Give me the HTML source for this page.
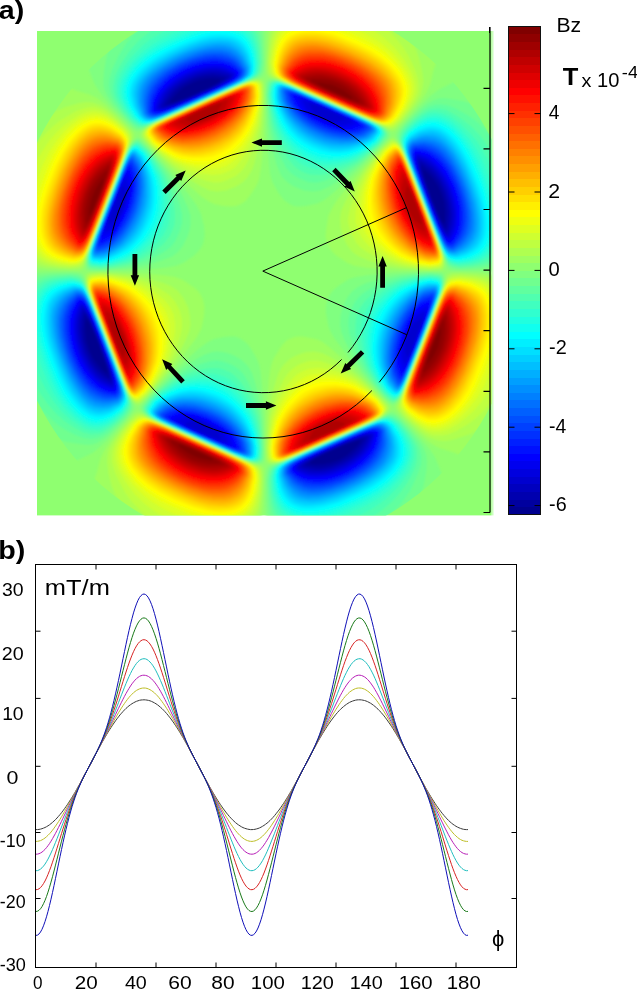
<!DOCTYPE html>
<html><head><meta charset="utf-8"><title>Bz field and gradient</title>
<style>html,body{margin:0;padding:0;background:#fff}svg{display:block}text{font-family:"Liberation Sans","DejaVu Sans",sans-serif;fill:#000}</style></head><body>
<svg width="637" height="990" viewBox="0 0 637 990">
<rect width="637" height="990" fill="#fff"/>
<defs><clipPath id="cr"><rect x="37" y="31" width="454.5" height="484.4"/></clipPath>
<clipPath id="cd"><ellipse cx="265.2" cy="271.5" rx="258.0" ry="276.4"/></clipPath><filter id="bl" x="-5%" y="-5%" width="110%" height="110%"><feGaussianBlur stdDeviation="0.9"/></filter></defs>
<rect x="37" y="31" width="454.5" height="484.4" fill="#8fff70"/>
<rect x="491.5" y="31" width="2" height="484.4" fill="#8fff70" opacity=".45"/>
<g clip-path="url(#cr)"><g clip-path="url(#cd)"><g filter="url(#bl)">
<path fill="#9fff60" d="M268.5 28l165.5 0 2.5 6 2 6 1 6-.5 4.5-1.5 9-4 10.5-3 13.5-4 9-6 9-11 13.5-14 15-3 1.5-3-1-5.5-3.5-8.5-4.5-83.5-37-10.5-4.5-12-3.5-1.5-1-.5-.5-1-3 0-10.5 1-24zM251.5 80.5l6-1 4.5 0 1.5 1 1 4.5 0 34.5-1 24-2.5 24-2 12-2.5 6-6.5 10-4.5 5.5-4.5 3-4.5 2-6 .5-7.5-.5-9-2-6-3-6-4-21-18.5-13.5-13-19.5-20.5-6.5-7.5-1-1.5 0-1.5 1.5-3 3.5-3 5.5-3.5 7.5-4 81-36zM53.5 85l6 0 7.5 2 10.5 4 12 3.5 7.5 3.5 7.5 5.5 12 11 16.5 17 1.5 3-.5 3-5 9-3.5 8.5-34.5 89-4 12-3.5 12-1.5 1.5-3 1-30-1-9-1-6-1.5 0-173.5 6-4 4.5-2 4.5-1.5zM390 139l2.5-1.5 1.5 .5 1.5 1.5 3 3.5 4 6.5 4.5 12 36 93 1 4.5 .5 6-1 4.5-1.5 1-12 .5-31.5-1-30-2-13.5-2-7.5-3-10.5-7-3.5-3-2.5-3-3.5-6-2-7.5 1-9 2-12 4.5-9 5-7.5 9.5-12 12.5-15 21-24zM89 272.5l12.5-.5 30 1 19.5 1 15 1.5 9 1.5 8 3 11 7.5 3.5 3 2.5 3 3 6 1.5 7.5-.5 9-2.5 12-4.5 9-14.5 19.5-12.5 15-21 24-7 7-3 2.5-1.5 .5-3-2-3-4-4-7-35-90-5-15-1.5-6 0-6 .5-1.5zM447.5 274l3.5-1.5 10.5 0 21 1 12 2 0 175.5-7.5 4-7.5 2.5-7.5 .5-6-1-7.5-2.5-6-2.5-12-3.5-6-3-7.5-5-7.5-6.5-15-15-6.5-7-2-3 0-3 5.5-10 3-7 34-88 5.5-15 2.5-10.5zM294.5 337l3.5-.5 4.5 0 13.5 2.5 6 2.5 6 4.5 18 15.5 19.5 19 23 24 1.5 3 0 1.5-2 3-5.5 4.5-5 2.5-13.5 6.5-81 35.5-7.5 2.5-6 0-2-.5-1-1.5-.5-3-.5-12 .5-27 1-19.5 2-21 1.5-10.5 1.5-6 2-4.5 7.5-12 3-3.5 3-2.5 3-1.5zM136.5 412l1-.5 3 .5 9.5 6 13 6 82.5 36.5 16.5 5.5 1.5 1.5 .5 3 0 10.5-1 24-1.5 13.5-163 0-3-6-2.5-6-1.5-6-.5-6 2-10.5 4-12 3.5-13.5 3.5-7.5 7-10.5 16-19.5 7.5-8z"/>
<path fill="#80ff80" d="M87.5 28l177 0 .5 33-.5 10.5-1 3-.5 1.5-2.5 1.5-7.5 2-13.5 5.5-81.5 36-10 5-7.5 5-3 .5-3-1.5-4.5-4-19-20-10-12-6-9-5.5-13.5-3-6-3.5-13.5 0-6 .5-6 1.5-6zM465 77.5l7-1.5 7.5 .5 6 1.5 9 4.5 0 188.5-18 0-21 0-4.5-.5-3-1-1-1.5-4-13.5-20.5-54-18-46.5-3-7.5-5.5-9 0-1.5 0-1.5 1.5-3 6-7.5 17.5-19 10.5-10 7.5-5.5 12-6 6-3.5zM267 80.5l2.5-1 3 0 4.5 .5 4.5 1.5 87 38 10.5 5 6 4 3.5 3 1 1.5 .5 1.5 0 1.5-2 3-5.5 6-23 23.5-15 14.5-12 10.5-7.5 6-7.5 4-12 2.5-7.5 .5-4.5-.5-3-1.5-6-4-6-7.5-6-10.5-2.5-9-2.5-25.5-1-22.5-1-33 .5-9zM135.5 139l2-1.5 1.5 .5 3 2.5 7 7.5 28 31.5 14 18 5.5 7.5 4.5 9 3 12 .5 6 0 4.5-1.5 7.5-3.5 6-6 6-9.5 6.5-4.5 2-4.5 1.5-9 1.5-15 1.5-19.5 1-31.5 1-9 0-3-.5-1-1-1-1.5 0-4.5 1-6 1.5-6 37.5-97.5 4-8 3-4.5zM34 272.5l13.5-.5 25.5 0 6 .5 3 1 1.5 1.5 3.5 12.5 5.5 15 33 85.5 3 7.5 5 9 1 3 0 1.5-2 3-6 7.5-19 20.5-10.5 9.5-4.5 3.5-13.5 6.5-6 3.5-12 3.5-7.5 .5-6-1-7.5-3-6-3.5zM405.5 272.5l24.5-.5 11.5 .5 2 1 .5 .5 .5 3 0 3-1.5 7.5-3 9-36 93-2.5 5.5-3 5-3 3.5-3 2-3-2-6-6-20.5-23-15-18-13.5-18-3.5-6-2.5-6-2.5-13.5 0-7.5 2-7.5 3.5-6 3-3 6-4.5 8.5-5.5 7-2 9.5-1.5 18-2zM224 337l6.5-.5 4.5 0 4.5 1.5 4.5 3 4 3.5 3.5 5 5 8.5 2.5 6 1.5 7 1 9.5 1.5 18 1 21 .5 39-.5 3-.5 1-1.5 1-3 .5-3-.5-9-2.5-84-37-15-7.5-5.5-4.5-2-3 0-1.5 1.5-3 9-10 21-21.5 24-22 7.5-6 6-4 4.5-2zM390.5 412l2-.5 3 1.5 7.5 7 22 23.5 6 7.5 4 6 5.5 13.5 3.5 7.5 3.5 13.5 0 7.5-1 6-2.5 7.5-3 6-175 0-.5-15 0-25.5 1-7.5 .5-3 1-1 1.5-1 13.5-4 81.5-36 13-6z"/>
<path fill="#afff50" d="M272 28l130 0 5.5 7.5 5 7.5 4 7.5 2.5 7.5 3 12 1.5 10.5-1 7.5-2 7.5-5.5 9-13 16.5-6.5 6.5-1.5 1-3 .5-3-.5-19-9-84.5-37.5-11-4.5-2.5-1.5-2.5-3-.5-1.5-.5-9 2-23zM253.5 80.5l4-.5 3 1 1.5 1 1 3 .5 10.5-.5 13.5-1 16.5-2.5 16.5-5 21-2 6-2.5 4.5-3 4.5-3 3-4.5 3.5-4.5 2.5-9 3.5-9 1-7.5-1-7.5-3.5-15-9-15-11.5-21-19.5-8-9.5-.5-3 0-1.5 2-3 3.5-3 5.5-3 86-38.5 9-3.5zM79.5 103l7-1 6 .5 7.5 2.5 6 3.5 10.5 8.5 11.5 11.5 3.5 4.5 .5 3 0 3-8 19.5-41 106.5-1.5 1.5-2.5 1.5-9 1-12-1-12-1.5-6-1.5-6-3 0-133 12-11 10.5-7 9-4zM390.5 140.5l2-.5 3 1 3 3 3 4.5 5.5 13 12 31.5 18 46.5 5.5 15 1 6 0 3-.5 3-1 1.5-1.5 1-12 1-27-2-18-3-16.5-5-9-4-6-4.5-5.5-7.5-3.5-7.5-2.5-9-.5-9 1-7.5 4-9 8-15 11-16.5 18-22zM90 274l11.5-1 27 2 18 3 17 5 8.5 3.5 6 4.5 5.5 7 4.5 9 2 9 .5 9-1.5 7.5-4 9-7.5 15-11.5 16.5-18 22-7.5 7-1.5 1-1.5 0-1.5-.5-3-2-3-4-2-4-7-16.5-28-73.5-4.5-12-1.5-7.5-.5-3 .5-3 1-2zM450 275.5l2.5-1 7.5-.5 13.5 1 13 2 5 1.5 3 1.5 0 136-12 10.5-6 4-6 3.5-6 2-10.5 3.5-7.5 1.5-4.5 0-6-1-4.5-1.5-4.5-2-6-4.5-7.5-6.5-9.5-9-5-6-1-3 0-1.5 1-3 8.5-21 34-88.5 5-14 1.5-2.5zM306.5 352l8-.5 7.5 1.5 7.5 3.5 15 9 16.5 13 18 17.5 7.5 8.5 1 1.5 .5 3-3 4.5-3.5 3-7 4-10.5 4.5-81 36-7.5 1.5-4.5 0-2.5-1-1.5-3-.5-10.5 1-15 1-15 2-16.5 1.5-7.5 4.5-15 2-6 2.5-4.5 2-3 3-3 4.5-4 4.5-2.5 6-2.5zM135.5 415l3.5-1 3 .5 13.5 6.5 84 37.5 18.5 7.5 2 1.5 1 1.5 1 3 .5 9-.5 10.5-2 16.5-1.5 6-2 4.5-125 0-10.5-13.5-6.5-12-3-7.5-3-12-1.5-12 .5-6 1-4.5 2-4.5 2.5-4.5 7.5-10.5 8-9.5z"/>
<path fill="#70ff8f" d="M121.5 29.5l1-1.5 138.5 0 1.5 9 .5 13.5 .5 12-1 9-2 3.5-3 2-12 5-84.5 37.5-19 9-3 .5-1.5 0-3-1.5-6-5.5-15.5-17.5-6-9-2.5-6-1-4.5 0-4.5 .5-9 2-12 2-7.5 2.5-6 3-6zM271.5 80.5l2.5-.5 4.5 1 9 3 88.5 39.5 6 3.5 3.5 3 2.5 4.5-.5 3-8.5 9.5-19.5 18.5-15 12-15 9-9 4-7.5 1-9-1-7.5-3-4.5-2-4.5-3.5-3-2.5-3.5-4.5-4-9-5-18-3.5-22.5-2-30 1-12 1-1.5 1-1zM439 98.5l4.5-.5 7.5 1 12 2 7.5 2.5 6 2.5 6 4 6 5 6 6 0 145-1.5 1-10.5 1.5-21 1-6-.5-4.5-1-1.5-1-2-2-43-111.5-6-14.5 0-4.5 1-3 5-6.5 7.5-8 9-8.5 6-5 6-3zM135.5 140.5l2-1 3 1.5 8.5 8.5 17.5 21 8.5 12 4.5 7.5 8 16.5 3 9 0 4.5 0 4.5-1 6-2 6-4.5 9-5 6.5-6 4.5-9 3.5-16 5-18.5 3-27 2-10.5-.5-1.5-.5-1.5-1-.5-1.5-1-4.5 1-6 2.5-7.5 36.5-94.5 5-9.5 1.5-2zM52 274l18-.5 6 .5 3 .5 1.5 1 3 3 7.5 21 41 105 0 4.5-1.5 3-5 6.5-7.5 7.5-9 9-6 4.5-6 3.5-4.5 1.5-4.5 .5-9-1-12-2-7.5-2.5-6-3-6-3.5-6-5.5-7.5-7 0-143 6-2zM412.5 274l17.5-1 10.5 1 1.5 1 1 2 .5 3 0 4.5-1 4.5-4 10.5-35 90-2 4.5-3 5-3 3-3 1-3-1.5-4.5-4-10-11-12-15-10-15-8.5-16.5-3-7.5-1.5-7.5 .5-9 2-9 4.5-9 5-6.5 6-4.5 8.5-4 17-5 16.5-3zM212 352l5-.5 6 .5 6 1.5 6 2.5 6 3.5 4.5 4 3 3.5 3.5 6 2.5 7.5 4 15 3.5 22.5 1 16.5 .5 15-.5 9-1 2.5-1.5 1-4.5 1-4.5-1-15-6-81-36-8.5-5-4-4.5-.5-1.5 .5-3 6-7.5 9.5-9.5 13.5-12.5 10.5-8.5 7.5-5 13.5-8zM387.5 415l2-1 4.5 .5 3 2 5 4.5 9.5 10.5 8.5 10.5 3.5 6 2 4.5 1 4.5 .5 4.5-.5 9-2.5 13.5-2 7.5-3 7.5-3.5 6-4.5 6-6.5 7.5-134 0-1.5-4.5-1-9-1-24 1.5-10.5 2.5-3.5 1.5-1 18-7.5 84.5-37.5z"/>
<path fill="#bfff40" d="M275.5 29.5l.5-1.5 110 0 9.5 10 7.5 9 5 8 6.5 13.5 3 9 1 7.5-.5 7.5-3 7.5-6.5 10.5-8.5 10.5-6 5-3 1.5-3-.5-30-12.5-82.5-37-2.5-1.5-2.5-3-.5-3-1-7.5 1-12 1.5-10.5 2-6zM249 82l4-1 4.5 0 3 1.5 1.5 2.5 .5 12-.5 12-2 16.5-5 19.5-8 18-3 5-3.5 4-4 3.5-4.5 2.5-9 3.5-4.5 1-4.5 0-9-2-15-5.5-15-9-6-4.5-9-7.5-9-8.5-6.5-8-1-3 .5-1.5 1.5-3 3.5-3 5-3 72-32.5 13.5-6zM87.5 107.5l6.5-.5 6 1.5 6 3 6 4.5 12 10.5 4.5 5 2 4.5 0 4.5-17.5 46.5-29.5 75-1.5 2-3 2-7.5 1-12-.5-10.5-2-4.5-1.5-4.5-2-6-5 0-108.5 5.5-7 8-9 6.5-6 5.5-4.5 15-9 7.5-3zM391 142l1.5-.5 1.5 0 3 2 3 3.5 2 4 6.5 15 25.5 66 5.5 15 3.5 10.5 0 4.5-.5 3-1 1.5-2.5 1.5-10.5 1-22.5-2.5-7.5-1.5-15.5-4.5-14.5-7.5-7.5-5-5-5.5-4.5-9-3-9-.5-4.5 .5-4.5 2.5-10.5 5-15 7.5-15 5-7.5 14-18zM90 275.5l2.5-.5 7.5-1 13.5 1 16.5 2.5 16.5 4.5 13.5 7 9.5 6 5.5 6.5 4.5 8.5 2.5 9 0 4.5 0 4.5-2 9-5.5 16.5-9 16.5-9.5 13.5-9.5 11.5-7.5 6.5-1.5 0-1.5 0-3-2-1.5-2-4-6.5-6-15-28.5-73.5-4-12-1.5-4.5 0-4.5 .5-3.5zM451.5 277l2.5-.5 6-.5 16.5 1.5 6 1.5 4.5 1.5 3 1 4.5 3.5 0 113-8 9.5-7 7.5-6 5-6 4.5-10.5 6-9 4-6 1-6 0-4.5-.5-6-3-12-9-7.5-6.5-3.5-4.5-2.5-4.5-.5-3 1.5-4.5 4.5-12 39.5-102.5 3-6 1.5-1.5zM309 361l4-.5 4.5 0 4.5 1 6 2 13.5 5 13.5 8.5 6 4 9 8 10 9.5 6 7.5 .5 3-.5 1.5-3.5 4.5-5 3.5-40.5 18.5-54 23.5-6 1.5-3 0-2.5-.5-2-1.5-1-3-1-9 1-10.5 2-21 5.5-19.5 8-18 5-7 4.5-4 4.5-3 6-2.5zM137 416.5l2-1 3 0 4.5 2 99.5 44 8.5 4 3.5 2 2 3 1 6 0 4.5-.5 12-1.5 9-1.5 6-2.5 6-3.5 4.5-103 0-.5-.5-13.5-13.5-6-7-4-6-8.5-16.5-3-9-1-4.5 0-4.5 .5-6 1.5-4.5 2-4.5 5.5-9 8.5-10.5z"/>
<path fill="#60ff9f" d="M138.5 29.5l1.5-1.5 117 0 3 9 1.5 12 .5 13.5-1.5 9-1.5 3-3 2.5-19.5 9-91.5 40.5-4.5 1-3-.5-3-1.5-5-4.5-8-9-6.5-9-2.5-4.5-2-4.5-1-4.5-.5-4.5 .5-6 2.5-9 7-15 7.5-12zM270.5 82l3.5-1 3 0 4.5 1 6 2.5 86 38 8 4.5 3 3 2 3 0 1.5-1 3-6.5 8-16.5 15-6 4.5-15 9.5-15 5.5-9 2.5-4.5 0-4.5-.5-9-3.5-7.5-4.5-3-3-3-3.5-7-13.5-4.5-12-4-16.5-2-19.5-1-10.5 1-9 .5-3zM435.5 104.5l6.5 0 6 1 7.5 3 12 6.5 6 4 6 5 6 6 9 9.5 0 122-6 3-6 1.5-7.5 1-15 1-7.5-1.5-3-1.5-1.5-1.5-1.5-3-7-16.5-38.5-100.5-1.5-4.5 .5-4 1.5-3.5 4.5-6 9-8.5 9-7.5 6-3.5zM135.5 142l2-.5 2 .5 8.5 7.5 7 9 9 12 9 16.5 4.5 10.5 3 10.5 1.5 6 0 9-2.5 9-4.5 9.5-3 4-3 3-7 4.5-15 7.5-15.5 4.5-7.5 1.5-22.5 2.5-10.5-1-2-1.5-1-1.5-.5-3 .5-6 2-7.5 36-93 2.5-5 3-5zM58.5 275.5l11.5-.5 7.5 1 3 1.5 3 4 29.5 75 17.5 46.5 .5 3-1 3-2.5 4.5-3.5 4.5-7.5 7-9 8-6 3.5-4.5 1.5-6 1-7.5-1-9-3.5-10.5-5.5-6-4-8-7-7.5-7.5-8.5-9.5 0-118 4.5-3 4.5-2 6-1.5zM413.5 275.5l16.5-1.5 9 1 1.5 .5 1.5 1.5 .5 1.5 .5 3-.5 4.5-1.5 6-4.5 12-33 85.5-2 4-3 4.5-3 3-1.5 .5-1.5 0-3-1.5-5-4.5-9-10.5-9.5-13.5-7-12-4-9-5.5-16.5-1-7.5 0-7.5 2.5-9 3.5-7.5 5-6 4.5-4 14.5-8 7.5-3 15.5-4.5zM211 361l6-.5 6 1 6 2 6 3 4.5 3.5 3 3 3 4.5 3 5.5 5 11 2 6 4 15 1 6 1.5 15 .5 13.5-.5 9-1.5 2-1.5 1-4.5 .5-7.5-1.5-43.5-19-48.5-22-7.5-4.5-3.5-4.5-.5-1.5 1-3 5.5-7.5 10-9.5 12-10 12-7.5 6-3.5 12-4.5zM386 416.5l3.5-1 3 .5 3 1.5 6 5 7.5 9 7.5 10.5 3.5 7.5 1.5 7.5-.5 7.5-2.5 7.5-2.5 6-5.5 12-4 6-5 7-14.5 15.5-111.5 0-2.5-4.5-2-5.5-1-6.5-1-10.5-.5-10.5 .5-6 1-4.5 2.5-3 5-3 22-10z"/>
<path fill="#cfff30" d="M279.5 29.5l1-1.5 89.5 0 1.5 1 12 8.5 10.5 9.5 10.5 13.5 7 12.5 3 9 .5 4.5 0 4.5-2 7.5-5 9-8.5 12-3.5 3-2 2-3 1.5-4.5 0-7.5-3-21-9-61.5-27-19.5-9.5-2.5-1.5-2-3-1-3-1-7.5 1.5-12 2-10 2.5-6.5zM250.5 82l4-.5 3 .5 2.5 1.5 1 3 .5 9-.5 9-3 21-6 16.5-2 4.5-4.5 7.5-7.5 10-4.5 4.5-4.5 2.5-7.5 3-9 1-12-1.5-7.5-2-4.5-1.5-15-8-12-9-10.5-9-5.5-8-.5-3 1.5-3 3-3 6-3.5 70.5-31.5 16.5-7.5zM87 112l7-1 6 1 6 2.5 7.5 5 10.5 9 3.5 4.5 2 4.5-.5 4.5-4.5 13.5-25.5 66-11 28.5-4.5 10-3 3.5-4.5 1.5-6 .5-12-1.5-9-2-6.5-3-5-4.5-3.5-5 0-82 4-9 5.5-9 6-9 6.5-7.5 8-7.5 7.5-5.5 9-5.5zM391 143.5l3-1 1.5 .5 3 2.5 4.5 7.5 5.5 13 25.5 66 7 19.5 1.5 6 0 4.5-1.5 3-2 1.5-9 1-13.5-1-15-3-13.5-5-9.5-5.5-10-7.5-6.5-7.5-4-7.5-2.5-9 0-9 2-13.5 3-10.5 6.5-15 9-13.5 8-10.5zM97.5 275.5l4 0 9 .5 15 2.5 6 2 14 5.5 9.5 6 9 7.5 6 7.5 3.5 7.5 1.5 9 0 9-2.5 13.5-2.5 9-6 13.5-8.5 13.5-9 11.5-7.5 6.5-3 .5-3-2-3-3.5-3.5-7-36-93-1.5-6-1-4.5 0-3 1-3 2-2zM452 278.5l8-1 10.5 1 9 2 4.5 1.5 4.5 2.5 3.5 3 2.5 3 0 89.5-5 9.5-8 12-7.5 9-8.5 7.5-7 5.5-10.5 6-7.5 2-7.5 0-4.5-1-6-3-7.5-5.5-7.5-6.5-5-6.5-1.5-3 0-3 1-4.5 3.5-10.5 36.5-94 3-7.5 3-5.5 1.5-1.5zM311 368.5l5-.5 4.5 0 13.5 2.5 9 3 12 6 13.5 10 10.5 9.5 5.5 7 1 3-.5 1.5-3 4.5-4.5 3-27 13-64.5 28-7.5 2.5-3 0-3-.5-1.5-1-1.5-3-1-9 1-10.5 3-19.5 5.5-16.5 3-6 5-8.5 7.5-9.5 3-2.5 4.5-3 4.5-2zM137.5 418l3-1 3 0 9 3.5 88.5 39 10.5 5 5 3 2 3 1 6 0 4.5-.5 9-3 14-2.5 5.5-2 3.5-6 5.5-79 0-11-6.5-10.5-8-10.5-10-9.5-13-6.5-12-1.5-4.5-1.5-6 0-4.5 .5-4.5 1.5-4.5 2-4.5 4.5-7.5 6.5-9 4-3.5z"/>
<path fill="#50ffaf" d="M152.5 29.5l2-1.5 98.5 0 2.5 4.5 2 4.5 2 12 1 13.5-1 7.5-1 3-2.5 3-9 5-78 34.5-24 10-3 1-4-1-3.5-2-4.5-4-7.5-9-4.5-7.5-2.5-4.5-1.5-4.5-1-6 .5-4.5 1.5-7.5 3.5-7.5 4-7 6-9 4.5-5.5 6-6.5zM273 82l2.5-.5 3 0 9 3 84 37.5 7 3.5 4 3 3 4.5-.5 3-6 8-10.5 9.5-12 9-13.5 7-10.5 3.5-7.5 1.5-6 .5-9-.5-7.5-2.5-4.5-3-4.5-3.5-7.5-9.5-7-12.5-5.5-15-1.5-6-2-13.5-1.5-13.5 1.5-10.5 1-2zM432 109l7-.5 7.5 1.5 9 5 7.5 5 9 7 8.5 9 7.5 10.5 6.5 10 0 100-5 4-5.5 2.5-12 2.5-12 1-7.5-1.5-3-1.5-1.5-1.5-3-5.5-5-12.5-37.5-97.5-1.5-6 0-3 1.5-4.5 3.5-5 9-9 6-4.5 6-3.5zM134.5 143.5l1.5-1 3 .5 7.5 6.5 8 10.5 7 10.5 3.5 6 6 15 3 13.5 1 7.5 0 6-.5 6-1.5 4.5-3.5 7.5-6 7.5-9.5 7.5-6 4-4.5 2.5-15 5.5-15 3-13.5 1-9-1-2-1.5-1-4.5 .5-4.5 2-7.5 34.5-90 5-10.5 1.5-2zM427 275.5l4.5 0 6 .5 3 1 1.5 2.5 .5 3.5-1.5 7.5-15 40.5-23 59-4.5 7.5-3 2.5-1.5 .5-1.5-.5-1.5-.5-6.5-5.5-8.5-10.5-8.5-13.5-5.5-12-3.5-9-3-15 0-9 1-9 3-7.5 5.5-7.5 6.5-6 10.5-7.5 6-3 13.5-5 15-3zM63 277l7-.5 7.5 1.5 3 1 3 4 6.5 15 23 58.5 13 34.5 3.5 10.5 0 3-.5 3-1.5 3-3.5 5-9 8.5-6 4.5-6 4-4.5 1.5-7.5 .5-7.5-2-10.5-5.5-8.5-6-8.5-7.5-8-9-7.5-10.5-6.5-11.5 0-93.5 4.5-5 6-3.5 9-2.5zM207 368.5l7-.5 6 .5 6 2 4.5 2 4.5 3.5 4.5 4.5 4.5 6 5.5 9 3.5 7.5 4.5 13.5 3 16.5 1 16.5-.5 7.5-.5 1.5-1.5 2-3 1-4.5-.5-6-1.5-7.5-3-79.5-35.5-8-4.5-2-1.5-2.5-3-1-3 0-1.5 1-1.5 4.5-6 9.5-9 10.5-8 6-4 13.5-6.5 7.5-2zM383.5 418l4.5-1 3 0 3 1.5 5.5 4 7.5 9 6 9 3 6 1 6 0 6-1 6-1.5 4.5-3.5 7.5-4.5 7.5-5.5 7.5-5 6-5 5-10.5 9-10 7-90 0-.5-.5-3.5-4-2.5-5-1.5-5.5-2-10.5-.5-12 .5-4.5 1.5-6 2-3 4.5-3 21-9.5 67.5-30z"/>
<path fill="#dfff20" d="M284 29.5l2-1.5 67 0 14 6.5 9 5.5 6 4 10.5 9 8 9.5 7 10.5 2.5 6 1.5 4.5 .5 7.5-2 7.5-5 10.5-6.5 9-4.5 4.5-4.5 2.5-3 0-4.5-1-21-9-61.5-27-16-7.5-7.5-4.5-2-3-1.5-6-.5-4.5 1.5-10.5 1.5-7.5 2-6 3-5zM246.5 83.5l5-1.5 4.5 .5 2.5 1 1.5 3 .5 7.5 0 3-1.5 12-2.5 13.5-2 6-4.5 10.5-6 10-4.5 5.5-4.5 5-4.5 3.5-4.5 3-7.5 2.5-10.5 1-12-1.5-10.5-3-10.5-4.5-13.5-9-9.5-8-5.5-7.5-.5-3 1.5-3 3-3 4.5-3 44-20 40.5-18zM90 115l5.5-.5 4.5 .5 6 2 7.5 4.5 9 7.5 4.5 5.5 1.5 4.5-.5 4.5-5.5 16.5-23.5 61.5-11 28-4.5 9.5-1.5 2-1.5 1-4.5 1.5-6 .5-10.5-1.5-9-2.5-7-4-5-6-4-7.5-.5-2 0-49 4-13.5 4.5-12 7.5-15 6-9 8.5-10.5 7-6.5 9-6.5 4.5-2zM391 145l3-1 1.5 0 3 2.5 1.5 2 3 5.5 5 12 25.5 66 7 19.5 1.5 6 0 3-1 3-2 2-9 1-10.5-1-15-3.5-8-3-11-6-9.5-7.5-7-7.5-3-4.5-2.5-4.5-2.5-9-.5-10.5 1.5-13.5 2.5-10.5 5-12 7-12 7.5-10.5zM95 277l6.5-.5 10.5 1 11 2.5 7 2 11 5.5 7 4.5 10 9 6 7.5 3.5 7.5 2 9 0 12-1.5 12-4 13.5-4 9-8.5 13.5-6.5 8.5-6 5-1.5 .5-1.5 0-1.5-.5-3-2.5-4.5-8-15.5-39-20.5-54-2-7.5-.5-6 1-2.5 1.5-1zM452 280l8-1 10.5 1.5 9 2.5 4.5 2 3.5 2.5 2.5 3 3 4.5 1.5 2.5 0 61.5-5 14-6 13.5-6 10.5-9.5 12-8 8-10.5 7.5-4.5 2-4.5 1.5-7.5 .5-6-1.5-6-3-4.5-3-9-7.5-4.5-6-1-3 0-3 1-4.5 4-12 35-90.5 3-7 3-5zM312.5 374.5l9.5-1 12 1.5 7.5 1.5 13.5 5.5 13.5 9 9 8 6 7.5 1 2.5 0 1.5-3 4.5-4.5 3-13 6.5-27 12-51 22.5-7.5 2-3 0-2.5-1-1.5-1.5-1-1.5-.5-7.5 1-13.5 3.5-18 5.5-13 3-5.5 3-4.5 4.5-6 4.5-5 4.5-3.5 4.5-3 4.5-2zM141.5 418l2 0 4.5 1 19.5 8 74 33 9 4.5 4.5 3 2 3 1 3 .5 7.5-1.5 10.5-2 7.5-2 6-3 5-6 5.5-6 3-50 0-14.5-5-10.5-5-12-7.5-7.5-6-10.5-10.5-8-11-2.5-4.5-2.5-6-1-4.5-.5-4.5 .5-4.5 1-4.5 2.5-6 3.5-6 7-9.5 4.5-4z"/>
<path fill="#40ffbf" d="M167.5 29.5l3-1.5 78 0 3 3.5 2.5 4 2 5.5 1.5 6.5 1.5 15-1 7.5-1 3-2.5 3-2 1.5-8.5 4.5-75 33.5-22.5 9-4.5 1-3-1-7-5-7-9-5.5-9-2.5-6-.5-4.5 0-6 1-4.5 3-7.5 4.5-7.5 5-7 6-6.5 6-6 7.5-6 9-5.5zM272 83.5l3.5-1.5 3 0 9 3 81 35.5 9.5 5 4 3 2.5 4.5-.5 3-5.5 7.5-10 8.5-12 8-9 4-10.5 3.5-12 2-10.5-.5-4.5-1-4.5-1.5-4.5-2.5-4.5-3.5-7.5-8.5-7-10-6-13.5-2-6-2.5-12-1.5-13.5-.5-3 1-7.5zM434.5 112l7.5 1 7.5 3 10.5 7.5 8.5 8 8 9 6.5 10.5 6.5 12 5 12.5 0 75-3 4-3 3-4.5 2.5-4.5 2-9 2-12 1-4.5-1-3-1-3-2.5-1.5-2-4.5-10-9.5-24-25.5-66-4.5-13.5-1-4.5 .5-3 1-3 4.5-6 9-8 6-4.5 6-3zM133.5 145l2.5-1 3 .5 6 5 8 10.5 6.5 10.5 3 6 5 15 2 10.5 .5 7.5 0 6-1 6-1 4.5-2 4.5-2.5 4.5-6 7.5-9.5 8.5-8 5-11.5 5.5-15 3.5-12 1.5-9-1-1.5-.5-1.5-1-1-3.5 0-4.5 2-7.5 35-90 4.5-9.5 1.5-2zM424 277l7.5-.5 6 .5 2.5 1.5 1 1.5 1 3 0 3-1 4.5-10.5 28.5-27 69-2 4-3 4.5-3 2.5-1.5 0-1.5 0-6-4.5-3-3.5-6.5-9-6.5-10.5-3-6-4.5-13.5-1.5-9-1-13.5 1.5-10.5 3-7.5 5-7.5 7-7.5 7.5-6 9.5-5.5 8-3.5 14.5-3.5zM66 278.5l5.5-.5 7.5 2 3 2 3 4.5 8 19 25.5 66 7 19.5 3 9 .5 3-1.5 4.5-2.5 4.5-2.5 3-7.5 7-6 4-6 3.5-4.5 1.5-7.5-.5-4.5-1-4.5-2-10.5-7-9.5-8.5-9.5-12-6.5-10.5-7-13.5-5-15 0-64.5 2.5-4.5 2-3 3-3 3-2.5 4.5-2 6-1.5 4.5-1zM198 374.5l7-1 7.5 0 6 1 6 2 6 3.5 4.5 3.5 5.5 6 5 7 4 6.5 6 13.5 1.5 6 2 10.5 1.5 16.5-1 7.5-.5 1.5-1.5 1.5-3 1-4.5-.5-12-4.5-78-34.5-9-5-3-3-2-3 .5-3 .5-1.5 5.5-7 9-7.5 10.5-7.5 4.5-2.5 13.5-5zM385.5 418l2.5-.5 3 1 3 1.5 5 4 7 9 4.5 7.5 2.5 6 1 6 0 4.5-1 4.5-2 6-2 4.5-5 7.5-4 5.5-12 12-7.5 6-9 6-10.5 5.5-10 4-64 0-4-2.5-3-3-3-4.5-2-5-2-7.5-1-6-.5-9 0-4.5 1.5-6 2-3 7.5-4.5 17-8 67.5-30 12-5z"/>
<path fill="#efff10" d="M289.5 29.5l3-1.5 44 0 14 5 13.5 6 12 6.5 10.5 7.5 7.5 7.5 8 9.5 4.5 9 2.5 7.5 0 6-2 7.5-3 7.5-7 10.5-4.5 4-4.5 2-3 0-6-1.5-21-9-61-27-13-6-7-4.5-1-1.5-1.5-3-1-7.5 2.5-15 2.5-7.5 3-5.5 3-3zM247.5 83.5l4-1 4.5 .5 1.5 1.5 1 2 1 7.5 0 3-1.5 12-3.5 13.5-4.5 10.5-7.5 11.5-9 10-4.5 3.5-4.5 3-4.5 1.5-4.5 1.5-10.5 1-10.5-.5-12-3-9-4-12-7.5-9-7.5-4.5-6.5-1-3 1-3 3-3 4.5-3 57-26 27-11.5zM91 118l6-.5 4.5 .5 7.5 3 6 4 7.5 6 3 4 1.5 2.5 .5 3 0 4.5-3.5 10.5-7 19.5-24.5 62.5-7.5 18-3 4-3 2-3 1-4.5 0-10.5-1.5-9-3-6-3.5-4-4.5-3.5-6-2.5-9-1-10.5 0-12 1.5-12 4.5-15 6-16.5 6-13.5 6-10.5 8-10.5 9-8.5 7.5-5zM393.5 145l2 0 3 2 1.5 2 3 5.5 8 19 25.5 66 4 12 1 6-1 5-1.5 1.5-1.5 .5-7.5 1-12-1.5-13.5-4-7.5-3.5-10-6.5-8.5-7.5-6-7.5-5-9-1-4.5-1.5-6-.5-10.5 1-12 3.5-13.5 2.5-6 5.5-10.5 7.5-10.5 2-2.5 4.5-3.5zM92.5 278.5l9-1 10.5 1.5 13.5 3.5 7 3.5 11.5 7.5 8 7.5 6 7.5 5 9 2 9 1 12-1 10.5-3.5 13.5-3 7.5-7.5 13.5-6 8.5-7.5 6-1.5 0-1.5-.5-3-2-1.5-2-3-6-30.5-77.5-5.5-15-2-7.5 0-3 .5-3 1.5-2zM451.5 281.5l7-1 13.5 2 9 4 4 2.5 2.5 3 4.5 7.5 2.5 9 0 29.5-3.5 15.5-6.5 18-7.5 16.5-7 12-8.5 10.5-6 5.5-4.5 3.5-6 3.5-4.5 1.5-4.5 1-4.5 0-4.5-1-6-3-4.5-2.5-7.5-6-2.5-2.5-2.5-4.5-1-3-.5-3 1.5-6 5-13.5 33-85.5 4.5-9 1.5-2zM315 379l8.5-1 10.5 .5 12 2.5 9 3.5 13.5 8.5 9 7 5.5 7.5 .5 3-.5 1.5-2.5 3-1.5 1.5-8 4.5-74.5 33-15 6-4.5 .5-3-1-1.5-1-.5-1.5-1-7.5 0-3 1-10.5 3-12 2-6 2.5-6 3.5-6.5 4.5-6.5 9-10 4.5-4 4.5-2.5 4.5-2zM140.5 419.5l3-1 3 .5 12 4.5 76 33.5 12.5 6 5 3 2 1.5 1.5 3 1 3 .5 6-1.5 10.5-1.5 6-2.5 6.5-3.5 5.5-2.5 2.5-4.5 3-4.5 2-6 2-6 .5-7.5 .5-12-1-7.5-1.5-7.5-2-16.5-7-15-7-7.5-5-6-4.5-9-8-8-10.5-4.5-9-1.5-4.5-.5-4.5 0-4.5 1-4.5 4-9 8-12 3-2.5z"/>
<path fill="#30ffcf" d="M182.5 29.5l4.5-1.5 56 0 4 3 3 3 3 5.5 2 5 1.5 7.5 1 12-.5 6-1 3-2.5 3-7 4.5-64 28.5-31.5 13.5-6 2-4.5-.5-3-2-5-4-6.5-9-4.5-9-2-6-.5-4.5 1-6 2-6 3.5-6.5 6-8 6-6.5 7.5-6.5 7.5-5.5 9-5.5 9-4.5zM273.5 83.5l3.5-1 3 .5 9 2.5 82.5 37 6 3 3.5 3 2 3 .5 1.5-1 3-5 7-9 7-12 7.5-7.5 3.5-12 3-10.5 1-10.5-1-9-2.5-7.5-5-4.5-3.5-4.5-5-6-8-7-13-2-6-3-12-1.5-12-.5-3 1-7.5zM427 116.5l4.5-1 3-.5 4.5 .5 4.5 1.5 4.5 2 4.5 3 9 8 8 9 8 12 6 12 6 15 5 17 0 47.5-2.5 6-4.5 6-4 3-5.5 2.5-7.5 2-12 1.5-4.5-1-3-1-3-2-1.5-2-3-6-6-15-32-82.5-2-7.5-1-4.5 .5-4 1.5-3.5 3-4 7.5-7 6-4zM135.5 145l2 0 1.5 1 4.5 3.5 2.5 3 7 10.5 6 10.5 2 4.5 3 12 1.5 12 0 12-2.5 10.5-4 9-7 9-8.5 7.5-10.5 7-7.5 3.5-13.5 3.5-10.5 1.5-9-1-1.5-1-1.5-1.5-.5-4.5 .5-4.5 3-9 33-85.5 4.5-9 3-3zM421.5 278.5l8.5-1 7.5 1 1.5 .5 1.5 1.5 1 2.5 0 3-1 4.5-7.5 21-28.5 73.5-4.5 9-3 3-1.5 1-1.5 0-3-1.5-6.5-5.5-7-10.5-6-10.5-2-4.5-3-10.5-1.5-10.5-.5-12 1.5-9 2-7.5 4-7.5 6-7.5 7-6.5 7.5-5.5 9-5 6-2zM66.5 280l5-.5 7.5 1.5 3 2 3 4.5 7.5 18 23 58.5 9 24 3 10.5 .5 4.5-1 3-4.5 7-10.5 9-6 3.5-6 2-4.5 .5-4.5-.5-4.5-1.5-4.5-2.5-4.5-3-5-4-5.5-5.5-4.5-5-8.5-12-6-12-7.5-18-4.5-16.5-2-9.5 0-30 1.5-5.5 2-6 2.5-4.5 2.5-3 5-4 4.5-2 5-1.5zM193 379l7.5-1 7.5 0 6 .5 6 2 6 2.5 4.5 3 5.5 5 5 5.5 4.5 6 4.5 7.5 3 6.5 2 6 3 12 1.5 12-.5 9-.5 1.5-1 1.5-3 1.5-4.5 0-12-4-78-35-8.5-4.5-3-3-1.5-3 .5-3 5-7 9-7.5 15-9 7.5-3zM382 419.5l4.5-1 3 .5 3 1.5 4.5 3.5 7 9 2.5 4.5 3.5 7.5 1 6 0 4.5-1 4.5-3.5 9-2.5 4.5-5.5 7-9 9.5-10.5 8-13.5 7.5-18 8-9 3-7.5 2-35 0-8.5-3.5-6-5-2.5-3.5-2.5-4.5-1.5-6-1.5-6-.5-12 1-6 2.5-4.5 6.5-4.5 16.5-7.5 64.5-29z"/>
<path fill="#ffff00" d="M297.5 29.5l8-1.5 10.5 0 12 1.5 10.5 3 16.5 7 15 7 10.5 6.5 9 7.5 6.5 6.5 5.5 8 3.5 7 1.5 7.5-.5 6-2 7.5-3 6-6 9-5.5 4.5-3 1-4.5-.5-4.5-1.5-19.5-8-60.5-27-12.5-6-7-4.5-1-1.5-1.5-3-1-7.5 2.5-12 2.5-7.5 2.5-4.5 4-4.5 6-4zM248.5 83.5l3-.5 3 .5 2.5 1.5 .5 1.5 1 7.5-1.5 13.5-4 13.5-4.5 10-7.5 10.5-9 9-4.5 3.5-4.5 2.5-9 3.5-10.5 1.5-12-1-10.5-2-7.5-3-12-7.5-8-6-5-7.5-.5-3 2-3 3.5-3 5.5-3 71.5-32 10.5-4.5zM91 121l4.5-1 6 .5 6 2.5 6 3 7.5 5.5 3 3.5 3 5.5 0 4.5-2.5 9-6 16.5-24.5 63-7.5 18-3 5.5-3 2.5-4.5 1.5-4.5 .5-10.5-2.5-8-3-6-4.5-3.5-4.5-3.5-7.5-2-9 0-10.5 1-12 3-13.5 4.5-13.5 7.5-19.5 6.5-12 7-10.5 8.5-9 7.5-5.5zM392.5 146.5l3-.5 1.5 1 3 2.5 3 5.5 23 57.5 11.5 31.5 3 9 .5 4.5-.5 3-1.5 2-1.5 1-7.5 1-10.5-1.5-13.5-4.5-6-2.5-8.5-6-9.5-9-6-7.5-4.5-9-2.5-9-1-10.5 .5-12 2.5-12 2.5-7.5 7-13.5 6-8.5zM100 278.5l12 2 10.5 3 6 2.5 7 4.5 9 7.5 7 7.5 4.5 7.5 4 9 2 9 .5 10.5-1 12-2.5 10.5-2.5 6-7 13.5-5 7.5-7 5.5-3 .5-3-2.5-1.5-1.5-3-6-22.5-57.5-13.5-36-1.5-7.5 1-4.5 2-2zM451 283l3-1 4.5-.5 12 2.5 9 4.5 3 2 3 3 4 7.5 1.5 4.5 1 6 .5 10.5-1 13.5-3.5 15-6.5 18-7 16.5-7.5 13.5-4.5 6-5.5 6-4.5 4-4.5 3.5-4.5 2.5-4.5 1.5-4.5 1-4.5-.5-4.5-1-6-3-10.5-7.5-3-3.5-1.5-3-1-3 0-3 2.5-9 4-12 30.5-78 6-13 1.5-1.5zM322 382l9-.5 9 1 9 2 7.5 3 10.5 6 10.5 8 4 6 .5 1.5 .5 1.5-1.5 3-3 3-2 1.5-9 4.5-75 33.5-7.5 2.5-4.5 1.5-3-.5-3-1-1.5-3-1-7.5 2-12 4-15 5.5-10.5 4.5-6.5 4.5-5.5 4.5-4.5 4.5-4 4.5-2.5 6-3 4.5-1.5zM140 421l3.5-1.5 3 0 9 3 75.5 33 12.5 6 7.5 4.5 2 1.5 1.5 3 1 4.5 0 4.5-2 10.5-1 4.5-2.5 6-3 4.5-3 3-4.5 3-4.5 2-4.5 1-6 1-6 0-13.5-1-13.5-4-18-7-15-7.5-12-8-9-8.5-7-8.5-4-7.5-1.5-4.5-1-4.5 0-4.5 1-4.5 3.5-9 6.5-10.5z"/>
<path fill="#20ffdf" d="M195.5 29.5l6-1.5 33.5 0 6 2.5 4.5 3 3 3 3 5 3.5 10.5 1.5 12-1 6-1.5 4.5-3 3-11.5 6-78 34.5-9 4-6 1.5-3 0-3.5-1-5.5-4.5-5.5-7.5-3.5-6-3-7.5-.5-6 .5-4.5 1.5-6 4-7.5 4-6 7-7.5 6-5 7.5-5.5 7.5-4.5 10.5-5 13.5-6zM276 83.5l2.5-.5 3 .5 9 3 78 34.5 5.5 3 5 3 3 4.5 0 3-5 7.5-8.5 6.5-12 7-6 2.5-10.5 2.5-12 1-10.5-1-9-3.5-4.5-2-4.5-3.5-7.5-7-7.5-9.5-6-11-4.5-15-2.5-13.5 1.5-9 1-2zM432 118l4 0 4.5 1 4.5 2 4.5 2.5 7.5 6.5 9 10.5 6 9 5.5 10.5 7.5 18 5.5 16.5 2.5 12 1 12 0 12-1.5 9-3 7.5-4 5.5-6 4.5-7.5 3-10.5 2-4.5 0-6-1.5-3-2-1.5-2-4.5-9-6-15.5-25.5-66-6.5-18-1-4.5 .5-3 1.5-4.5 3.5-4.5 8-7 4.5-2.5 6-3zM134 146.5l2-.5 1.5 .5 7.5 6 6.5 10.5 7.5 15 2.5 10.5 1 13.5-.5 10.5-2.5 10.5-4.5 9-5.5 7.5-9 9-9 6.5-7.5 4-13.5 4-10.5 1.5-7.5-1-2-1.5-.5-1.5-.5-3 .5-4.5 2-7.5 33.5-86.5 4.5-9 1.5-1.5zM429.5 278.5l8 1 1.5 1 1 1 1 4.5-1.5 7.5-12 33-23 58-4.5 9-3 2.5-1.5 1-1.5 0-1.5-.5-5-4-2.5-3-7-10.5-4.5-9-2-6-2.5-10.5-1-12 .5-10.5 2-9 3.5-9 5-7.5 7-7.5 8-7 6-4 6-2.5 12-4zM66.5 281.5l6.5-.5 6 1.5 3 1.5 3 4.5 7.5 17.5 19.5 50.5 12 31.5 3 9 0 4.5-.5 3-4 6.5-10.5 8.5-6 3.5-4.5 1.5-4.5 .5-3 0-4.5-1-4.5-2-4.5-3-4.5-3.5-5-5-5.5-6-7-10.5-6-12-8.5-21-5-16.5-2.5-13.5-.5-13.5 1-10.5 3-9 3.5-6 2.5-2.5 3-2.5 3-1.5 6-2.5zM194 382l6.5-.5 7.5 .5 6 1 6 2 4.5 2 6 4 6 5.5 4.5 5 5.5 7.5 4.5 7.5 2 5.5 3 11 2.5 15-.5 7.5-1.5 3-3.5 1.5-3-.5-4.5-1-7.5-3-75-33-8.5-4.5-4-3-2-3-.5-1.5 1-3 5-7 7.5-5.5 12-7.5 4.5-2 7.5-2zM383.5 419.5l3 0 3 .5 3 2 4 3.5 5.5 7.5 3 6 2.5 6 1 6 0 4.5-1 4.5-2 4.5-2.5 4.5-6 8.5-9 9-6 4.5-6 4-13.5 7.5-21 9-13.5 4-13.5 1.5-7.5 0-6-.5-6-1.5-4.5-2-4.5-2.5-3-2.5-4-6-2-6-1.5-6-1.5-10.5 .5-4.5 1-4.5 2-3 1.5-1.5 7.5-4.5 26.5-12 58.5-26z"/>
<path fill="#ffef00" d="M305.5 31l7.5-.5 9 1.5 10.5 2 10.5 4 16.5 7 12 6 10.5 7 8.5 7.5 5 5.5 4.5 6.5 2.5 6 1.5 6-.5 6-2 7.5-3.5 7.5-4.5 7.5-4 3-3 1.5-4.5 0-6-2-21-8.5-57-25.5-12.5-6-6.5-4.5-1-1.5-1.5-3-.5-6 2.5-13 3.5-8 4-5.5 4.5-3.5 7.5-3zM244.5 85l5.5-1.5 3 .5 2.5 1 1 1.5 1 7.5 0 3-2 10.5-2.5 8-2.5 7-2 4-3 5-4.5 6-4.5 4.5-6 5.5-9 5.5-9 3.5-10.5 1.5-10.5 0-10.5-1.5-6-2.5-12-6.5-9-6.5-4.5-6.5-.5-3 1.5-3 3.5-3 5.5-3 50-22.5zM90.5 124l5-1 6 0 7.5 2.5 6 3.5 6 4.5 3 3.5 1.5 2.5 1 2.5-.5 4.5-2 7.5-6 16.5-24 62.5-7.5 18-3 5-3 2.5-4.5 1.5-4.5 0-9.5-2.5-7-3-4.5-3-4.5-5-3-7-2-7.5-.5-9 .5-10.5 2.5-12 3.5-12 8.5-22.5 7-13.5 6.5-10.5 6.5-7.5 8-7zM392 148l3.5-1 1.5 .5 3 3 3 5 6 14.5 23 59 7 19.5 1.5 6 0 3-1 3-2 2-7.5 1-10.5-2-11.5-4-6.5-3-8-6-7.5-7.5-6.5-9-4.5-9-3-9-1-10.5 0-10.5 1.5-10.5 2-7.5 6.5-13.5 5.5-8.5zM97 280l4.5-.5 10.5 2.5 13.5 5 6 3.5 9 7.5 6.5 7.5 5 7.5 4 9 2.5 9 1 12-.5 10.5-2 10.5-6 15-5.5 9-3.5 4-4.5 3.5-1.5 .5-1.5 0-3-2-1.5-2-3-5.5-16.5-42-18-46.5-2.5-9 0-3 .5-3 .5-1 1.5-1zM456.5 283l9.5 1.5 4.5 1.5 4.5 2 5.5 4 3 3 1.5 3 3 7.5 2 10.5-.5 10.5-1.5 12-5 16.5-8.5 22.5-6.5 13.5-7 10.5-7 8-4.5 4-4.5 3-4.5 2-4.5 1.5-3 0-4.5 0-4.5-1.5-4.5-2-10.5-7-3-4-1.5-3-.5-2.5 .5-4.5 2.5-9 6.5-17 22.5-58.5 7.5-18 3-5.5 3-2.5 3-1.5zM326.5 385l9-.5 10.5 1.5 7.5 2 10.5 5.5 10 6.5 3 3 4 6 .5 3-1 1.5-3 3-7.5 4.5-75 33.5-12 4.5-4.5 .5-3-1-2-3-1-7.5 2-12 5-15 2.5-4.5 3.5-6 5-6 4.5-4.5 6-5.5 4.5-3 4.5-2 6-2.5zM142.5 421l2.5-.5 3 0 10.5 3.5 75 33 12.5 6 4.5 3 1.5 1.5 1.5 3 1 7.5-3 13.5-2.5 6-3 4.5-5 5-4.5 2.5-4.5 1.5-6 1-6 .5-12-1.5-15-4-18-7-15-7.5-7.5-4.5-6-4.5-8-7-7-9-3.5-7.5-1.5-7.5 .5-7.5 3.5-9 6-10.5 3.5-3z"/>
<path fill="#10ffef" d="M211.5 29.5l11.5-.5 10.5 1.5 7.5 3 3 2 3 3 3 4.5 2.5 6 1 4.5 1.5 10.5-1 7.5-1 3-1.5 1.5-6.5 4.5-12.5 6-57.5 25.5-21 9-6 2-3 0-3-.5-4-3-3-3-6.5-10.5-3-7.5-1-6 .5-6 2-6 3-6 4.5-6 6-6 6-5.5 7.5-5 9-5 13.5-6.5 15-6 9-3zM275 85l2-1 3-.5 4.5 1 4.5 1.5 75.5 33.5 9 4.5 4.5 3 3 3 .5 1.5-.5 3-5 7-7.5 5.5-12 6.5-7.5 3-9 1.5-10.5 .5-10.5-1.5-9-3.5-9-5-7.5-6.5-7.5-9-5.5-9-5.5-15-2-12 0-3 .5-6zM429.5 121l6.5 0 4.5 1 4.5 2 8 6 7 7.5 8.5 12 5.5 10.5 6.5 15 6 18 3 12 2 12 0 10.5-1.5 10.5-2.5 7.5-3.5 5-2.5 2.5-3.5 2-7.5 3.5-7.5 1.5-6 1-6-1.5-3-2-1.5-2-3-5.5-6-14.5-24-62-8-21-1.5-6 0-4.5 .5-3 3-4.5 1.5-2 9-6.5 6-3.5zM133 148l1.5-1 3 .5 6 5 7 10.5 6.5 15 2 10.5 .5 10.5-1 12-2.5 10.5-4 9-6.5 9-7 7.5-8.5 6.5-6 3.5-13.5 4.5-10.5 2-7.5-1.5-2-1.5-.5-4.5 .5-4.5 2-6 33-85.5 4.5-9zM426.5 280l5-.5 6 1 1.5 1 1 1.5 .5 3 0 3-1 4.5-12.5 33-22.5 57.5-4.5 8.5-3 3-1.5 .5-1.5 0-1.5-1-4.5-3.5-3-3.5-5.5-9-6-15-2-9-.5-10.5 .5-10.5 1.5-9 3.5-9 4.5-7.5 6-7.5 7-7 6-4.5 6-3 12-4.5zM67 283l6-1 6 1.5 3 1.5 3 4 4.5 10 9 22.5 21 54.5 6 18 1 4.5 0 3-1 3-3 4.5-4.5 4-6 4.5-9 4-3 .5-4.5 .5-4.5-1-4.5-2-4.5-3-4.5-3.5-8-8.5-7.5-10.5-6-12-8-19.5-6-18-2.5-13.5-.5-10.5 .5-10.5 2-9 2-4.5 2-3 5-4.5 7.5-4zM190 385l7.5-.5 7.5 .5 6 1 6 2 6 2.5 6 4 6 5 4.5 4.5 5 6.5 5 7.5 2 5 4 11.5 2 13.5-.5 7.5-2 3-3.5 1-3-.5-10.5-3.5-74.5-33-8.5-4.5-4-3-2-3 0-3 4-6 2.5-2.5 9-6 10.5-5.5 7.5-2.5zM379.5 421l4-1 3 0 3 1.5 5.5 4 7.5 12 2 6 1 4.5 .5 4.5-.5 3-1 4.5-2 4.5-6 9-7 7.5-10.5 8.5-12 7-24 10.5-15 5-13.5 2-6 0-6-.5-6-1-4.5-1.5-4.5-3-3-2.5-3.5-5-2.5-5.5-1.5-5-1.5-10.5 0-4.5 1-4.5 1.5-3 1.5-1.5 7.5-4.5 16.5-7.5 57.5-25.5z"/>
<path fill="#ffdf00" d="M302.5 34l7.5-.5 9 .5 10.5 2 10.5 3.5 16.5 7 12 6 10.5 6.5 8 6.5 5.5 6 4.5 6 3 6 1.5 6 0 6-2 7.5-3 7.5-3.5 6-1.5 1.5-4 3-2.5 1-4.5-.5-6-1.5-19-8-54-24-12.5-6-7.5-4.5-1.5-1.5-2-3-1-7.5 2-9 3-7.5 3.5-6 5-4.5 4.5-2.5zM245.5 85l4.5-1 3 .5 1.5 .5 1.5 3 .5 9-2 9.5-2.5 7-4.5 10.5-6.5 10-4.5 4.5-4.5 4-4.5 3.5-6 3.5-9 3.5-10.5 2.5-9 .5-10.5-1.5-9-3-10.5-5.5-7.5-5-5-6.5-.5-3 1.5-3 3.5-3 5-3 60-27zM95.5 125.5l6 0 6 1.5 6 3 7.5 5 3 4 1.5 3 .5 3-.5 3-3 10-7.5 20-21 54.5-7.5 17.5-3 5-3 2.5-3 1-4.5 .5-9-2.5-7.5-3.5-4.5-3.5-4.5-5.5-3-7.5-1-7.5-.5-10.5 1-9 3-12 5.5-16.5 6.5-16.5 7-13.5 7-10 7.5-8 7.5-5 4.5-2zM394.5 148l2.5 .5 1.5 1 1.5 1.5 3 5 7.5 18.5 21 54.5 6.5 16.5 2 7.5 0 3-.5 3-.5 1-1.5 1-7.5 1.5-10.5-2.5-10.5-4-7.5-4-7.5-6-6-6.5-6-9-4.5-9-2.5-9-2-12 .5-10.5 1-9 5-13.5 5.5-10.5 3-4 4.5-4zM93.5 281.5l8-1 9 2 8.5 3.5 9.5 5 7 5.5 7 7.5 6 9 4.5 9 3 10.5 1 10.5 0 10.5-1.5 9-5 13.5-5.5 10.5-3 4-4.5 4-1.5 .5-1.5 0-3-2-1.5-1.5-3-5.5-9-22-22.5-58.5-4.5-13.5-.5-4.5 .5-4zM454 284.5l4.5 0 7.5 2 4.5 1.5 6.5 4 3 3 2.5 3 3 7.5 1.5 9 0 10.5-1 10.5-4 15-8 21-7.5 16.5-6.5 10.5-7.5 9-7.5 6-7.5 3.5-4.5 .5-4.5 0-4.5-1.5-4.5-1.5-10.5-7-2.5-3-1.5-3-.5-3 .5-3 2.5-9 4.5-12.5 30-77 3-6 3-4 3-2zM326 388l9.5-1 9 1 7.5 1.5 9 4 6 3 9 6.5 4 6 .5 3-.5 1.5-3 3-7.5 4.5-64 28.5-19.5 8-4.5 1-4.5 0-1.5-1-1-2-1-7.5 1-4.5 1.5-7.5 3-9 3.5-7.5 3.5-6 7.5-8.5 4.5-4 6-4.5 6-3.5 4.5-2zM145.5 421l4 0 4.5 1.5 15 6 64 28.5 12 6 4.5 3 1.5 1.5 1.5 3 .5 4.5 0 3-3 12.5-4.5 8.5-3 3.5-3 2.5-4.5 2-4.5 1.5-10.5 1-6 0-6-1-7.5-2-7.5-2-18-7.5-15-7.5-12-8-7.5-7-7-8.5-3.5-7.5-.5-3-.5-4.5 .5-7.5 1.5-4.5 2.5-6 4.5-7.5 4-3z"/>
<path fill="#00ffff" d="M209.5 32.5l10.5-1 10.5 1 7.5 2.5 3 1.5 3 2.5 3 3.5 2.5 5 2 5 1.5 6 1 7 0 3-1 4.5-2 3-6.5 4.5-9 4.5-78.5 34.5-6 2-4.5 1-3-.5-4-2.5-3-3-5.5-9-3-7.5-1-6 0-6 1.5-4.5 2.5-6 4.5-6 5-5.5 6-5.5 7.5-5.5 9-5 13.5-6.5 13.5-5.5 10.5-3.5zM276 85l2.5-1 3 .5 7.5 2 34.5 15 44 19.5 8 4.5 3.5 3 1.5 3-.5 3-4.5 6-8.5 6-10.5 5-9 3-9 1.5-9-.5-10.5-2-9-3.5-9-5.5-7.5-6.5-6-6.5-5.5-9-5.5-13.5-2.5-12 .5-9zM426.5 124l3.5-.5 4.5-.5 6 2 7.5 4 4.5 4 4.5 4.5 6.5 9 6 10.5 8 18 6 16.5 3 12 2.5 13.5 0 10.5-1 9-2.5 7.5-2 3-2.5 3-4.5 3.5-7.5 3.5-10.5 2.5-4.5-.5-4.5-1.5-3-2.5-1.5-2.5-3-6.5-7.5-18.5-22.5-58-6-17-1.5-6 0-3 .5-3 2.5-4.5 1.5-2 7.5-5.5 4.5-2.5zM134 148l2 0 1.5 .5 4.5 4 2.5 3 6 10.5 5 13.5 1.5 9 0 10.5-1 10.5-3 10.5-4 9-5.5 9-7 7.5-7 6-8 4.5-11 4.5-9 2-7.5-1-1.5-.5-1.5-1.5-.5-3.5 .5-4.5 2.5-9 32-82 4.5-9 3-3zM425 281.5l5-1 6 1 3 1.5 .5 1.5 .5 3-1 6-10.5 28.5-24 61.5-3 6-3 4-1.5 1-1.5 .5-1.5 0-6-5-2.5-3.5-5-9-5.5-13.5-1.5-9-.5-9 1-9 1.5-9 2.5-7.5 4.5-9 6.5-9 5.5-6 5.5-4.5 6-3.5 10.5-4.5zM67 284.5l6-1 6 1 3 1.5 3 4 4.5 9.5 10.5 26.5 19.5 50.5 6 17.5 .5 4.5-.5 3-1.5 3.5-3 4-9 6.5-4.5 2-4.5 1.5-3 .5-4.5 .5-3-1-4.5-1.5-4-2.5-4-3-4.5-4.5-4-4.5-7-10.5-6-12-7.5-18-6-18-2.5-12-1.5-10.5 .5-10.5 2-9 3-6 2.5-3 3-3 7.5-4zM185 388l6.5-1 7.5 .5 7.5 1 7.5 2 6 2.5 6 3 6 4.5 4.5 4 6 6.5 4.5 6.5 2.5 5 4 10.5 2.5 10.5 .5 4.5-.5 7.5-1.5 2-1 1-2 .5-4-.5-12.5-4.5-71-31.5-8.5-4.5-3.5-3-2-3 .5-3 3.5-5.5 2-2 8.5-5.5 4.5-2.5 9-4zM381 421l2.5-.5 3 .5 3 1.5 3.5 3 5 7.5 2.5 4.5 2 6 1 4.5-.5 7.5-1 4.5-2 4.5-6 8.5-7.5 7.5-12 8.5-15 8-21 9-15 4-12 1.5-6 0-6-1-4.5-1.5-4.5-2-3-2-3-3-3-4.5-2.5-6-2.5-13.5 1-7.5 1.5-3 1.5-1.5 7.5-4.5 19-9 58-25.5 11-4.5z"/>
<path fill="#ffcf00" d="M300.5 37l6.5-1 9 0 9 1.5 10.5 3 15 6 15 7 10 6 8 6 6 6 4.5 6 3.5 6 1.5 6 .5 6-1.5 7.5-2.5 6-4 7.5-3.5 3-3 1.5-4.5 .5-6-2-18.5-7.5-54-24-12.5-6-7.5-4.5-1.5-1.5-1.5-3-1-6 2-8 2-5.5 3-6 4-5 4.5-3zM246.5 85l3.5-.5 3 .5 1.5 1.5 .5 1.5 .5 9-2 9-3 7.5-5 10.5-6 8.5-7.5 7-10.5 7-9 4-10.5 2.5-9 .5-9-.5-9-2.5-10.5-5-8-5-5-6-1-3 1.5-3 3.5-3 5-3 67-30 10.5-4.5zM93 128.5l5.5-1 4.5 .5 7.5 2.5 6 3 4.5 3 3 4 1 3 0 4.5-2.5 9-4.5 12.5-22.5 58.5-7.5 18-3 6-3 3.5-3 1.5-6 .5-9-3-6-3-4.5-3.5-4-5.5-2.5-6-1.5-7.5 0-9 1-9 2-10.5 5-15 7-18 6.5-13.5 6-9 6.5-7.5 7-6zM393.5 149.5l2-.5 1.5 0 1.5 1 3 4 1.5 2.5 18 45 13.5 35.5 4.5 13 .5 4.5 0 3-.5 1.5-2.5 1.5-8 .5-9-2-9-4-8.5-5-7-6-6-7.5-5-7.5-4-9-2.5-9-2-10.5 0-9 1-9 2.5-10.5 4-9 5-8.5zM93 283l1-.5 6-.5 4.5 .5 11 3.5 11.5 6 7 6 5.5 6 6 9 4.5 9 3 9 2 10.5 0 10.5-1 9-4 13.5-5.5 10.5-2.5 4-6 5-1.5 .5-1.5-.5-3-3-1.5-2.5-4.5-10-10.5-26.5-21-55.5-1.5-6 0-3 .5-3zM451.5 286l5.5-.5 10.5 3.5 7.5 4.5 3.5 3 2 3 2.5 6 2 9 0 10.5-1.5 10.5-4.5 16.5-7.5 19.5-7 15-6 10-8 9.5-4 3.5-4.5 3-3 1.5-4.5 1-4.5 .5-3-.5-9-3-7.5-4.5-1.5-1.5-2-3-1.5-3-.5-3 .5-3 2-7 4.5-12.5 28.5-73.5 3-6.5 3-5 3-3zM334 389.5l7.5 0 7.5 1 9 3 7.5 3.5 9 6 4.5 6 .5 3-1.5 3-3.5 3-9 4.5-70.5 31.5-12 4-3 .5-3-1-1.5-2-.5-7.5 0-3 2.5-9 2.5-7.5 3.5-7.5 6.5-9 8-8 6-4.5 6-3.5 6-2.5 6-2 6-1.5zM143.5 422.5l3-1 3 0 4.5 1.5 7.5 2.5 68 30 12.5 6 5 3 1.5 1.5 2.5 3 1 3 .5 4.5-3.5 12-2 4.5-3 4.5-3 3-3 2.5-3 1.5-4.5 1.5-4.5 1-6 0-12-1-13.5-4-16.5-6.5-16.5-8-10.5-7-7.5-6.5-6-6.5-4.5-7.5-1-3-1-4.5 .5-7.5 2.5-9 4.5-9z"/>
<path fill="#00efff" d="M219 34l8.5 .5 7.5 2 6 3 4.5 4.5 3 5 1.5 4 3 12.5-.5 6-1.5 3-1 1.5-6 4.5-9 4.5-54 24-24.5 10.5-5.5 2-4.5 .5-3-1-4.5-3.5-4.5-7-3-6-2-6-.5-6 1-6 2-6 4-6 4.5-5.5 6-5.5 9-6.5 10.5-6 12-5.5 12-5 10.5-3.5 10.5-2.5zM277.5 85l2.5-.5 3 .5 9 3 75 33 8 4.5 3.5 3 1.5 3-1 2.5-5 6.5-8.5 5.5-9 4-9 2.5-9 1-9-.5-9-2-9-3.5-9-5-7.5-6-6-6.5-5-7.5-6-13.5-3-12 .5-9 .5-1.5zM424 127l4.5-1 3-.5 4.5 .5 3 1 4.5 2 3.5 2.5 8 7.5 6.5 9 7 12 7 16.5 6 16.5 3 12 2 12 .5 10.5-1.5 9-3 7.5-3 4.5-6 4.5-7.5 3.5-9 2-4.5-.5-3-1-1.5-1.5-3-4-3-6-6-14.5-29-75.5-1.5-6-.5-4.5 .5-3 1.5-3 2-3 3-2.5 6-4zM132.5 149.5l2-1 2.5 1 6 6 6 10.5 4.5 13.5 1.5 9 0 10.5-1.5 10.5-2.5 9-4 9-5.5 9-6.5 7.5-6.5 6-9 5-9 4-9 2-7.5-.5-2.5-1.5-.5-3 0-4.5 3-9 30-78 4.5-10 1.5-2.5zM423.5 283l6.5-1.5 6 1 1.5 .5 1.5 1 .5 2-.5 6.5-3 9.5-6 16-25.5 65-4.5 8.5-3 2.5-1.5 0-3-1.5-3.5-3-2.5-3-5.5-10.5-4-12-1.5-7.5-.5-9 1-7.5 1.5-9 2.5-7.5 4-9 4.5-7.5 6-7.5 5.5-5 6-4 9-4.5zM67 286l6-1.5 6 1 3 1.5 1.5 1.5 3 5 13.5 33 18 46.5 6 17 1.5 5.5 0 3-.5 3-2.5 4-1.5 2-7.5 5-4.5 2.5-4.5 1.5-3 1-4.5 0-3-.5-4.5-1.5-7.5-5-4.5-4-4-5-7.5-10.5-6-12-7-18-5-15-3-10.5-1.5-12 .5-10.5 1.5-9 3-6 2-3 3-2.5 6-4zM190 389.5l6 0 6 .5 7.5 2 6 2 6 2.5 6 4 6 4.5 4.5 4 4.5 5.5 3.5 5 3.5 7.5 3 7.5 3 12-.5 7.5-1 3-2.5 1.5-3 0-5-1.5-8-3-71-31.5-8.5-4.5-3.5-3-2-3 1-3 4-5.5 3-2.5 7.5-4.5 7.5-3 7.5-2.5zM377 422.5l5-1 3 0 3 1 3.5 3 6.5 10.5 1.5 4.5 1.5 6 0 7.5-.5 3-2 5-2.5 4-3 4.5-8 8-10.5 7.5-13.5 7.5-21 9-15 4.5-12 2-6 0-6-.5-4.5-1.5-4.5-2-3-2-3-3-3-4-2-4.5-2-6-1.5-7.5 0-3 1-4.5 .5-1.5 2.5-3 7-4.5 12.5-6 57.5-25.5z"/>
<path fill="#ffbf00" d="M305.5 38.5l7.5 0 9 1 9 2 10.5 3.5 15 6.5 10.5 5.5 9 5.5 7.5 6 5.5 6 4.5 6 2 4.5 1.5 6 0 6-1.5 7.5-1.5 4.5-4 7.5-3.5 3-3 1.5-4.5-.5-4.5-1-17.5-7.5-54-24-13-6-7-4.5-1.5-1.5-1.5-3-1-6 3-9 2.5-6 4.5-6 4.5-4 4.5-2zM242.5 86.5l4.5-1 3-.5 1.5 .5 1.5 .5 1 2 .5 9-4 13.5-6 12-6.5 8.5-7.5 7-10.5 6.5-9 3.5-9 2.5-9 1-9-.5-10.5-3-9-4-7.5-4.5-5-6.5-.5-3 1-1.5 3.5-3 5-3 46.5-21zM99.5 130l5 .5 6 1.5 10 5.5 2.5 3 1.5 3 0 3-.5 4.5-3 10-6 16-19.5 50.5-7.5 18-3 5.5-3 3.5-3 1.5-4.5 .5-9-3-6-3.5-5.5-4.5-3.5-6-2-6-1-9 .5-9 1.5-9 4.5-16.5 6-16.5 6.5-13.5 6-10.5 6.5-8.5 7.5-6.5 6-3.5zM393 151l2.5-1.5 1.5 .5 3 2.5 4.5 8 6 15 19.5 50 7.5 20.5 1.5 5.5 0 4.5-.5 1.5-1 1.5-1.5 .5-7.5 .5-9-2.5-7.5-3.5-8.5-5.5-6.5-5.5-5.5-6.5-4.5-7.5-4.5-9-3-9-1.5-9-1-9 1-9 2-10.5 3.5-9 4.5-8.5zM98 283l5 0 10.5 3.5 9 5 7 5 6 6 6 7.5 4 7.5 3.5 9 2.5 9 1.5 9 0 9-1 9-3 10.5-4.5 10.5-3 4.5-5.5 5-1.5 .5-1.5-.5-1.5-1-3-4-1.5-3-15-37.5-18-47.5-2.5-9.5 0-4.5 1-1.5 1.5-1zM450 287.5l2.5-.5 4.5-.5 9 3.5 7.5 5 4.5 5 3 6 1.5 8.5 0 10.5-1.5 10.5-3.5 15-7.5 19.5-6 13.5-7.5 12-7.5 9-4 3-4.5 3-3 1.5-4.5 1-3 0-4.5-.5-6-2-9-4.5-3-3.5-1-2.5-.5-3 0-4.5 3-9 4.5-12.5 27-69 4.5-9.5 3-4zM328 392.5l7.5-1 9 .5 9 2 9 3 9 5 3 2.5 3.5 4.5 .5 1.5 .5 1.5-1.5 3-4 3-8.5 4.5-67 30-13.5 5-4.5 .5-2.5-1-1.5-3 0-6 1-6 2-7.5 2.5-5.5 3.5-6.5 4-6.5 7.5-8 9-6.5 10.5-5.5zM146 422.5l2-.5 4.5 .5 12 4.5 64 28.5 12.5 6 5 3 2 1.5 2 3 1 3 0 4.5-3 10.5-4.5 7.5-2.5 3-3 2.5-3.5 2-4 1.5-4.5 1-6 .5-10.5-1-12-3-15-6-18-8.5-12-7.5-7.5-6.5-5.5-6.5-4.5-7.5-1.5-6 0-7.5 2-9 4.5-9 3-3z"/>
<path fill="#00dfff" d="M211.5 37l10-.5 9 1 7 2.5 5 4 3 4 3 6 3.5 11.5-.5 6-1 3-1 1.5-6 4.5-9 4.5-75 33-7 2.5-4.5 .5-3 0-4-3-2.5-3-5-9-1.5-6-1-6 .5-6 1.5-4.5 3.5-6 3.5-4.5 5-5 7.5-6 6-4 9-5 13.5-6.5 12-4.5 9-3zM277 86.5l1.5-1 1.5-.5 3 .5 9 2.5 68 30 9.5 4.5 5 3 3 3 1 1.5 0 3-4.5 6-4 3-10.5 5-10.5 3.5-9 1-9-.5-9-2-9-3.5-7.5-4-7.5-5-6.5-6.5-5.5-7.5-6-11.5-3.5-11-.5-6 .5-6zM426 128.5l4-.5 3 0 4.5 1 3 1 4.5 3 4 3 8 9 6.5 10.5 6.5 13.5 7 18 5 16.5 2 10.5 .5 10.5-.5 9-2.5 7.5-4 6-5.5 4.5-6 3-9 3-4.5-.5-3-1-3-3-3-5-7.5-17.5-18-46.5-9-24-3-9-.5-4.5 0-3 1.5-3 2-3 1.5-1.5 7.5-4.5zM131.5 151l1.5-1 1.5-.5 1.5 .5 6 5.5 5.5 10.5 3.5 10.5 1.5 9 .5 10.5-1 10.5-3 10.5-4 9-5 9-6 7.5-7 6-7.5 5-9 4-9 2.5-7.5-.5-1.5-1-1-1 0-3 .5-6 2-5.5 30-78 4.5-10zM428 283l8 .5 2 1 1 1.5 0 3-1.5 7.5-15 40.5-18 45.5-4.5 8-3 2.5-1.5 .5-1.5-1-3.5-3-3.5-4.5-4.5-9-3.5-10.5-1.5-9-.5-9 1-9 2.5-9 2.5-7.5 4.5-9 5-7.5 5-6 7-6 7.5-4.5 7.5-3.5zM72.5 286l2-.5 6 1.5 3 2.5 3 4.5 4.5 10 10.5 27 16.5 43 6 17 1 4.5-.5 4.5-1.5 3-2 3-9 6-7.5 2.5-3 .5-4.5 0-4.5-1-3-1-7.5-5.5-8-9-7-10.5-6.5-13.5-7-18-5-15-2-10.5-1-12 1-9 2-7.5 3.5-5.5 4.5-4.5 7.5-4zM182 392.5l6.5-1 6 0 6 .5 7.5 2 7.5 2.5 6 3 6 3.5 6 4.5 5.5 6 5 6 3.5 6 3 7.5 3 9 1 4.5 0 7.5-1.5 3-3 1-3-.5-11-3.5-64.5-28.5-12.5-6-4.5-3-2.5-3-.5-1.5 0-1.5 1-1.5 4.5-5.5 3-2 9-5 6-2zM378 422.5l4-.5 3 0 3.5 2 3 3 5.5 10.5 1.5 6 .5 4.5-.5 7.5-3 7.5-5.5 7.5-8 7.5-10.5 7.5-15 7.5-19.5 8.5-13.5 3.5-12 1.5-6 0-4.5-.5-7.5-2.5-4-3-3-3-3-4.5-2-4.5-3-12 .5-6 1.5-3 1.5-1.5 7-4.5 16-7.5 57.5-25.5z"/>
<path fill="#ffaf00" d="M301.5 41.5l7-1 9 .5 9 1.5 9 3 12 4.5 13.5 6.5 10.5 6 9 6.5 5.5 5.5 5 6 2 4.5 2 6 0 6-1 7.5-4 10.5-1.5 1.5-3.5 3-3 1-4.5-.5-5.5-2-21.5-9-47-21-13-6-6.5-4.5-2.5-3-1-3-.5-3 .5-3 3.5-9 3.5-5.5 4.5-5 4.5-3zM243.5 86.5l3.5-1 3 0 2 1 1 1.5 .5 7.5-.5 3-4 12-5 9.5-7.5 9.5-7.5 7-10.5 6-9 4-9 2-9 1-9-1-10.5-2.5-10.5-5-3.5-2-5-6-.5-3 1-1.5 3-3 5-3 46.5-21 24-10.5zM95 133l5-1 7.5 1 4.5 1.5 7.5 4 3 3 1 2 .5 3 0 3-1.5 6-6 17-19.5 50.5-9 22-3 5.5-3 3.5-3 1-4.5 .5-7.5-3-4.5-2.5-6-5-3.5-5.5-2.5-6-.5-6-.5-7.5 1-9 2.5-10.5 4.5-15 6-15 7-13.5 5.5-9 6.5-7.5 7-5.5zM395 151l2-.5 1.5 1 2 2.5 2.5 4 6 14 18 46.5 9 24 2 7.5 .5 3 0 3-1 2-1.5 .5-7.5 .5-3-.5-10.5-4.5-9-5.5-6.5-6-6.5-7.5-4.5-7.5-4.5-9-3-10.5-1.5-9-.5-9 1-9 2.5-10.5 4.5-10.5 2.5-4zM94 284.5l7.5-.5 3 .5 10.5 4.5 9 5.5 7.5 6.5 5 6 5 7.5 4.5 9 3 9 2 10.5 .5 9-1 9-2.5 10.5-4 10.5-2.5 4.5-5.5 5.5-1.5 .5-1.5 0-1.5-1.5-3-4-3-6-7.5-18.5-24-63-1.5-6-1-4.5 .5-3zM449 289l2-1 4.5-.5 8 3 3 1.5 4 3 3 3 2.5 3 2 3.5 1.5 4 1 7.5 0 10.5-1.5 10.5-5 16.5-6 16.5-7.5 15-6.5 10.5-7.5 8-4.5 3.5-3 2-4.5 1.5-3 0-9-.5-4.5-1.5-6-3-3-3-2-2.5-.5-3 .5-6 6.5-19.5 25.5-65.5 6-13 1.5-2zM332 394l8-.5 9 1 7.5 2 7.5 3 7.5 4 5.5 5.5 1 3 0 1.5-1.5 1.5-3.5 3-8.5 4.5-63.5 28.5-15 5.5-4.5 1-3-.5-1-1.5-.5-3 0-6 1-4.5 2.5-7.5 2.5-6 3.5-6 5.5-7 7.5-7.5 10.5-6.5 10.5-4.5zM144.5 424l3.5-1 3 0 9 2.5 61.5 27 21.5 10.5 5.5 4.5 1.5 3 0 4.5-3 10-3 5.5-3 4-3 2.5-6 3.5-4.5 1.5-4.5 .5-10.5-.5-12-2.5-15-5.5-15-6.5-13.5-8-8-6-7-7.5-4-6-2-6-.5-7.5 1.5-9 3.5-9 1-1.5z"/>
<path fill="#00cfff" d="M219 38.5l8.5 .5 6 1.5 4.5 2.5 4.5 4 5 8 3 10.5 .5 1.5-.5 4.5-1 3-1 1.5-6 4.5-8.5 4.5-47 21-28 12-6.5 2-4.5 .5-3.5-1-4-3-4-7.5-1.5-4.5-1.5-7.5-.5-4.5 1.5-6 2-4.5 4-6 4-4.5 6.5-6 7.5-5 10.5-6 10.5-5 10.5-4.5 12-4 9-2zM278 86.5l2-1 3 0 8 2.5 28 12 43.5 19.5 9 4.5 4 3 2.5 3-.5 3-5 6-4 2.5-9 4-10.5 3-9 1-9-.5-9-2.5-9-3.5-7.5-4-7.5-5.5-6-6-6-8-4.5-9-4.5-12 0-9zM422 131.5l8-1.5 3 0 4.5 1 3 1.5 4.5 3 7.5 7.5 7 9.5 6.5 12 8 19.5 5 15 2.5 12 1 10.5-.5 9-1.5 7.5-3 6-4.5 4.5-7 4.5-9 3-4.5 0-3-1-3-2.5-3-5-6-14-9-23-16.5-43-4.5-13.5-1.5-7.5 .5-3 1-2.5 3-3.5 7.5-4.5zM132.5 151l2-.5 1.5 .5 6 6.5 4.5 10 3.5 10.5 1 10.5 0 9-1 9-3.5 10.5-3.5 9-4.5 7.5-6 7.5-6.5 6-9.5 6.5-10.5 4.5-4.5 1-7.5-.5-1.5-1-.5-1.5-.5-3 1-4.5 3-9 28.5-74 4.5-9.5 1.5-2.5zM426 284.5l2.5-.5 6 0 1.5 .5 1.5 .5 1 2.5 0 1.5-1 7-13.5 36.5-19.5 49.5-4.5 8-3 2.5-1.5 0-2-1.5-5.5-6-4.5-10.5-3-9-1-9-.5-9 1-7.5 2-9 3-9 4-7.5 4.5-7.5 5-5.5 5-5 7-5 7.5-4zM71.5 287.5l3-1 6 1 3 2.5 3 4.5 4.5 10 7.5 19 24 63.5 2 8.5 0 3-1.5 3-3.5 4.5-10.5 5.5-9 1.5-3 0-4.5-1.5-6-3-7.5-7-7-9-6.5-12-6.5-15-6.5-18-3-12-1.5-12 0-9 1.5-9 3-6 4.5-4.5 6.5-4.5zM184.5 394l7-.5 6 .5 6 1 6 1.5 7.5 3 6 3.5 6 3.5 4.5 4 6 6 4 6 3.5 5.5 3 6.5 2.5 7.5 1 4.5 0 7.5-.5 1.5-1.5 1.5-3 .5-3-.5-12.5-4.5-64-28.5-9-4.5-4.5-3-3-3 0-1.5 0-1.5 1.5-2 4.5-5 4.5-2.5 7.5-3.5 7.5-2.5zM380 422.5l2 0 3 .5 2 1 3 3 5 10.5 1.5 6 .5 6-1 7.5-3 6-6 7.5-8 7-10.5 7-15 8-18 7-13.5 4-10.5 1-6 0-4.5-1-4.5-1-3-2-3-2-3-3-5-8.5-3-10.5 0-4.5 1-3 2.5-3 1.5-1.5 5-3 9-4.5 50.5-22.5 21-9z"/>
<path fill="#ff9f00" d="M305.5 43l7.5-.5 7.5 1 9 2 9 3 12 5 12 6 9 5 7.5 6 6 5.5 3.5 4.5 2.5 4.5 1.5 6 .5 6-.5 6-1 4.5-3.5 8-3 3-3 1-4.5 0-5-1.5-14.5-6-54-24-12.5-6-7-4.5-2.5-3-.5-3-.5-3 1-3 4-9 4.5-6 4.5-4 4.5-2zM245 86.5l3.5-.5 2.5 .5 1 1.5 .5 1.5-.5 9-5 13.5-4.5 7.5-7.5 9-7.5 6.5-9 5.5-9 3.5-9 2.5-9 1-9-.5-9-2-10.5-4-4.5-3-4.5-5-1-3 1-1.5 3-3 5.5-3 56-25.5 17.5-7.5zM99.5 134.5l5 0 4.5 1 10.5 4 3 4 .5 1.5 .5 3-.5 4.5-2 6.5-7.5 20.5-18 46.5-7.5 18-3 5.5-3 3.5-3 1-4.5 0-7.5-3.5-4.5-3-5-5-3-4.5-2-6-1-7.5 .5-9 1.5-9 3.5-13.5 5-13.5 5.5-13.5 7-12 5.5-7.5 6.5-6.5 6-3.5zM394 152.5l3-1 1.5 .5 3 4 3 6 6 14.5 25.5 66.5 1.5 5.5 .5 4.5 0 3-2 1.5-7.5 .5-3-1-10.5-4.5-7.5-5-7-6.5-5-6-5-7.5-4-9-3-9-2-9-.5-9 .5-9 2-10.5 4-10.5 2-4zM93.5 286l2-1 6 0 3 .5 10.5 5 7.5 4.5 7.5 7 5.5 6.5 4.5 7.5 4 9 3 9 2 9 .5 9-1 10.5-2 9-3.5 10.5-3 4.5-4 4-1.5 1-1.5 0-1.5-1-1.5-1.5-3-5.5-13.5-33-19.5-52-2-8 .5-3zM451 289l4.5-.5 10 5 6.5 6 4 6 2 6 1 9-1 10.5-2 10.5-5.5 16.5-6.5 16.5-6.5 12-6.5 9.5-7.5 7.5-6 3.5-4.5 1-3 .5-4.5 0-4.5-1-9-3.5-3-3-1.5-2-.5-2 0-3 .5-4.5 7.5-21 25.5-65.5 3-6.5 3-4.5 1.5-1.5zM327 397l8.5-1.5 7.5 0 9 1 7.5 2.5 7.5 3 4.5 2.5 5 6 .5 3-1 1.5-3.5 3-8.5 4.5-57 25.5-18 7.5-6 1.5-3-.5-1.5-1-.5-1.5 0-7.5 .5-3 5.5-13.5 6.5-10 7.5-8 7.5-5.5 10.5-6zM146.5 424l3-.5 3 0 10.5 3.5 61.5 27 18 9 5 4.5 1.5 4.5 0 4.5-5 11-6 7-6 3.5-3 1-4.5 1-10.5 0-12-2-13.5-4.5-15-7-13.5-7.5-7.5-5.5-7.5-7-4.5-6.5-2.5-6-.5-7.5 0-4.5 1-4.5 3-9 3-3z"/>
<path fill="#00bfff" d="M209.5 41.5l9-1 9 .5 6 2 6 4 3 3.5 3 4.5 4.5 12-.5 6-1.5 3-6 4.5-8.5 4.5-71.5 31.5-8 3-4.5 .5-3-.5-3-1.5-2.5-3-3.5-7.5-1.5-6-1-6 .5-4.5 1.5-6 2.5-4.5 4-5 5.5-5.5 5.5-4.5 7-4.5 9-5 10.5-5 10.5-4.5 9-3zM279.5 86.5l2-.5 3 .5 9.5 3 41.5 18 29.5 13.5 6 3 4 3 2 3-.5 3-5 5-3 2.5-10.5 4-9 2.5-9 .5-9-.5-9-2.5-9-3.5-7.5-4.5-7.5-5.5-6-6.5-6-8-4-7.5-4-10.5 0-9 .5-1.5zM423 133l8.5-1 3 .5 4.5 1.5 6 4 7.5 8 6.5 9.5 6.5 12 7 18 4.5 13.5 2.5 12 1 9 0 9-1.5 7.5-2.5 4.5-1.5 2.5-5 5-4.5 3-8.5 3.5-1.5 .5-3-.5-3-1-3-2.5-3-4.5-4.5-10.5-9-22.5-16.5-43-6-17-1-7.5 .5-3 2-3 3-2.5 7.5-4zM131.5 152.5l1.5-1 3 1 5.5 6 4.5 10.5 2 7.5 1 9 .5 10.5-1.5 9-3 10.5-3.5 9-5.5 9-6 7.5-6.5 6-8.5 5.5-9 4.5-4.5 1-6 0-1.5-.5-1.5-1.5-.5-3 1-4.5 2.5-8.5 28.5-74 4.5-9.5zM425 286l3.5-1 6 0 2.5 1 1 1.5 0 1.5-.5 6-3 9-9 24-21 53-4.5 8.5-1.5 1.5-1.5 .5-1.5 0-2.5-2-4.5-6-4.5-10.5-2-7.5-1-7.5 0-9 .5-7.5 2-9 3.5-9 3.5-7.5 3.5-6 4.5-6 6-6 5.5-4.5 6.5-4zM71 289l3.5-1 6 .5 3 2.5 3 4.5 4.5 10 9 22.5 16.5 43 6 17 1.5 7.5-.5 3-1 2.5-3 3.5-10.5 5-9 1.5-6-1-6-3-7.5-7-7-9-6-10.5-6-13.5-6-16.5-4-13.5-1.5-10.5 0-10.5 1-7.5 2.5-6 2-3 2.5-3 6-4.5zM177 397l5.5-1 9-.5 6 .5 6 1 7.5 2.5 6 2.5 6 3 6 4 6 5.5 4.5 5 4.5 6 3 5.5 4 9.5 1.5 4.5 0 7.5-.5 3-2 1.5-4.5-.5-11.5-4-61.5-27-12-6-4.5-3-2.5-3-.5-1.5 1-2 4.5-5 3-2 4.5-2zM375 424l5.5-1 3 0 2 1 3.5 3 4.5 10.5 1.5 9-.5 7.5-2 6-5.5 7.5-8 7.5-10.5 7.5-13.5 7-16.5 7-15 4.5-10.5 1.5-10.5-1-4.5-1-3-1.5-3-2-3-3-4.5-7-4-10.5 0-4.5 1-3 .5-1.5 3.5-3 7.5-4.5 16-7.5 47.5-21z"/>
<path fill="#ff8f00" d="M302 46l6.5-1 7.5 0 9 1.5 10.5 3 12 4.5 10.5 5 10.5 6 7.5 5.5 6 5.5 4 4.5 2.5 4.5 2 6 .5 6 0 6-2 7.5-2 4.5-3 3-3.5 1-4.5-.5-6.5-2-24.5-10.5-44-19.5-9-4.5-6.5-4.5-2.5-3-1-3 0-3 4-9 3-4.5 4.5-4.5 4.5-3zM241 88l4.5-1 3-.5 1.5 .5 1 1 .5 1.5-.5 9-4 10.5-5.5 9-8 9.5-7.5 6-9 5.5-9 3.5-9 2.5-9 .5-9-.5-7.5-1.5-10.5-4-3.5-2-4.5-4.5-.5-1.5-.5-1.5 .5-1.5 1.5-1.5 4-3 6-3 46.5-21zM95.5 137.5l4.5-1 6 0 4.5 1 7.5 2.5 3 3 1.5 2.5 .5 2.5-.5 4.5-1.5 6-6 16.5-18 46.5-9 22-3 5.5-3 3-3 1-3 .5-7-3.5-4.5-3-4.5-4.5-3-4.5-2.5-6-1-6 0-7.5 1-9 3-12 4.5-13.5 5.5-13.5 5.5-10.5 6-9 5-6 5.5-4.5zM396.5 152.5l2 .5 1.5 1.5 4.5 8 21 53 9 24 2.5 7.5 .5 4.5 0 3-1.5 2-3 .5-7.5-1-9.5-4.5-7-4.5-6-6-6.5-7.5-4.5-7.5-4-9-3-9-2-9-.5-10.5 1-9 1.5-7.5 3.5-10.5 1.5-3 4-4.5zM93 287.5l2.5-1.5 9 1 9 4 7.5 5 7 6.5 6 7.5 4.5 7.5 3.5 7.5 3 9 2 9 .5 9 0 10.5-2 9-4 10.5-4.5 6-2.5 2.5-1.5 0-1.5-.5-3-4-7.5-17-25.5-67-3-10 0-3zM449.5 290.5l3-1 3 .5 7.5 4 3.5 2.5 3 3 4 6 2.5 6 1 7.5-.5 10.5-2 10.5-5 16.5-6 15-7 13.5-6.5 9-6.5 6.5-3.5 2.5-4 2-3 1-4.5 .5-7.5-.5-9-3.5-3-2.5-1.5-3 0-1.5 .5-6 5.5-16.5 25.5-65.5 6-12.5 1.5-2.5zM329.5 398.5l7.5-1 9 0 6 .5 7.5 2 7.5 3 4 3 4.5 4.5 1 3-1 1.5-6 4.5-9 4.5-61 27-13.5 5-4.5 .5-2-1-1-3 .5-6 1-4.5 5.5-12 6.5-9 7.5-7.5 9-6.5 10.5-5.5zM149 424l3.5 0 3 .5 14 5.5 54 24 18.5 9 3.5 3 1.5 1.5 1 4.5 0 3-5 10.5-2 3-4.5 4.5-6 3.5-7.5 1.5-9 0-10.5-2-13.5-4-15-6.5-13.5-8-9-6.5-6-6-4.5-6.5-2-6-1-4.5 .5-6 2-9 2-5.5 2-2z"/>
<path fill="#00afff" d="M213 43l8.5-.5 7.5 1 6 3 4.5 3.5 5 6.5 4.5 10.5 0 4.5-1 3-1 1.5-5.5 4.5-9 4.5-50 22.5-21 9-7.5 2.5-4.5 .5-3-.5-3-2.5-2-3-3.5-9-.5-4.5-.5-6 1-4.5 2-6 3-4.5 3.5-4 5.5-5 6.5-5 7.5-4.5 9-5 10.5-4.5 10.5-4 9-2.5zM279.5 88l2-1.5 1.5 0 4.5 1 6 2 61.5 27 12.5 6 5 3 3.5 3 .5 1.5-.5 2-4.5 4.5-3 2.5-10.5 4.5-7.5 1.5-9 .5-9-.5-7.5-1.5-9-3.5-8-4-7-5-6-5.5-6.5-7.5-4.5-7.5-4.5-10.5-.5-3 0-6zM425 134.5l8 0 6 2 6 4.5 7.5 8 6 9.5 7 13.5 6 15 4.5 15 2 10.5 1 9-.5 9-2 6-3.5 6-4 4.5-4.5 3-9 4-4.5 0-3-1.5-3-3.5-3-6-24-60.5-7.5-20.5-2.5-8-1-4.5 0-3 1-3 2.5-3.5 1.5-1 7.5-3zM133 152.5l1.5 0 1.5 1 5 6.5 4 10.5 2 7.5 .5 9 0 10.5-1.5 9-3 9-4 9-4 7.5-6 7.5-6 6-6.5 4.5-10.5 5.5-3 1-7.5 .5-1.5-.5-1.5-2 0-3 1.5-6 3-9 27-69.5 4.5-10 3-4zM434.5 286l1.5 .5 1.5 1.5 0 4-1.5 7-4.5 12.5-15 39.5-12 29.5-4.5 8-1.5 1.5-1.5 .5-1.5-.5-5-5-2-3-3.5-10.5-2-9-.5-9 .5-9 2-9 2.5-9 4-9 4-6.5 5.5-7 6.5-6.5 7.5-5.5 9-4.5 4.5-1zM74 289l5 0 3 1 3 3.5 3 5.5 7.5 18 16.5 42.5 10 28.5 1.5 7.5-1.5 4.5-2.5 3.5-10.5 4.5-4.5 .5-4.5 0-6-1-6-3-7.5-7.5-6.5-9-6.5-12-6.5-15-5-15-3-12-1-9-.5-9 1.5-7.5 3-6 5-6 4.5-3.5zM177 398.5l5.5-1 7.5 0 6 0 6 1.5 6 1.5 7.5 3 6 3 6 4 5.5 4.5 5 5.5 4.5 5.5 3 5.5 4.5 9 1 4.5 .5 7.5 0 1.5-1 1.5-2 1-3-.5-11-3.5-61.5-27-12-6-4.5-3-2.5-3 0-1.5 1.5-2.5 4.5-4 6-3.5zM376.5 424l4-.5 3 .5 2.5 1.5 2 2 2 4 2.5 7.5 1 9-1.5 7.5-3 6-6 7.5-8.5 7-12 7.5-15 7.5-15 5.5-13.5 3.5-10.5 .5-8-1.5-4-1.5-3-2-3-3-3-3.5-3-5-3-9 .5-6 1-1.5 3-3 7.5-4.5 19.5-9 47.5-21 11-4.5z"/>
<path fill="#ff8000" d="M304.5 47.5l7-1 7.5 .5 9 2 10.5 3.5 10.5 4 10.5 5.5 9 5.5 7.5 5.5 5 4.5 3.5 4.5 2.5 4.5 1.5 4.5 1 6 0 6-2 7.5-1.5 4.5-2.5 2-3 1.5-4.5-.5-6-1.5-21-9-44-19.5-12-6-7-4.5-1.5-1.5-1-3-.5-4.5 4.5-8.5 3-4 4.5-4 4.5-3zM242 88l3.5-1 3 0 1.5 1 .5 1.5-.5 9-1.5 4.5-3 6-5.5 9-6.5 7-7.5 6-9 5.5-9 4-7.5 2-9 1.5-9 0-7.5-1.5-10.5-3.5-3-1.5-6-6-.5-1.5 .5-1.5 1-1.5 4.5-3 5.5-3 43-19.5 24-10.5zM98 139l5-.5 4.5 0 10.5 3 3 3 1 2 .5 3-.5 3-2.5 9.5-7.5 20.5-16.5 42.5-7.5 17.5-3 5.5-3 3-3 1-3 0-7-3.5-3.5-3-4-4.5-3.5-5.5-2-6.5-.5-6 0-7.5 1.5-7.5 3-12 4.5-13.5 5-12 5.5-10.5 5.5-8 6-6.5 6-4.5zM395.5 154l1.5-.5 1.5 0 1.5 1.5 3 5 6 14 13.5 34.5 10.5 27.5 3.5 11 1 6-1.5 2.5-1.5 .5-7.5-.5-3-1-9-5-6-4.5-6.5-7-5.5-7-4-6.5-4-9-2.5-9-1.5-7.5-.5-9 0-9 1.5-7.5 3-10.5 1.5-3zM94.5 287.5l2.5-.5 6 .5 3 1 9 5 6 4.5 6 6 6 7.5 4.5 7.5 3.5 7.5 2.5 9 2 7.5 .5 10.5 0 9-1.5 7.5-3.5 10.5-1.5 3-5 6-1.5 0-1.5-.5-4-5.5-5-11.5-9-23-15-39-4-12-1.5-7.5 .5-1.5zM448 292l3-1 3-.5 8 4.5 5 4.5 3.5 4.5 1.5 3 2.5 7.5 .5 7.5-1 10.5-2.5 10.5-4.5 15-5.5 13.5-6.5 12-7 10-6 5.5-3.5 2.5-4 2-7.5 1-7.5-.5-7.5-2.5-2.5-3-1-1.5-.5-3 1-6.5 7.5-22 21-54 6-13.5 3-4.5zM332 400l8-1 9 .5 6 1 9 2.5 4.5 2 6 5.5 1 3-.5 1.5-6.5 4.5-8.5 4.5-57.5 25.5-15 5.5-4.5 1-2-.5-1-1.5-.5-1.5 1-7.5 .5-3 6-12 6.5-8.5 7.5-7 9-6.5 10.5-5 6-2zM147.5 425.5l2-1 4.5 .5 11 3.5 55 24 12.5 6 8.5 4.5 4 3 1 1.5 1.5 4.5-.5 3-4.5 8.5-3 4-3 2.5-6 4-7.5 2-7.5 0-10.5-1.5-12-3.5-13.5-5.5-13.5-7-9-6.5-7-6-4.5-6-3-6-1.5-7.5 0-7.5 3-10.5z"/>
<path fill="#009fff" d="M206.5 46l10.5-1.5 7.5 .5 6 1.5 6 3.5 6 6.5 5.5 10.5 0 1.5 0 3-.5 3-1 1.5-5.5 4.5-12 6-64.5 28.5-8.5 3-5 1-3-.5-3-1.5-2-2-.5-1.5-2.5-7.5-1-4.5 0-6 .5-4.5 1.5-4.5 2.5-4.5 3-4.5 4.5-4.5 6-4.5 7.5-5 7.5-4.5 9-4.5 9-3.5 9-3zM280.5 88l1-.5 3-.5 9 3 24 10 37 16.5 12.5 6 5 3 3 3 .5 1.5-.5 1.5-5 5-3 2-10.5 4-7.5 1-9 .5-9-1-7.5-2-7.5-3-7.5-4-6-4-7.5-7-6-7-3.5-5.5-4.5-10.5-1.5-9 .5-1.5zM419 137.5l3.5-1 4.5-.5 4.5 .5 3 .5 6 3 6 5 7.5 9 6 10.5 7 15 4.5 13.5 3.5 12 1.5 10.5 .5 9-1 7.5-3 7.5-5 6-5 4-7.5 3.5-4.5 0-3-1.5-3-3.5-3-5.5-7.5-18-15-39-10.5-28.5-1.5-6 0-3 1.5-4.5 3-3zM131.5 154l1.5-.5 2 .5 5.5 7 2 5 3 12 .5 7.5 0 10.5-1.5 9-3 9-3.5 9-4.5 7.5-5.5 7.5-5.5 6-6 4.5-10.5 6-3 1-7.5 .5-2-1.5-.5-3 1-5 3-9 27-70 4.5-9.5zM428 287.5l6.5-.5 1.5 .5 1 1.5 .5 3-1.5 6-12 33-18 45.5-4.5 9.5-3 3.5-1.5 0-1.5-.5-1-1-5-7-2-5-2.5-10.5-1-7.5 .5-9 1-9 2-7.5 3.5-9 3.5-7.5 5-7.5 5-6 4.5-4.5 6-4.5 9-5zM73.5 290.5l2.5-1 1.5 0 3 1 1.5 .5 3 3.5 3 5 15 37.5 18 48 2 9-1 4.5-2.5 3.5-1.5 1-7.5 3-7.5 1-4.5-.5-3-.5-6-3-6-5-6.5-8.5-6.5-10.5-6.5-15-5-13.5-3-10.5-2-10.5-.5-10.5 1-7.5 2-6 4-6 5-4.5zM176.5 400l6-1 6 0 7.5 .5 6 1 6 2 7.5 3 6 3.5 5 3 5.5 4.5 6 6 3 4 3 5 6 12 1 9-1 2.5-1.5 1-3 0-10.5-3.5-61-27-12.5-6-4.5-3-1.5-1.5-.5-1.5 0-1.5 1-1.5 5-4.5 5-2.5zM379 424l3 0 1.5 1 4 3.5 2.5 7.5 1 4.5 .5 4.5-.5 6-2 6-4 7-6 6-8 6.5-11.5 7-15 7-15 5-12 2.5-10.5 .5-7.5-2-6-3.5-6-7-4.5-9.5-.5-1.5 0-3 1-4.5 1.5-1.5 4-3 18-9 50.5-22.5 15-6z"/>
<path fill="#ff7000" d="M308.5 49l7.5 0 7.5 1 9 2 9 3.5 9 3.5 10.5 5.5 7.5 5 6.5 5 4.5 4.5 3.5 4.5 2.5 4.5 1.5 4.5 .5 6 0 4.5-1.5 9-1.5 3-2.5 2-3 1-4.5-.5-7-2.5-21.5-9-40-18-12.5-6-6.5-4.5-2.5-3-.5-4.5 .5-2 5.5-8.5 3.5-4 4.5-3 4.5-2zM243.5 88l3.5-.5 1.5 .5 1 1.5 .5 1.5-1.5 9-6 12-4.5 6-7.5 7.5-7.5 5.5-7.5 4.5-7.5 3-9 2.5-9 1-7.5 .5-7.5-1.5-10.5-3-3-2-5-4.5-.5-1.5 0-1.5 1-1.5 4.5-3 5.5-3 53.5-24 14-6zM101.5 140.5l7.5 0 9 2 2.5 2.5 1 3 .5 3-1 4.5-3 10-7.5 20-15 38.5-7.5 18-3 5-3 3-3 1-3 0-6.5-4-3.5-3-4.5-6-2-4.5-1.5-6-.5-7.5 .5-7.5 1.5-9 3.5-12 4.5-12 5.5-12 6-10.5 4.5-6 6-5.5 6-3.5zM395 155.5l2-1 1.5 0 3 3.5 4.5 9 7.5 19 15 38.5 7 19.5 1.5 7.5-1 2.5-1.5 1-7.5-1-3-1-9-5.5-5-3.5-5.5-6-5.5-7.5-4.5-7.5-3.5-7.5-2.5-7.5-2-9-.5-9 0-7.5 1-7.5 2.5-10.5 1.5-3.5zM94 289l1.5-1 1.5 0 7.5 1 4.5 2.5 10.5 7 5.5 5.5 6 7.5 4.5 7.5 3.5 7.5 2.5 7.5 2 9 1 9 0 9-1 7.5-3 10.5-1.5 3.5-4.5 5.5-1.5 .5-1.5 0-1.5-1.5-3-5.5-4.5-10.5-25.5-66-3.5-11.5 0-3zM450.5 292l4 0 8.5 6 5 6 2 3 1.5 4.5 1.5 9-.5 9-2 10.5-3.5 13.5-4.5 12-7 13.5-6 9.5-6 7-6.5 4.5-7 2.5-7.5 .5-9-2-1.5-1-1.5-1.5-1.5-2.5-.5-2 .5-5 3-10 18-47.5 10.5-26 4.5-9 3-3.5zM334 401.5l7.5-1 7.5 .5 6 .5 9.5 3 4 2 4.5 4 1.5 1.5 0 1.5-.5 1.5-1.5 1.5-4.5 3-12 6-54 24-14.5 5.5-4.5 .5-1.5-1-1-2 1-7.5 .5-3 6.5-12 6.5-8 9-7.5 9-6 10.5-4.5zM149 425.5l3.5-.5 3 .5 12.5 4.5 44.5 19.5 22.5 10.5 7.5 4.5 2.5 3 1 3 .5 3-.5 1.5-5 8-3 3.5-3 2.5-6 3.5-4.5 1-4.5 .5-9 0-10.5-2.5-12-4-13.5-6-10.5-6-8.5-6.5-6-6-4.5-7.5-2.5-7.5-.5-4.5 .5-4.5 2-10 2-2z"/>
<path fill="#008fff" d="M208.5 47.5l7-1 7.5 0 6 1.5 6 3 4.5 4 2.5 3 5 10 .5 2-.5 3-1.5 3-5.5 4.5-8.5 4.5-64 28.5-9 3.5-6 1.5-4-.5-2.5-1.5-2.5-3-2-7.5-1-4.5 .5-6 .5-4.5 1.5-4.5 2.5-4.5 3.5-4.5 5-4.5 6-4.5 7.5-5 7.5-4 9-4.5 9-3.5zM282 88l1-.5 3 .5 10.5 3.5 27 11.5 36.5 16.5 9 4.5 4 3 1.5 1.5 0 1.5-.5 1.5-5.5 5-3 1.5-10.5 3.5-6 .5-7.5 .5-9-1.5-7.5-1.5-9-3.5-7.5-4-6-4.5-7.5-6.5-5-6-6-10.5-2-4.5-1.5-9 .5-1.5zM419 139l3.5-1 4.5 0 7.5 1.5 6 3 6 5 6.5 8 6 10.5 6 13.5 4.5 12 3.5 12 1.5 10.5 .5 9-.5 7.5-3 7.5-4.5 6-4 3.5-7.5 4.5-1.5 .5-3-.5-3-1-1.5-1.5-3-5-10.5-24.5-22.5-59.5-2.5-9.5 0-3 1-3 3-3.5zM131 155.5l.5-1 1.5 0 1.5 .5 5 6.5 2 4.5 2.5 12 .5 7.5-.5 10.5-1.5 9-2.5 9-3.5 7.5-4 7.5-5.5 7.5-6 7-6 4.5-9 5.5-3 .5-7.5 1-1.5-1-.5-1 0-3 3.5-12 25.5-66 4.5-10.5zM426.5 289l8-1 1.5 1 1 3-1.5 6-10 28-19.5 50-3 6.5-3 4.5-1.5 1.5-1.5 0-1.5-.5-5-7.5-2-4.5-2.5-12-.5-6 .5-9 1-7.5 2-7.5 2.5-7.5 3.5-7.5 4.5-7.5 4.5-6 5-5.5 4.5-3.5 9-6zM73 292l3-1.5 3 .5 3 1 1.5 1 4.5 7.5 4.5 10.5 19.5 50 9 25 1.5 6.5 0 3-1.5 3-3 3.5-9 2.5-6 .5-7.5-1.5-6.5-3.5-5.5-5-6.5-8.5-6-10.5-6-13.5-5-13.5-3-12-1.5-12 0-9 2-7.5 3-6 5.5-6zM176.5 401.5l6-1 6 0 6 .5 7.5 1.5 12 4.5 6 3 6 4 6 5 4.5 4.5 6 8 4.5 8 1.5 4 1.5 9-.5 1.5-1 1-1.5 .5-1.5 0-5.5-1.5-8-3-51-22.5-13-6-8-4.5-3.5-3-.5-1.5 0-1.5 1-1 6-5 1.5-1zM374 425.5l3.5-1 3 0 3 1 3 3 2.5 9 1 7.5-1.5 7.5-3 7.5-2 3-4 4.5-8 6.5-12 7.5-13.5 6.5-13.5 5-13.5 3-10.5 .5-7.5-1.5-6-3.5-6-6-4.5-8-1.5-4 .5-4.5 1-1.5 3-3 7.5-4.5 22.5-10.5 40.5-18z"/>
<path fill="#ff6000" d="M304.5 52l5.5-1 7.5 0 7.5 1 9 2.5 9 3 10.5 5 9 5 7.5 5 5.5 5 4 4.5 3 4.5 2 4.5 1.5 6 0 4.5 0 4.5-1.5 7.5-2.5 2.5-3 1-4.5 0-6-2-18.5-7.5-37-16.5-16-7.5-7.5-4.5-2-1.5-2-3-.5-3 .5-3 5-7.5 3-3 6-4zM239.5 89.5l6-1.5 1.5 0 1.5 1.5 .5 1.5-1 7.5-2.5 5.5-6 10-6 6.5-9 7.5-9 5.5-7.5 3-9 3-9 1-7.5 .5-6-1-10.5-2.5-2.5-1.5-5-4-1.5-2 0-1.5 1-1.5 4-3 6-3 39.5-18zM104.5 142l6 0 7.5 2 2 2.5 1 2 .5 2.5-1 4.5-2.5 9-6 16.5-22.5 57-3 6-3 4-3 2-3 .5-1.5-.5-2-1.5-7-6-3-4.5-3-6-1.5-7.5 0-7.5 .5-7.5 2-9 3-10.5 4.5-12 5-10.5 6-9.5 6-7 5.5-4.5 5-2.5zM397 155.5l1.5 0 1.5 1 4.5 8 21 53 7.5 20 3 9.5 .5 4.5-.5 1-1.5 1.5-7.5-1-3-1-9-6-4.5-3.5-5.5-6-4.5-6-4-7.5-3.5-7.5-2.5-7.5-2-9-1.5-9 0-7.5 1-7.5 2.5-10.5 5-8zM94.5 290.5l1-1 1.5-.5 7.5 1.5 4.5 2 9.5 7 4.5 4.5 6 7.5 4.5 7.5 3.5 7.5 3 9 2 9 1 9 0 7.5-1.5 12-2 6-5 7.5-1.5 1-1.5 0-3-4-3-6-6-14.5-22.5-59-2.5-9-.5-3zM449 293.5l2-.5 3 0 7.5 5.5 2 2.5 3.5 4.5 3 7.5 1 9-.5 9-2 10.5-3.5 12-4.5 12-6.5 13-6 9-6 6.5-6 4-7.5 2.5-6 .5-9-1.5-1.5-.5-1.5-2-1.5-4.5 1-6 2-6.5 9-24.5 18-46 6-12.5 1.5-1.5zM335 403l8-1 6 0 6 1 9 2.5 3 1.5 6 5 .5 1.5 0 1.5-1.5 1.5-4.5 3-12 6-54.5 24-13.5 5-3 .5-2-1-1-1.5 0-1.5 1.5-7.5 1-3 6.5-11 6-7 9-7 9-5.5 10.5-4.5zM148.5 427l2.5-1 3 0 9.5 2.5 24.5 10.5 40 18 11.5 6 3.5 3 2 3 .5 4.5-6 9-4.5 4-6 3.5-7.5 2-9 0-9-1.5-12-3.5-12-5-10.5-6-9-6-6-5.5-5.5-7.5-3-7.5-1-4.5-.5-4.5 2-10.5z"/>
<path fill="#0080ff" d="M210 49l7-.5 7.5 .5 6 2 6 4 4.5 4.5 5 9 0 4.5-1 3-1.5 1.5-6.5 4.5-12.5 6-40.5 18-21 9-6 2-4.5 1-3-.5-3-1.5-2-2.5-1.5-7.5-.5-4.5 0-6 1-4.5 2-4.5 2.5-4.5 3.5-4.5 5-4.5 6-4.5 8-5 7.5-4 16.5-6.5 7.5-2.5zM282 89.5l1-1 1.5-.5 4.5 1 6 2 55 24 12.5 6 8 4.5 3 3-.5 2.5-6 5-3 1.5-10.5 2.5-6 1-7.5-.5-7.5-1-7.5-2-7.5-3-7.5-4-6-4-6.5-5.5-5.5-5.5-3-4.5-5.5-9.5-1-3-1-7.5zM419 140.5l3.5-.5 4.5 0 7.5 1.5 6 3 6 5.5 6 8 5.5 9.5 6 13.5 4.5 12 2.5 10.5 2 10.5 .5 9-1 7.5-2.5 6-4 6-5 4.5-7 4.5-3 0-3-1.5-3-3.5-3-5.5-13.5-33.5-18-48-2-8.5 .5-4.5 3-4zM131.5 155.5l1.5 0 1.5 .5 4.5 7 1.5 4.5 2.5 12 .5 7.5-1 9-1.5 9-3 9-3 7.5-4.5 7.5-5 7.5-5.5 6-5 4-9 5.5-9 2-1.5-.5-1.5-2 .5-3 1-5 4.5-13 24-61.5 4.5-9.5zM425.5 290.5l7.5-1.5 1.5 0 1.5 1.5 .5 3-1.5 6-11 30-18 45.5-3 6.5-3 5-1.5 1-1.5 0-1.5-1-4.5-7.5-1.5-4.5-2-10.5-.5-6 .5-7.5 1-7.5 2-7.5 2.5-7.5 3-7.5 4.5-7.5 4-6 4.5-5 4.5-4 9-6zM75.5 292l2-.5 3 .5 3 2 1.5 2 4.5 8.5 9 22 16.5 43 6 18 1 5-.5 3-1.5 3-2 2-9 2.5-6 0-7.5-1.5-6-3.5-6-5.5-6-8.5-6.5-11-5-12-4.5-13.5-3-12-1.5-10.5 .5-9 2-7.5 4.5-7.5 4.5-4.5zM176 403l5-.5 6-.5 6 .5 7.5 1.5 7.5 2.5 6 2.5 6 3 6 4 6 5 4.5 4.5 3.5 4.5 5.5 9 1.5 3 1 3 1 7.5-1 1.5-2.5 1-3-.5-13-5-51-22.5-18-9-3.5-3 0-1.5 .5-1.5 1-1 6.5-5zM375.5 425.5l3.5-.5 2 .5 2.5 1.5 1.5 1.5 1.5 4.5 1.5 7.5-.5 9-2.5 7-4 6.5-6 6-8 6-12 7-12 5.5-13.5 4.5-12 2.5-9 0-7.5-2-6-3.5-3-2.5-3-3.5-4.5-8-.5-3 .5-3 .5-1.5 1.5-1.5 3.5-3 15-7.5 36.5-16.5 21-9z"/>
<path fill="#ff5000" d="M307 53.5l6-.5 7.5 0 7.5 1.5 7.5 2 7.5 3 9 4 9 5 6.5 4.5 5 4.5 4.5 4.5 3 4.5 2 4.5 2 6 .5 4.5-.5 7.5-1 4.5-2.5 2.5-3 .5-4.5-.5-7.5-2.5-18-7.5-37-16.5-12.5-6-7.5-4.5-2-1.5-2-3-.5-4.5 1-1.5 5-6.5 3-3 6-3.5zM240.5 89.5l5-.5 1.5 .5 1 1.5-2 9-2 4.5-6 9-6 6.5-9 7-9 5-7.5 3.5-9 2.5-7.5 1-7.5 .5-6-1-9-2-3-1-5-4-1.5-1.5 0-1.5 .5-1.5 4.5-3 5.5-3 43-19.5 17.5-7.5zM99.5 145l3.5-1 4.5-.5 7.5 1 2.5 .5 2 2 1 2.5 0 3-.5 3-2 8-6 16.5-15 39-7.5 18-3 6-3 4-3 2-3 0-5-3.5-4.5-4.5-3-4.5-2.5-6-1-6-.5-6 .5-6 1-7.5 3-12 4-10.5 4.5-10.5 5-8.5 4.5-6.5 6-6 4.5-3.5zM397 157l1.5-.5 1.5 1 1.5 2 4.5 9 7.5 18.5 20 52.5 1.5 6 1 4.5-.5 1.5-1 1-1.5 .5-9-2.5-4.5-3-8.5-6.5-5-5.5-4.5-6.5-3.5-6-3.5-7.5-2.5-7.5-2-7.5-1-9-.5-7.5 .5-6 2-11.5 1.5-3zM96 290.5l1-.5 9 2 4.5 3 9 7 4.5 5 5 7.5 4.5 7.5 3 7.5 3 9 1.5 7.5 1 7.5 0 7.5-2 12-1 4.5-4.5 7.5-1.5 1.5-1.5 0-1.5-1-3-5.5-6-14-10.5-26.5-10.5-27.5-4.5-13.5-1-5 .5-1.5zM448 295l1.5-1 3 0 1.5 .5 4.5 3.5 3 3 2.5 3 2 4.5 2 4.5 1 7.5 0 10.5-1.5 9-3.5 12-4.5 12-5.5 11-6 9.5-6 6.5-6 4.5-7.5 3-6 1-9-1-3-3-.5-3 0-4.5 2-7 9-25 18-45.5 4.5-10 1.5-2.5zM335.5 404.5l6-1 6 0 4.5 .5 10.5 2 3 1.5 6 4.5 1 1.5 0 1.5-1.5 1.5-4.5 3-8.5 4.5-50.5 22.5-15.5 6.5-4.5 1-3.5 0-1.5-1.5 0-1.5 1.5-7.5 1-3 7-10.5 6-6.5 7.5-6.5 9-5.5 10.5-4.5zM150 427l2.5-.5 4.5 .5 9.5 3 27.5 12 36.5 16.5 8 4.5 4 3 1.5 3 0 4.5-6 8-4.5 3.5-6.5 3.5-7 1.5-9 0-9-1.5-12-4-10.5-4.5-10.5-6-7.5-5-7.5-7.5-4-6-3-7.5-1-7.5 1-10.5z"/>
<path fill="#0070ff" d="M212 50.5l8 0 6 1 4.5 1.5 6 4 4.5 5 4.5 8-.5 4.5-2 3-4.5 3-11.5 6-61 27-8.5 3-3.5 .5-4.5 0-2.5-2-1.5-1.5 0-1.5-1.5-7.5 0-4.5 .5-4.5 1-4.5 2-4.5 3-4.5 3.5-4.5 5.5-4.5 6-4.5 15.5-8.5 16.5-6.5 7.5-2zM283.5 89.5l1-.5 3 0 6.5 2 21.5 9 30.5 13.5 21.5 10.5 4 3 1 1.5 0 1.5-1.5 1.5-7 5-6 1.5-10.5 1.5-7.5-.5-7.5-1-7.5-2-7.5-3.5-7.5-3.5-6-4.5-6-5-4.5-4.5-6-8.5-3-5-1.5-9-.5-1.5zM419 142l6.5-.5 7.5 1.5 6 3 6 5 6 7.5 5 9 6 12 4.5 12 3 12 1.5 9 .5 9-.5 7.5-2.5 6-3.5 6-4 4.5-7 5-3 0-3-1.5-3-3-3-6-12-29-18-48-2.5-9-.5-3 .5-3 1-2.5 1.5-1.5 1.5-1zM131 157l.5-.5 2 .5 5 7.5 1.5 4.5 1.5 10.5 .5 7.5-1 9-1.5 7.5-2.5 9-3.5 7.5-4 7.5-4 6-4.5 6-4.5 4-9 6.5-3 1.5-7.5 1.5-1.5-1-.5-.5-.5-3 1-4 3-9 24-62.5 6-13zM431.5 290.5l1.5-.5 1.5 .5 1 1.5 .5 1.5-1.5 6-3 9-15 40-12 29.5-3 5.5-1.5 2-1.5 1-1.5-.5-4.5-6.5-1.5-3-2.5-15.5 0-7.5 1-7.5 1.5-7.5 2.5-7.5 3-7.5 4-7.5 4-6 4.5-6 5-4.5 8.5-6.5 3-1.5zM75 293.5l2.5-1 1.5 0 3 1 1.5 1.5 1.5 1.5 3 5.5 6 14 18 46.5 7.5 21 1.5 6 0 4.5-1 3-2 2.5-9 2-6 0-7.5-2-6-4-6-6-5.5-7.5-5-9-5.5-12-4-12-3.5-12-1-10.5 0-9 2-7.5 3-6 4.5-5.5zM176 404.5l5-1 6 0 6 .5 7.5 2 12 4 6 3 6 4 6 4.5 4.5 4.5 3.5 4 5.5 8.5 2.5 5 1 7.5 0 1.5-.5 1-1.5 1-3-.5-12.5-4.5-48-21-12.5-6-8.5-4.5-3-3 0-1.5 .5-1.5 7.5-5 3-1zM371.5 427l4.5-1 3-.5 3 1.5 2 1.5 1 1.5 1.5 9 0 4.5-1 6-3 7.5-5.5 7.5-7 6.5-10.5 7-12 6-13.5 5-12 3-9 1-9-1.5-6-2.5-6-5-6-8.5-1-2 0-1.5 .5-3 .5-1.5 3-3 4.5-3 12-6 30-13.5 24-10.5z"/>
<path fill="#ff4000" d="M310.5 55l7 0 6 .5 6 1 9 3 15 6.5 6.5 4 7 5 4.5 4 4 4.5 3 4.5 2 4.5 2 6 .5 4.5-.5 9-.5 1.5-3 2-3 .5-4.5-1-5-1.5-18-7.5-34-15-16-7.5-7.5-4.5-2.5-3-1.5-3 .5-3 1.5-2.5 4.5-5 4.5-3.5 6-2.5zM242 89.5l3.5 0 1 1.5 0 1.5-1.5 7.5-3 6-5.5 7.5-6 6-7.5 6-9 5-7.5 3-7.5 2.5-7.5 1.5-7.5 .5-15-2-3-1.5-6.5-4.5-.5-1.5 .5-1.5 1.5-1.5 11-6 50.5-22.5 11-4.5zM101 146.5l6.5-1.5 9 .5 1.5 1.5 1.5 2.5 .5 3-.5 4.5-3 9.5-6 16.5-21 53-3 6-3 4-3 2-3 0-4.5-4-4-4.5-2.5-4.5-2-6-1.5-6 0-7.5 1-7.5 1.5-7.5 2.5-9 3.5-10 4.5-9.5 4.5-7.5 4.5-6 6-6.5 4.5-3zM397 158.5l1.5-1 1.5 .5 3 5 12 28.5 18 48 1.5 5 .5 4-.5 2.5-1 .5-2 0-7.5-2-4.5-3-8-7-5-6-4-6-3.5-6-3.5-7.5-2.5-7.5-1.5-7.5-1.5-7.5 0-7.5 1-10.5 1-6zM96 292l1-.5 1.5 0 7.5 2 4.5 3 7.5 6 4.5 5 5 7 3.5 6 3.5 7.5 2.5 7.5 2 9 1.5 7.5 0 7.5-1 10.5-1 6-5.5 9-1.5 .5-1.5-1-1.5-2.5-4.5-9-6-15-13.5-35-7.5-20.5-2-7.5 .5-2.5zM450.5 295l2 0 1.5 1 6.5 6.5 3.5 6 3 9 .5 7.5-.5 9-2.5 10.5-3 10.5-4.5 11-5.5 10-5 7.5-6 6.5-6 4-7 3-5 1-9-1-2.5-3-.5-3 0-2.5 1.5-6.5 4.5-13 16.5-43 9-21.5 3-5.5 1.5-2 1.5-1zM336 406l5.5-1 6 0 10.5 1.5 4.5 1 7.5 4.5 1 1.5 .5 1.5-1 1.5-4.5 3-9 4.5-50 22.5-16.5 6.5-4.5 .5-1.5-.5-1-2 2-7.5 1-3 7-10.5 6-6 7.5-6 9-5.5 10.5-4zM149.5 428.5l3-1.5 3 0 10 3 24.5 10.5 36.5 16.5 11.5 6 3.5 3 1.5 3 .5 3-.5 1.5-6.5 7.5-4.5 3-7 3-6.5 1-7.5 0-9-1.5-10.5-3-10.5-4.5-10-5.5-8-6-6-5.5-4.5-6-3-6.5-2-7.5 0-10.5 .5-1.5z"/>
<path fill="#0060ff" d="M204.5 53.5l8-1 9 0 6 1.5 6 3 3 2 3 3.5 5 7.5-.5 4.5-2 3-6.5 4.5-12.5 6-36.5 16.5-21.5 9-6.5 2-4.5 1-3 0-3-2-1.5-2-1-5 0-6 .5-4.5 3-9 2.5-4.5 4-4.5 8.5-7.5 12.5-7.5 13.5-6zM285 89.5l4 0 12 4.5 54 24 9 4.5 5 3 2 1.5 .5 1.5-.5 1.5-6 4.5-3.5 1.5-6.5 1-9 1-6-.5-7.5-1-7.5-2.5-7.5-3-7.5-4-6-4-6-5.5-4.5-5-6-8-2-4.5-1.5-7.5 0-1.5zM418 143.5l6-.5 7.5 1.5 6 3 6 5 6 7 5 8 5 10.5 5 12 3 12 2 9 .5 9-1 7.5-1.5 6-3.5 6-3.5 4.5-6.5 5-3 .5-3-1.5-3-3-3-5.5-10.5-25.5-18-47.5-3-9.5-1-4.5 .5-3 .5-2 2-2.5 1-.5zM130 158.5l1.5-1 1.5 .5 4.5 7 1.5 4.5 1.5 10 0 7.5-.5 7.5-2 9-2 7.5-3 7.5-4 7.5-5 7.5-4.5 5.5-7.5 6.5-4.5 3-3 1.5-7.5 1.5-1.5-1 0-3.5 4.5-15 22.5-58 4.5-10.5zM430 292l3-.5 1.5 .5 .5 1.5-.5 4.5-3 10-13.5 35.5-12 30-4.5 9.5-1.5 2-1.5 .5-1-.5-1.5-1.5-4-7.5-1-4.5-1-10.5 0-6 .5-7.5 1.5-7.5 2.5-7.5 3-7.5 3.5-7.5 4-6 4.5-6 5-4.5 8-6.5 3-1.5zM75 295l2.5-1.5 3 .5 3 1.5 1.5 2 4.5 8.5 6 14.5 18 46.5 6 18 1 6 0 3-1.5 3-2.5 2-7.5 1-6-.5-7.5-2.5-5-3-6-6-5.5-7.5-5-9-5-10.5-4-12-3-12-1.5-9 0-9 2-7.5 2.5-6 3.5-5zM174.5 406l11-1 12 1.5 12 4 12 6 6 4.5 6 5.5 8.5 11 2 3 1 3 1.5 7.5 0 1.5-1 1-3 0-4-1-8-3-47.5-21-13-6-8-4.5-2-1.5-1-1.5 0-1.5 1-1 7.5-5zM372.5 427l3.5-.5 3 0 3 1.5 2 2 1 12-.5 4.5-1.5 4.5-3.5 7.5-6.5 7.5-7.5 6-10.5 6.5-12 5.5-12 4.5-10.5 2-9 .5-7.5-1.5-7.5-4-4.5-3.5-6-8.5 0-3 1-3 2.5-3 4.5-3 15.5-7.5 33.5-15 21-9z"/>
<path fill="#ff3000" d="M306 58l5.5-1 6 0 7.5 .5 7.5 2 7.5 2.5 8.5 3.5 6.5 3.5 7.5 5 4.5 3.5 5 4.5 3.5 4.5 2.5 4.5 2 4.5 1 4.5 .5 6 0 6-2.5 2.5-3 .5-4.5-.5-8-2.5-51.5-22.5-12.5-6-7.5-4.5-1.5-1.5-2-3-.5-3 .5-1.5 8-7.5 4.5-2.5zM238.5 91l4-1 1.5 .5 1 .5 .5 1.5-2 7.5-2 4.5-7 9-5.5 5.5-7.5 5.5-9 5-7.5 3-7.5 2.5-7.5 1-6 .5-9-.5-6-1.5-7.5-4-1-2 0-1.5 1.5-1.5 11-6 39.5-18zM102.5 148l5-1 9 0 2 2.5 1 3-.5 3-1 4.5-3 10-7.5 20-18 45-3 6-3 4-3 2-3-.5-4-4-3.5-4.5-2-4.5-2.5-7.5-.5-6 0-7.5 1-7.5 1.5-7.5 3-9 3.5-9 4-7.5 4.5-7.5 5-6 4.5-4.5 5-3.5zM397.5 160l1-1 1.5 .5 3 4 10.5 25 12 31 7.5 21 1.5 6.5 0 2-1.5 1.5-7.5-2-3-1.5-10.5-9-3.5-4.5-4.5-6-3.5-6-3-7.5-3-7.5-1.5-7.5-1.5-7.5-.5-6 .5-10.5 1-5.5 1.5-3.5zM96.5 293.5l.5-.5 1.5-.5 7.5 2.5 4.5 3 6.5 6 4.5 4.5 4 6 4.5 7.5 3.5 7.5 2.5 7.5 1.5 7.5 1.5 7.5 0 6-.5 10.5-1 6-5 9-1 .5-1.5-.5-1.5-2-3-6-6-14.5-21-55-2-8-.5-3zM449 296.5l2-.5 2 .5 6.5 7.5 3.5 6 2 7.5 .5 7.5-.5 9-2 10.5-3.5 10.5-4 10.5-5 9-5.5 8-6 6-6 4-6 3-7.5 .5-4.5 0-1.5-.5-2-3-.5-4.5 1-4.5 4.5-13.5 15-39.5 9-22 4.5-8.5 1.5-1.5zM336 407.5l10-1 13.5 1.5 3.5 1 7 4.5 0 1.5-.5 1.5-4 3-9 4.5-43.5 19.5-14 6-8.5 3-3 .5-1.5-.5-1-1.5 0-1.5 2.5-9 7.5-10 6-6 7.5-5.5 9-5.5 9-3.5zM151.5 428.5l2.5-.5 4.5 .5 9.5 3 24.5 10.5 33.5 15 8.5 4.5 4.5 3 2.5 3 .5 1.5 0 3-1 2-4.5 4.5-4.5 3.5-6 2.5-7.5 1.5-7.5 0-9-1.5-9-2.5-10.5-4-8-4.5-9-6-6.5-6-4.5-6-4-7.5-1.5-7.5 0-9 .5-1.5z"/>
<path fill="#0050ff" d="M205.5 55l8.5-1 7.5 .5 6 1.5 6 3 4.5 4 5.5 7-.5 4.5-2 3-4 3-11.5 6-57.5 25.5-8.5 3-5.5 1-3-.5-3-2-.5-1.5-.5-9 1-7.5 1.5-4.5 2.5-4.5 6-7.5 9-7.5 12.5-7.5 13.5-5.5zM285.5 91l2-1 1.5 .5 7.5 2 35 15 32 15 5 3 1.5 1.5 0 1.5-.5 1.5-8.5 5-4.5 .5-9 1-6 0-7.5-1.5-7.5-2-7.5-3-6-3-7-4.5-5.5-4.5-4.5-4.5-6-7.5-3-4.5-2-9zM416 145l8-.5 6 1.5 6 2.5 6 5 5.5 6.5 5 7 5.5 11 4 10.5 3.5 10.5 2 10.5 .5 9-.5 7.5-2 7.5-3.5 6-5.5 6-2.5 2.5-1.5 .5-3-.5-3-2-1.5-2-3-5.5-9-21.5-18-47-4-13-.5-6 0-1.5 2-3 1-1zM130 160l1.5-1 1.5 1 4.5 8 1 7 .5 10.5-.5 7.5-1.5 9-2.5 9-3.5 7.5-4 7.5-4.5 7-4.5 5-6 6-4.5 3.5-9 3-1.5-.5-1-1.5 .5-4.5 5-15.5 21-54 4.5-10zM429.5 293.5l3.5-1 1.5 2 0 2-3 10.5-13.5 36-12 30-4.5 9-1.5 1.5-1.5 .5-1.5-1.5-4-8-1.5-10.5-.5-7.5 1-7.5 1.5-7.5 2-7.5 3-7.5 3.5-7.5 3.5-6 5-6 6-6 5-4.5 2.5-1.5zM77 295l2-.5 3 1 3 3 1.5 2 6 13.5 9 22.5 13.5 35.5 4.5 14 .5 5-.5 3-1.5 2.5-1.5 1-9 1-4.5-.5-6-2.5-6-3.5-6-6-6-8.5-5-9-4.5-10.5-3.5-10.5-2.5-10.5-1-9 0-9 1.5-6 3-7.5 3-4.5zM172 407.5l12-1 10.5 1 12 3.5 12 5.5 6 4 6 5 9 10.5 4 6 2 9-1 1.5-2 .5-2.5-.5-8-3-42-18-25-12-4-3-.5-1.5 0-1.5 7-4.5zM375 427l3 0 2.5 1 2 2 .5 1.5 .5 11-.5 4-2.5 6-3 6-7 7.5-7.5 6-10.5 6-11 5-12 4-9 1.5-9 .5-7.5-1.5-7.5-4-4.5-4-5-6-.5-1.5 .5-3 2-3 3.5-3 5-3 19-9 37.5-16.5 15-6z"/>
<path fill="#ff2000" d="M308.5 59.5l6-.5 6 0 6 1 7.5 1.5 13.5 5.5 7.5 4 6 4 5 4 4.5 4.5 3.5 4.5 2.5 4.5 2 4.5 1 4.5 1 7.5-.5 3-2.5 2-4.5 .5-4-1-8-3-48-21-12.5-6-7.5-4.5-2.5-3-1-1.5 0-3 1-1.5 7.5-6.5 4.5-2.5zM240 91l3 0 1 1.5-2.5 9-2.5 4.5-5.5 6.5-6 5.5-7.5 5.5-7.5 4.5-7.5 3-7.5 2-7.5 1.5-6 .5-9-.5-4.5-.5-7-4-1.5-1.5 0-1.5 1-1.5 10.5-6 43.5-19.5 14-6zM103.5 149.5l8.5-1.5 3 0 1.5 .5 1.5 2.5 .5 1.5-.5 6.5-3 10-6 16.5-13.5 34.5-6 14.5-4.5 8-3 2.5-3 .5-2.5-1.5-5.5-7.5-2-4.5-1.5-6-1-6 .5-7.5 1-7.5 1.5-7.5 3-9 3-7.5 3.5-7.5 4.5-7.5 4.5-5.5 4.5-4.5 6-4zM398 161.5l.5-.5 1.5 0 1.5 1 3 5.5 6 14 12 31 9 24.5 2 7 0 3-.5 1.5-1.5 .5-7.5-2.5-3-2-4-3.5-6.5-7-3.5-5-4.5-7.5-3.5-7.5-3-7.5-2-7.5-1-7.5-.5-6 .5-9 .5-6zM97 295l1.5-1 7.5 2.5 3 1.5 5 4.5 5.5 6 4.5 6 4.5 7.5 3.5 7.5 2.5 8 2 8.5 1 7.5 .5 7.5-.5 7.5-1 4.5-3.5 8-1.5 1.5-1.5-.5-1.5-1.5-1.5-2.5-12-29-16.5-44-1.5-5.5zM448.5 298l2.5-.5 1.5 0 4 5 4 6 2.5 9 1 7.5-1 9-1.5 9.5-3 10-3.5 9-5 9-5 8-5 5.5-5.5 4.5-6 3.5-4.5 1-9 1-1.5-1-1-1.5-.5-1.5 0-3 0-3 3-9.5 9-24.5 15-38 4.5-9.5 3-4zM336.5 409l11-1 7.5 .5 4.5 .5 8.5 4.5 .5 1.5 0 1.5-1.5 1.5-8 4.5-13 6-44 19.5-11.5 4-3 0-1-1 0-1.5 2-7.5 1.5-3 5-6.5 7.5-7.5 7.5-5.5 9-5 9-3.5zM151.5 430l2.5-1 3-.5 10 3 21.5 9 33.5 15 11.5 6 4.5 3 2.5 3 .5 3 0 1.5-6 5.5-4.5 3-6 2.5-7.5 1-7.5 0-7.5-1-9-3-9-3.5-8.5-4.5-8-5.5-6-5-4.5-5.5-3.5-6.5-2.5-6.5-1-10 0-1.5z"/>
<path fill="#0040ff" d="M207 56.5l7-.5 7.5 .5 6 1.5 6 3 3 2.5 6 6.5 0 1.5-.5 3-2 3-6 4.5-12.5 6-33 15-21.5 9-8.5 3-3 .5-3.5-.5-2.5-1.5-1-1.5-.5-6 .5-4.5 1-5.5 2-5 2.5-4.5 6-7 9-7.5 12-7 13.5-5.5zM287.5 91l3 0 9 3 51 22.5 15 7.5 2 1.5 1 1.5 0 1.5-1.5 1.5-7.5 4-4.5 .5-7.5 .5-6-.5-7.5-1-7.5-2-7.5-3-7.5-4-7-5-5-4.5-6-6.5-3-4-2-3-2-9zM414 146.5l8.5-.5 4.5 1 6.5 2.5 6.5 4.5 5.5 6 5.5 7.5 4.5 9 4.5 10 3 9.5 2.5 10.5 1 9-.5 7.5-1 6-3 7.5-3 4.5-4 4.5-2.5 2-3-.5-1.5-.5-3-3.5-1.5-2-6-13.5-16.5-42-7.5-21-2.5-9 0-3 .5-3 2-3zM129.5 161.5l.5-.5 1.5-.5 1.5 1.5 3.5 7 1 7.5 0 10.5-.5 6-1.5 9-2.5 8-2.5 7-3.5 6.5-3.5 5.5-4.5 6-7 7.5-4 3-2 1-7.5 2.5-1.5-1-.5-2.5 3.5-12 9-24 13.5-34 4.5-10.5 1.5-2.5zM429 295l2.5-1 1.5 .5 .5 2-.5 4.5-3 9.5-13.5 35.5-10.5 26-4.5 9-1.5 1-1.5 .5-4.5-8.5-1-4-.5-6 0-7.5 1-7.5 1.5-7.5 2-7.5 3-7.5 3-6 3.5-6 4-5.5 6-6.5 4.5-4 3-2zM76.5 296.5l1-.5 3 0 1.5 .5 3 2.5 4.5 8.5 6 14.5 15 38.5 7.5 21.5 1.5 6 0 3-1 3-2 2.5-9 .5-4.5-1-6-2.5-6-4-5.5-6-4.5-6-5-8.5-4.5-10-3.5-10-2.5-10.5-1.5-9 0-9 1-6 3-7.5 3-4.5zM171 409l5.5-1 7.5 0 10.5 1 12 3.5 10.5 5 6 4 5.5 4 9.5 10 4 6.5 2 7.5 0 1.5-1.5 1-1.5 0-4.5-1-8-3-38-16.5-24.5-12-4-3-.5-1.5 1-1.5zM370.5 428.5l4-1 3 .5 2 .5 2 1.5 .5 1.5 0 9-1.5 7.5-3.5 7.5-6 7.5-7 6-10.5 7-11 5-10 3.5-10.5 2-9 .5-7.5-1-7.5-3.5-4.5-3.5-5-5.5-1-1.5 .5-3 .5-1.5 2.5-3 4.5-3 15.5-7.5 30-13.5 17.5-7.5z"/>
<path fill="#ff1000" d="M312 61l5.5-.5 6 .5 12 3 7.5 3 6 2.5 6 3.5 6 4 8 8 4 5 3 5 2 5 1 6 0 4.5-1 1.5-3 1.5-3.5 0-5.5-1.5-8-3-47.5-21-9-4.5-7.5-4.5-2.5-3-.5-1.5-.5-3 1.5-1.5 6-4.5 3-1.5 4.5-2zM236.5 92.5l4.5-.5 1 .5 .5 1-2.5 8-1.5 3-5 6-7.5 7-6 4.5-7.5 4-7.5 3.5-7 2-6.5 1.5-7.5 .5-6 0-5.5-.5-9-4.5 0-1.5 .5-1.5 2-1.5 8-4.5 40-18zM113 149.5l2 0 1.5 1 1 2 .5 3-1.5 7.5-3 9-15 39.5-9 22-4.5 7.5-3 3-3 .5-4-5-3.5-6-2-6-.5-6-.5-7.5 1-7.5 1.5-9 3-9 3.5-8.5 4.5-8 4.5-7 4.5-5 5.5-4.5 5-3 4.5-2zM398.5 163l1.5-.5 1.5 .5 1.5 2.5 4.5 9.5 9 22.5 15 40.5 1.5 6 0 1.5-1.5 2-9-3.5-6.5-6-5-6-4.5-6-3.5-6.5-3-7-3-7.5-1.5-7.5-1-7.5-.5-7.5 0-6 .5-4.5zM98 296.5l.5-.5 1.5 0 7.5 3 6 5 5.5 6 4 6 4 6.5 3 7 3 7.5 2 7.5 1 7.5 .5 9 0 6-1 4.5-4 9-1.5 0-1.5-1-1.5-2.5-10.5-25-16.5-43.5-2.5-9 0-1.5zM448 299.5l3-1 1.5 1 1 1.5 5 7.5 1.5 4.5 1 4.5 1 9-.5 7.5-1.5 9-3.5 10.5-3.5 9-4 7.5-5 7.5-5.5 6-5.5 4.5-6 3.5-6 1.5-6 .5-2-2.5-.5-4.5 1-5 3-9.5 12-32 10.5-26 4.5-9.5 1.5-2zM337 410.5l12-1 9 .5 7.5 4 1.5 1 0 1.5-1 1.5-5 3-9 4.5-40 18-15.5 6-4.5 1.5-3 0-1-1.5 2-7.5 1.5-3 5-6 7.5-7 6.5-5 8.5-4.5 9-3.5zM153.5 430l3.5-.5 3 .5 9.5 3 25 10.5 29.5 13.5 8.5 4.5 4.5 3 2 3 1 3-.5 1-6 5.5-4.5 2.5-6 2-7.5 .5-7.5 0-7.5-1.5-8.5-2.5-8-3.5-9-5-7-5-6.5-6-4.5-6-4-7.5-1.5-7.5-.5-4.5 .5-1.5z"/>
<path fill="#0030ff" d="M209 58l6.5-.5 6 1 6 1.5 6 3 6 5.5 2 3-.5 3-.5 1.5-3 3-7.5 4.5-12.5 6-33.5 15-18 7.5-6 2-4.5 .5-3-.5-3-2 0-3 .5-7.5 1.5-6 4.5-9 7-7.5 10-7.5 11-6 12-4.5zM288 92.5l1-.5 3 0 6.5 2 45 19.5 12.5 6 8.5 4.5 1.5 1.5 1 1.5-.5 1.5-8.5 4.5-9 .5-9-.5-6-1-6.5-2-7-2.5-6.5-3.5-7-4.5-6-5-5.5-5.5-3.5-4.5-2-3-2-7.5zM414 148l1-.5 4.5 0 7.5 1 6 3 6 4 4.5 4.5 5.5 7.5 5 9 4 9 3 9 2.5 10.5 1 9 0 7.5-1.5 7.5-2 6-2.5 4.5-6 6.5-1.5 .5-3-1-3-3.5-4.5-8.5-7.5-18-13.5-35-6-17.5-1.5-5-.5-4 .5-3.5zM129.5 163l.5-.5 1.5 0 1 2 3.5 7.5 .5 6 0 7.5-1 9-1.5 7.5-3 9-3 7.5-4 7-3.5 5-6 7.5-4 4-3 2-7.5 3-1.5 0-1-1.5 .5-4.5 5-15 19.5-50 4.5-10 1.5-2.5zM429 296.5l2.5-1 1 1 .5 1.5-1 6-2 5.5-12 32-12 30-3 6-1.5 2-2 1-1-.5-4-8.5-.5-7.5 1-15 1.5-7.5 2-7.5 3-7.5 3-6 4-6 4.5-6 8-8.5 3-2zM76.5 298l2.5-1.5 1.5 .5 1.5 .5 3 2.5 3 5.5 6 13.5 18 46.5 6 18 1 4.5-.5 3-.5 2-1.5 2-4.5 .5-7.5-1-6-2.5-6-3.5-5-5-5.5-7.5-4.5-7.5-4-9-4-10.5-2-9-1.5-9-.5-7.5 1-7.5 2.5-7.5 2.5-4.5zM171 410.5l4-1 4.5 0 13.5 1 11.5 3 11 5 10.5 7 10.5 10 3.5 5 2.5 9.5-1.5 1-3 0-8.5-3-35-15-25-12-5-3-1-1.5 0-1.5zM372.5 428.5l5 0 2 1.5 1.5 1.5-.5 10.5-2.5 7.5-4 7.5-5.5 6-7.5 6-10.5 6.5-10.5 5-9 2.5-9 2-9 0-7.5-1-6-2.5-4.5-3-6-6.5 0-3 1.5-3 3.5-3 5.5-3 18.5-9 34-15 15-6z"/>
<path fill="#ff0000" d="M306 64l5.5-1 6 0 6 0 6 1 13.5 4.5 12 6.5 9 7.5 4.5 4.5 4 5.5 3.5 7.5 1.5 7 0 3.5-3 2-3 0-4.5-1-7.5-2.5-41.5-18-12.5-6-8-4.5-4-3-1-1.5-.5-3 0-.5 1.5-2 6-4zM233 94l5-1 1.5 0 1.5 1-4 10.5-3.5 4.5-7.5 6.5-7.5 5.5-7.5 4-6 2.5-7.5 2.5-9 1.5-6 1-4.5 0-4.5-1-7-3-1.5-1.5 .5-1.5 1.5-1.5 8-4.5 33-15zM112.5 151l2.5 0 1.5 3 .5 3-2 9-4.5 13-13.5 35.5-7.5 17.5-3 6-3 3.5-3 1.5-1.5-.5-3-4.5-3.5-6-1.5-6-.5-6 0-7.5 1-7.5 1.5-7.5 3-9 3-7.5 4.5-8.5 4.5-6 4.5-5 4.5-4 4.5-3 4.5-2zM399.5 164.5l2 .5 3 4.5 10.5 25 15 40 1.5 5 .5 3-.5 2.5-1.5 .5-7.5-3.5-5-4-5-6-4-6-4-7-3-6.5-4-13.5-2-9-.5-7.5 .5-9 3-7.5zM99 298l1-.5 7.5 3 3 2 3 3 4.5 6 5 7.5 4 7 2.5 6.5 2.5 7.5 2 7.5 1 7.5 .5 7.5-1 8-3 7-1.5 1-1.5-1-1.5-1.5-3-6.5-15-37.5-9-25-1.5-6 0-1.5zM447.5 301l2-1 1.5 0 2 2.5 4.5 7.5 1 4.5 1 4.5 .5 9-.5 7.5-2 9-2.5 9-4 9-4 7.5-4 6-5.5 6-5.5 4.5-5 3-9 2.5-1.5 0-1.5-.5-1.5-3.5 0-4.5 1.5-6 4.5-12.5 19.5-50 4.5-9 1.5-2.5zM337.5 412l11.5-1.5 7.5 1 8 3.5 .5 1.5-.5 1.5-2 1.5-8 4.5-13 6-34 15-12.5 4.5-3 .5-2-.5-.5-1.5 3.5-9 3.5-4.5 7.5-6.5 7.5-5.5 9-5 9-3.5zM153.5 431.5l2-1 3 0 4.5 .5 5.5 2 18 7.5 27 12 12.5 6 8 4.5 3 3 1 1.5 .5 3-3.5 3-6 4-6 2-6 .5-7.5 0-7.5-1-9-2.5-7.5-3-8-4.5-6.5-4.5-5.5-4.5-5.5-6.5-3.5-5.5-2-4.5-2-10.5z"/>
<path fill="#0020ff" d="M202 61l7.5-1 6-.5 7.5 1 6 2 6 3.5 5.5 5.5-.5 3-1.5 3-6.5 4.5-8.5 4.5-33.5 15-21 9-9 3-3 .5-3-.5-3-1.5-.5-1.5 .5-4.5 .5-4.5 1-4.5 4-7.5 6-7.5 8-7 9-5.5 12-5.5zM289.5 94l1-1 1.5 0 5 1 22 9 39.5 18 5 3 1 1.5 1 1.5-1.5 1.5-6.5 3-7 1-7.5-.5-7.5-1.5-7.5-2-6-2-6-3-6-4-7.5-5.5-4.5-4-3.5-4-2-3zM414 149.5l1-1 1.5 0 9 1.5 6 2.5 6 4.5 6 6 4.5 6 5 9 4 9 3 9 2 9 1 9 0 7.5-1.5 7.5-2 6-5 7.5-2 2-1.5 .5-3-1-1.5-1-3-4-6-13-9-23-10.5-27.5-4.5-13.5-1-5 0-3 .5-3zM129.5 164.5l1 0 1 1 3 7 1 7-.5 7.5-1 7.5-1.5 7.5-2.5 8-3 7-3 6-9 12.5-6 6-9 4-1.5-1.5 0-3 6-18 19.5-49.5 3-6.5 1.5-1.5zM79 298l3 .5 1.5 1 1.5 2 3 5 7.5 17 13.5 35 6 16.5 3 10 0 3 0 3-1.5 2.5-1.5 1-7.5-1-4.5-1-6-3-6-5-5-5.5-5-7.5-4-7.5-4-9-2.5-9-2-9-1-7.5 0-7.5 1.5-7.5 2-6 3.5-6zM429 298l1-.5 1.5 .5 0 4.5-4.5 14.5-19.5 50-4.5 9.5-1.5 1.5-1.5 .5-1-1-3-7.5-1-7.5 1.5-13.5 1.5-7.5 2-7.5 3-7 3-6 8.5-12.5 6.5-6.5zM172 412l3-1 4.5-.5 12 1.5 12 3 10.5 4.5 10.5 7 6 5 4.5 4.5 3 4.5 3 7.5-.5 1.5-2.5 .5-3-.5-8.5-3-31-13.5-25.5-12-4-3-1-1.5 .5-1.5zM368.5 430l4.5-1 3 .5 2 .5 1.5 1.5 .5 3-1 6-1.5 6.5-4.5 8-5.5 6.5-8 6.5-9 5.5-9 4.5-9 3-9 2-9 .5-7.5-1-6-2-4.5-3-6.5-5.5 0-1.5 0-1.5 1.5-3 3.5-3 5-3 15.5-7.5 30.5-13.5 14.5-6z"/>
<path fill="#ef0000" d="M307.5 65.5l10-.5 6 0 6 1 12 4 12 6.5 9 7 4.5 4.5 3.5 4.5 2.5 4.5 1 3 2 7.5 .5 1.5-.5 1-3 1.5-3 0-4.5-1-8.5-3-38-16.5-12.5-6-8-4.5-3.5-3-1.5-3 0-1.5 3-2.5 4.5-2.5zM230.5 95.5l6-1.5 1.5 .5 1 1-3 7.5-2 3-4 4.5-5.5 4.5-7.5 5-6 3.5-12 4.5-9 2-6 1-7.5-.5-9-3.5 0-1.5 1-1.5 2-1.5 5.5-3 29-13.5zM113 152.5l2 .5 1 2.5 0 3-1 6-4.5 13.5-12 31.5-9 21.5-4.5 7.5-1.5 1.5-3 1.5-2-2-4-7.5-1-4.5-1-6 0-7.5 .5-8 1.5-7.5 2.5-8.5 3.5-7.5 4-7.5 4-6 5-6 5-4.5 4.5-3zM399.5 167.5l.5-.5 1.5 0 3 3.5 9 21 15 40 2 8 0 1.5-.5 2-9-3.5-4.5-4.5-7.5-10.5-6-12-4-12-2.5-15 0-9zM100 301l0-1 1.5 0 7.5 3.5 4.5 4 4 5.5 4 6 3 6 3.5 7.5 4 13.5 2 13.5-.5 7.5-3.5 9.5-1.5-.5-3-4.5-9-21-15-40-1.5-5zM447.5 302.5l2-1 1.5 .5 1 2 4 7.5 1.5 7.5 .5 7.5-.5 9-1.5 7.5-2.5 9-3 7.5-4 8-3.5 5.5-5.5 6.5-4.5 4-4.5 3-6 2.5-6 1.5-1-1-1-1.5 0-4.5 2-8.5 3-9 10.5-27.5 9-22 4.5-9.5 1.5-2zM347.5 412l6 0 9 4 .5 .5-.5 1.5-3.5 3-25 12-31.5 13.5-7.5 2.5-1.5 0-2-1 3.5-9 2-3 6.5-6 8-6 7.5-4 9-4 10.5-2.5zM157 431.5l3 0 3 .5 12 4 24 10.5 23 10.5 8 4.5 4.5 3 2 3 .5 1.5-.5 1.5-4.5 3-6 3-4.5 1-6 .5-7.5 0-7.5-1.5-7.5-2-7.5-3-7-4-6.5-4.5-6.5-6-5-6-3.5-6-3-10.5 0-1.5z"/>
<path fill="#0010ff" d="M203 62.5l8-1 6 0 6 1 6 2 4.5 2.5 5.5 4.5 .5 1.5-.5 1.5-1.5 3-4 3-11 6-26.5 12-24.5 10.5-8.5 3-4.5 1-3 0-3-1.5-.5-1 0-3 1-6 1.5-4.5 4-7.5 6.5-7.5 7-6 10.5-6 10.5-4.5zM291.5 95.5l.5-1 1.5-.5 6.5 1.5 25 10.5 32.5 15 4 3 1.5 1.5 0 1.5-8 3.5-3 .5-4.5 0-12-2-7.5-2-6-2.5-12-6.5-6-4.5-4.5-4-4.5-5zM414.5 151l.5-1 1.5 0 9 1.5 5 2.5 6 4.5 5.5 5.5 5 6.5 4 7.5 4 9 3 9 2 7.5 1 9 0 7.5-1 7.5-1.5 6-5 7.5-2.5 3-3-1-1.5-1-3-4.5-4.5-9-6-15-12-31-6-17-2-8.5 0-3zM128 167.5l2-1 .5 1 3 7.5 .5 6 0 6-1.5 7.5-1.5 7.5-2.5 7.5-3.5 7.5-3 6-4.5 7.5-4 5-4.5 4-7.5 3.5-1.5 0-.5-2 .5-3.5 7.5-21.5 15-38 3-6.5zM78.5 299.5l2 0 3 1.5 3 3.5 6 12.5 9 23 10.5 27.5 4.5 14 1 6.5-1 3-1.5 2-6-.5-6-2-5-2.5-5.5-4.5-4.5-5-4.5-6-4.5-8-3.5-8-3-9-2-9-1-7.5 0-7.5 .5-7.5 2-6 3.5-6zM427 301l3-1 .5 2.5-.5 4.5-3 9-12 32-9 21.5-3 5-1.5 1.5-1.5 0-3.5-9 0-7.5 1.5-12 4-13.5 5-12 8-12 3-3.5 3-3zM178.5 412l8.5 .5 10.5 2 10.5 4 9 4.5 10 7 6.5 6 2 3 3.5 9-2.5 1-1.5-.5-7.5-2-34.5-15-21.5-10.5-3.5-3-.5-1.5 7.5-3.5zM371.5 430l3 0 1.5 .5 2 1 .5 1.5-1 9-3 7.5-4.5 6.5-6.5 7-7 5-9 5.5-7.5 3-9 3-9 2-7.5 0-7.5-1-6-2-7.5-5-1.5-1.5-1-1.5 1-3 2-3 4.5-3 5.5-3 46.5-21 15-6z"/>
<path fill="#df0000" d="M310.5 67l10 0 10.5 1.5 10.5 4 10.5 5.5 9 7 7 7.5 3.5 6 2 6 1 4.5-2.5 1.5-3.5 0-10-3-14.5-6-24-10.5-12.5-6-7.5-4.5-3.5-3-1-1.5-.5-1.5 .5-1.5 8.5-4.5zM228 97l7-1.5 1 1.5-4 9-2.5 3-5.5 4.5-7 4.5-6 3.5-12 5-7.5 2-6 1-6 0-9.5-4 .5-1.5 2-1.5 10.5-6 26.5-12zM108.5 155.5l5-1.5 1.5 3 0 4.5-3 10.5-10.5 28.5-10.5 26-3 6-3 4.5-3 2.5-1.5 0-2.5-4.5-2.5-6-1.5-9 0-6 1-7.5 3-13.5 5.5-12.5 4-7 3.5-4.5 4.5-5.5 4.5-3.5 3-2zM400.5 170.5l1-1 1.5 1 3 4.5 9 21 9 24 4.5 13 1 5-.5 1.5-.5 1-7.5-3.5-4.5-4-6.5-10-6-12-4-13.5-2-12 0-6zM101.5 302.5l1.5 .5 7.5 4 3 2.5 6.5 9.5 6.5 13.5 4 13.5 2 12 0 6-2.5 7.5-1.5 2-3-3.5-3-6-12-30-6-16-3-9.5-.5-4.5zM447.5 304l2-.5 2.5 3.5 3 7.5 1 7.5 .5 7.5-1 7.5-2 9-2.5 7.5-3 7.5-3.5 6-4 6-5.5 6-3.5 3.5-4.5 3-7.5 3-3 0-1-3.5 .5-4.5 2-8.5 4.5-12.5 16.5-42 4.5-9 1.5-2zM346.5 413.5l5.5 .5 7.5 3 1 1-1 1.5-4.5 3-15 7.5-31 13.5-8 3-3 .5-3 0-1-.5 4-9 1-1.5 5-5 7.5-5 7.5-4.5 9-3.5 10.5-3.5zM157 433l4.5-.5 7.5 2 15.5 6 23.5 10.5 12.5 6 8.5 4.5 4 3 2 3 .5 1.5-2 2-7.5 3.5-4.5 1-6 1-6-.5-7.5-1-6-1.5-7.5-3-7.5-4-6-3.5-6-5-5-5.5-4-6-2.5-6-2-6z"/>
<path fill="#0000ff" d="M205 64l6-.5 7.5 0 6 1 4.5 1.5 6 4 2 1.5 1 1.5-1 3-2.5 3-7 4.5-9 4.5-30 13.5-18 7.5-7.5 2.5-4.5 1-3-.5-2-1.5-.5-1.5 1-5 1.5-5.5 1.5-3 4.5-7 7.5-8 7.5-5.5 9.5-5 10-4zM294 97l1-1.5 3 .5 4.5 1 15 6 36 16.5 4.5 3 2 1.5 .5 1.5-8.5 3.5-6 .5-10.5-2-12-4-12-6.5-9-6.5-4-4.5zM415 152.5l1.5-1 9 2 4.5 2 5.5 4.5 6 6 4.5 6 3.5 6.5 4 8.5 3 9 2 8.5 1 8 0 7.5-1 6-1.5 6-3 6-3 4.5-1.5 0-3-2-3-4-4.5-9-4.5-11-12-31-6-16.5-2.5-10.5 0-3zM127.5 170.5l1-1 1 1 2.5 7.5 .5 4.5-1 10.5-4 15-5.5 12-7 11.5-4.5 4.5-9 4.5-.5-2.5 .5-3 6-18 13.5-34.5 4.5-9.5zM79 301l1.5-.5 3 1.5 3 4 4.5 9 6 14 12 31.5 6 17.5 1.5 8.5-.5 3-1 2-3 0-7.5-2-4.5-2.5-4.5-3.5-6-6-4.5-6-4.5-7.5-3.5-7.5-2.5-7.5-2.5-9-1-7.5 0-9 .5-6 1.5-6 3-6zM428 302.5l.5 0 1 1.5-1 6-7.5 21.5-13.5 33.5-3 5.5-1.5 2-1.5 1-3.5-9.5 0-6 1.5-12 4-12 5.5-12 6-10 4.5-5zM180.5 413.5l8 .5 9 2 10.5 4 9 5 7.5 4.5 5.5 5 2.5 3 4 9-1.5 1-3-.5-10.5-3.5-27.5-12-18.5-9-4.5-3-1-1.5 1.5-1.5zM367.5 431.5l5.5-.5 2.5 .5 2 1.5-2 9-2 6-5 7-6 6.5-6 4.5-9 5.5-7.5 3.5-9 3-7.5 1.5-7.5 0-7.5-.5-6-1.5-6-3.5-4-3.5 .5-3 2.5-3 4-3 5.5-3 39.5-18 14.5-6z"/>
<path fill="#cf0000" d="M306.5 70l8-1.5 10.5 1 12 3 10.5 5 9 6 8 7.5 4 6 4.5 10.5-1.5 1.5-4.5 0-10.5-3-28.5-12-21.5-10.5-7-4.5-2.5-3 0-1.5 2.5-1.5zM226.5 98.5l5.5-1 1 1-4.5 9-3 3-3.5 3-12.5 7-12 5-10.5 2-4.5 0-7.5-2.5-2-1 3.5-3 11-6 23-10.5zM109.5 157l2.5-1 1.5 1 .5 3-.5 4.5-3 10-10.5 28.5-9 22-4.5 8.5-2.5 3-2 1-1.5-1-3-7.5-1-4.5-.5-6 1-12 3-13.5 3-7.5 3-6 7-10.5 7-6.5 3.5-2.5zM402.5 173.5l.5-.5 1.5 1.5 3 5.5 10.5 25 7.5 21 2 7.5 0 3-.5 .5-7.5-4-3-2.5-6-9-5.5-12-4-12-1.5-10.5 0-4.5zM448 305.5l1.5 .5 3 7 1.5 6 .5 6 0 6-1 7.5-2 7.5-2 6-2.5 6-3.5 7-4.5 6.5-3.5 4.5-7 6-5.5 3-5 2-1.5-2 0-4.5 3-11 4.5-13 10.5-27 6-13.5 4.5-8zM102.5 307l.5-1 1.5 .5 6 3 3 2.5 3 4 3 5 6 13 4 12 1.5 10.5-.5 4.5-2 7.5-1.5 1-3-4.5-3-6-9-22-7.5-21-1.5-6zM337 416.5l7.5-1 4.5 0 7.5 3 .5 1-1.5 1.5-5 3-8.5 4.5-27 12-12.5 4.5-3 .5-2-.5 4-9 2.5-3 4-3 7-4.5 7-3.5 7.5-3zM158 434.5l2-1 3 .5 8.5 2 15 6 20.5 9 12.5 6 8 4.5 4 3 1 1.5 1 1.5-.5 1.5-4 2-6 2.5-4.5 .5-4.5 .5-6-.5-7.5-1.5-12-4-6-3-6-4-5.5-4.5-4.5-4.5-3.5-4.5-1.5-3-3.5-7.5z"/>
<path fill="#0000ef" d="M208 65.5l7.5-.5 6 .5 4.5 1.5 4.5 2 6 4 0 1.5-.5 1.5-2.5 3-7.5 4.5-8.5 4.5-41 18-13.5 5-4.5 .5-3-1-1-1.5 0-1.5 2-7.5 2-4 4.5-6.5 7.5-7.5 8-6 10-5 10.5-4zM297.5 98.5l.5-1 4.5 .5 13.5 5 30 13.5 8 4.5 3 3-.5 .5-7.5 3-4.5 0-9-1.5-10.5-3.5-12-6-8-6-4-4.5zM415.5 154l1-1 1.5 0 7.5 2.5 4.5 2 4.5 4 5.5 6 4.5 6 4.5 7.5 3 7.5 3 9 2 7.5 .5 7.5 0 7.5-.5 6-1.5 5.5-4 8-2 1.5-3-2-3-3.5-4.5-9.5-7.5-18-10.5-27.5-4.5-13.5-2-8.5zM127 173.5l1 0 .5 1 2.5 8 0 3-1 9-4 13.5-5 11-6 10-3 3.5-9 4.5-.5-2 1-4.5 5.5-16.5 12-30 3-6zM80 302.5l.5-.5 3 1.5 1.5 1.5 3 4.5 7.5 17 10.5 27 6 16.5 3 10.5 .5 6-.5 2.5-1.5 1-4.5-1-6-2-4.5-3-4.5-4-4.5-5.5-4.5-6-4-7.5-3-7.5-2.5-7.5-2-7.5-.5-7.5-.5-7.5 1-6 1-4.5 2.5-6zM425 307l2-1 .5 1 0 1.5-.5 3.5-3 9.5-13.5 35-4.5 9.5-3 4-1-1.5-2.5-7.5 0-4.5 1.5-9 3-10.5 5-12 6-10.5 4.5-4.5zM179.5 416.5l4.5-1.5 7.5 1 10.5 3 10.5 5 10 6 5 4.5 1.5 1.5 4 9-1 .5-3-.5-9.5-3-14.5-6-22.5-10.5-5.5-3-3.5-3 1-1.5zM364.5 433l7-1.5 4 1.5 .5 1.5-1 3-3 9-3.5 6-6 6.5-7 5.5-8 5-7.5 3.5-7.5 2.5-7.5 1.5-7.5 1-6-.5-6-1-4.5-2-6.5-4-.5-1.5 1-3 1.5-1.5 4-3 5.5-3 32.5-15 18-7.5z"/>
<path fill="#bf0000" d="M309 71.5l8.5-1 10.5 1.5 9 3 10.5 5 9 6 6.5 6.5 2.5 3.5 3 5.5 2 4.5 0 1.5-2 .5-4.5-.5-10-3-28-12-18-9-6.5-4.5-2.5-3 .5-1 1.5-1zM225.5 100l3 0-4 9-5.5 4.5-10.5 6-11 4-8 2-3 0-8.5-3 1-1.5 2-1.5 14.5-7.5 17-7.5zM111.5 158.5l.5 0 .5 3-.5 6-3 9.5-7.5 20.5-7.5 19-4.5 10-4.5 7-1.5 1.5-1.5 0-2-4.5-1.5-6-.5-9 .5-6 1-7.5 4-12 6-12 6.5-9 3-3 4-3 5-3zM404.5 178l1.5 1.5 3 5.5 7.5 18 7.5 21 1.5 6.5 0 1.5-7.5-3.5-3-3-4.5-7.5-4.5-10-3-9.5-1.5-8.5 0-3zM446.5 308.5l1.5-1 1.5 2.5 2.5 9 .5 6 0 6-1 7.5-2 7.5-2 6-6 12-3.5 6-4 4.5-4 4-5.5 3.5-5 2.5-1.5-.5 0-5 1.5-7.5 7.5-21 12-30 4.5-8.5zM105.5 311.5l.5-.5 7.5 4.5 1.5 1.5 4.5 7 4.5 10 3 9 2 10.5-.5 4-2 6.5-1 1-3-5-3-6.5-7.5-18.5-6-17.5-1-4.5zM338 418l5-.5 2.5 .5 6.5 2.5 .5 .5-1.5 1.5-11 6-19.5 9-12 4.5-6 1-.5-1 4-7.5 4.5-4.5 7.5-4.5 6-3 8-3zM159.5 436l2-1 1.5 0 6 1 8.5 3 14.5 6 20 9 11.5 6 6 4.5 1.5 1.5 .5 1.5-2.5 1.5-6 2-4.5 1-4.5 .5-6-.5-6-1-6-2-6-2.5-6-2.5-6-4-9-7.5-4.5-6-3-5.5z"/>
<path fill="#0000df" d="M213.5 67l6.5 .5 4.5 1 9.5 4.5 1 1.5-.5 1.5-2.5 3-2 1.5-8 4.5-12.5 6-34.5 15-8 3-5.5 1-3 0-2.5-1 0-1.5 2-6 3.5-7.5 6-7 7.5-6.5 9-5.5 10.5-4.5 10.5-2.5zM302 100l2 0 6 1.5 18.5 7.5 18.5 9 4.5 3 1 1.5-8 3-3 0-7.5-1.5-12-4.5-8.5-4.5-6-4.5-2-3zM416.5 155.5l1.5-1 7.5 3 4.5 2.5 4.5 4 4.5 5 4.5 6 3.5 6 3.5 7.5 2.5 7.5 1.5 7.5 1.5 7.5 0 7.5-.5 6-1 4.5-3 7.5-2 2.5-3-1.5-3-3.5-4.5-9-6-14.5-9-23.5-6-17-2-8.5-.5-3zM124.5 179.5l1-1.5 1 1.5 2.5 9-.5 6-3 10.5-4.5 11-6 10-1.5 1.5-7.5 4.5-1-1.5 .5-3 3.5-11.5 9-23 4.5-10zM80.5 304l1.5 0 1.5 1 3 3.5 4.5 8.5 7.5 18.5 10.5 27.5 4.5 13.5 1 7 0 3-1 2-3-.5-7.5-3.5-4-2.5-3.5-3-5-6-4-6-3.5-6-3.5-7.5-2-7.5-2-7.5-1-7.5 0-6 .5-6 1-4.5 2-6zM423.5 311.5l2-.5 0 1.5-1.5 6.5-3 9-10.5 26.5-3 6.5-3 4-3-8.5 0-3 1.5-9 3-9 4.5-10.5 4.5-7.5 3-3zM185 418l2-.5 3 0 6 1.5 6.5 2 10 4.5 7 4.5 4 3 1 1.5 3.5 7.5-.5 1-1.5 0-8.5-2.5-17.5-7.5-15.5-7.5-6.5-4.5 1.5-1zM367.5 433l4.5 0 2.5 1.5-2.5 7.5-2.5 6-4 5-6 6-7.5 5.5-7.5 4.5-7.5 3-7.5 2.5-7.5 1-6 .5-6-.5-4.5-1-7.5-3.5-2.5-2 1-3 3-3 10.5-6 40-18 12-4.5z"/>
<path fill="#af0000" d="M316 73l7.5 .5 9 2 9 3.5 7.5 4 6.5 5 4.5 4.5 5.5 7.5 2.5 6-2.5 .5-4.5-.5-12.5-4.5-27-12-14.5-7.5-5-4.5 0-1.5 6.5-2zM220.5 103l1.5 0-.5 1.5-4.5 7.5-4 3-5.5 3-8 3-5 1-3 0-7-2.5 4.5-3 8.5-4.5 14-6zM109.5 161.5l1-.5 .5 2-.5 6-1.5 6-4.5 13-7.5 19.5-6 14-4.5 8-3 3-1-2-1.5-4.5-1-10.5 1-10.5 3.5-12 5-11.5 6-8.5 5-5.5zM407.5 185.5l3 5.5 6 14.5 4.5 12.5 1.5 7-7.5-4-1.5-2-3-5-3-7-1.5-5-1.5-7.5 2-7.5zM445.5 311.5l1-1 1.5 1.5 1.5 7 1 7.5-1 12-3.5 12-5.5 11.5-6 8.5-3 3.5-4.5 3.5-4.5 3-3 1.5 0-4.5 1.5-7.5 6-18 12-29.5 3-6zM108.5 319l.5-.5 7.5 5 3 4.5 3 7 3 9.5 .5 3-.5 3-1.5 6-1.5 .5-4.5-9-7.5-19.5-1.5-5zM334.5 421l3.5 0 6.5 2 1 1-2 1.5-12 6-14 6-6 2-1.5 0-1-.5 4-7.5 1.5-1.5 4.5-3 6-3zM162.5 437.5l.5-1 1.5 0 6 1 9 3 10.5 4.5 17 7.5 12 6 7 4.5 3 3-1.5 1.5-4.5 1-6 1.5-4.5 0-10.5-1.5-10.5-3.5-10.5-5.5-9-7-5.5-7.5z"/>
<path fill="#0000cf" d="M203.5 70l6-1 6 0 4.5 .5 4.5 1 6 2.5 2.5 1.5 0 1.5-2.5 3-7 4.5-8.5 4.5-34 15-11.5 4.5-5 1.5-4.5 0-1.5-.5-.5-1 .5-2 4.5-10 3-4.5 6-5.5 7.5-5.5 7.5-4.5 9-3.5zM308.5 103l1.5 0 5 1.5 11 4.5 13 6 7 4.5-9 2.5-6-1-4.5-1.5-9-4.5-4-3zM417.5 157l.5-.5 1.5 .5 7 3 3.5 2.5 4 3.5 4 4.5 4 5.5 3.5 6.5 3 6 4 13.5 1.5 7.5 .5 6-.5 6-.5 4.5-4 10.5-1.5 .5-2.5-2-2-2.5-4.5-9-4.5-10.5-9-23-6-17-2.5-11.5 0-3zM122 187l.5-1 1.5 .5 2 8-.5 3.5-1.5 6-3 8-4.5 7.5-7.5 5.5-.5-2 0-1.5 2-7 7.5-19.5zM80.5 307l1.5-1.5 2 1.5 2.5 3 4.5 8.5 7.5 18 9 24 4.5 13 1.5 8.5 0 3-1.5 1.5-4.5-2-6-3-6-5-4-5-4-6-6-12-4-13.5-1-7.5-.5-6 1-9zM420.5 319l2-1-1.5 7-7.5 20-3 7-3 5.5-1-1-2-7.5 1.5-8.5 3-8.5 4.5-8 1.5-2zM192 421l4 0 5.5 1.5 7 3 5.5 3 3.5 3 4 8-1.5 0-1.5 0-5.5-2-14-6-12-6-2-1.5 .5-1zM364.5 434.5l4-.5 3.5 .5 .5 1.5-.5 1.5-4 9-4 5.5-4.5 4.5-6 5-7.5 4.5-6.5 3-7 2.5-7.5 2-6 .5-6 0-4.5-.5-6-2-4.5-2.5-1-1.5 2.5-3 4-3 5-3 12.5-6 23.5-10.5 11-4.5z"/>
<path fill="#9f0000" d="M313.5 76l7-.5 7.5 1.5 7.5 2 9 4 7 5 5 4.5 6 7.5 2.5 4.5-2.5 0-4.5-.5-11-4-17.5-7.5-15-7.5-5-3-4-3 0-1.5zM107 166l2-1.5 .5 1.5 0 3-2 7.5-3 9-12 30.5-4.5 9-3 4-1-1.5-.5-3-1-12 1-8.5 2.5-9.5 3.5-8 4.5-8 5.5-6.5zM445 314.5l1.5 1 .5 2 .5 6 .5 7.5-1.5 10-3 9.5-4.5 9.5-4.5 7-7.5 7.5-4.5 3-1.5 .5 0-3.5 1.5-6.5 6-18 9-22 4.5-9zM165.5 439l2-.5 6 1 18 7 22.5 10.5 8 4.5 3.5 3-1 1-4.5 1-10.5 .5-8-1-9-3-8.5-4.5-6.5-4.5-7-7.5z"/>
<path fill="#0000bf" d="M206.5 71.5l6-.5 6 0 10.5 3 1.5 1 .5 1-.5 1.5-3.5 3-7.5 4.5-9 4.5-31 13.5-8 3-5.5 1.5-3 .5-2.5-.5-.5-1.5 1.5-3 4.5-8.5 4-5 5.5-4.5 7-5 7.5-3.5 9-3.5zM418 160l1.5-1 2.5 1 6.5 4 4.5 3.5 4.5 5.5 3.5 5 6 12 2.5 7.5 1.5 6 1.5 12-1 9-2 7.5-1.5 3-1.5-.5-1.5-2-3-4.5-9-20.5-12-32-2.5-9.5zM82 308.5l1.5 0 4.5 5.5 4.5 9.5 4.5 11 9 23.5 4.5 13 2 8 0 3-.5 2-2.5-.5-5.5-3-4-2.5-3.5-3.5-7-9.5-6-11.5-3.5-12-1.5-7.5-.5-6 .5-9zM362 436l5-1 1.5 0 2 1-1.5 4.5-3.5 6.5-3 4-4.5 4.5-6 4.5-7.5 4.5-12 5-6 1.5-7.5 1-4.5 0-4.5-.5-7.5-2.5-3.5-1.5 .5-1.5 3.5-3 10-6 33-15z"/>
<path fill="#8f0000" d="M313.5 79l5.5 0 7.5 .5 6 1.5 6.5 2.5 5.5 3 6 4.5 6 6 3.5 4.5-.5 .5-1.5 .5-7.5-2.5-11.5-4.5-15.5-7-9.5-5-4-3 1.5-1zM106 170.5l1.5-.5 0 2-1.5 6-4.5 13-9 22.5-3 6-3 4.5-.5-1-.5-4.5 0-9 1.5-7.5 2.5-9 3-6.5 3.5-5.5 5-6zM443 320.5l.5-1.5 1 1.5 .5 9-1 9-2 9-3 6.5-4 7-5 6.5-6 5.5-1-1.5 1-4.5 4.5-14 9-22.5 3-6.5zM170 440.5l2 0 5.5 1.5 18.5 7.5 18.5 9 5 3 1.5 1.5-1 .5-4.5 .5-7.5 0-7.5-1.5-8-2.5-5.5-3-7.5-5.5-6-6-3-3.5z"/>
<path fill="#0000af" d="M212.5 73l7.5 1 8 2 .5 1.5-5.5 4.5-14 7.5-27.5 12-12.5 4-4.5 1-2-.5 2-5 6-8.5 4.5-4.5 6-4.5 7.5-4 8-3.5 8.5-2zM419.5 161.5l1.5 0 4.5 3 6 4.5 3 3.5 6 8.5 5 10.5 3.5 12 1.5 10.5-.5 6-1 6-1 4.5-1.5 1.5-3-3.5-4.5-8.5-10.5-25.5-7.5-21.5-1.5-7zM83 311.5l.5-1 1.5 1.5 4.5 7 9 20.5 10.5 29 2 9 0 3-.5 1-7-4-7-6-6.5-9-5-10.5-3-10.5-2-12 .5-9zM360.5 437.5l5-1 1.5 0 1 1-2 4.5-3.5 5.5-3 3.5-4.5 4.5-6 4.5-6 3-10.5 4.5-6 1.5-6 1-4.5 0-6-1-6.5-1.5-1.5-1.5 2.5-3 4-2.5 12-6.5 27-12z"/>
<path fill="#800000" d="M317 83.5l.5-.5 1.5-.5 6 1 6 1 5 2 8.5 4.5 5.5 4.5 3 3-1 .5-2.5-.5-8-3-16.5-7.5zM102 179.5l1-1 .5 1-.5 4-1.5 4.5-7.5 19.5-4.5 8.5-.5-2 .5-6 1.5-7.5 1.5-4.5 4-9zM440.5 328l0-.5 .5 .5 0 6-1.5 7.5-1.5 6-5 9.5-6 8-.5-1 .5-3 3-9 6-15.5zM178 445l1.5-.5 1.5 0 9 3.5 16.5 7.5 5.5 3 .5 1 1 .5-2.5 .5-6-1-5-1-5.5-2-7.5-4-6-4.5z"/>
<path fill="#00009f" d="M206 76l8-.5 9 1.5 2 .5 0 1.5-2 1.5-4.5 3-8.5 4.5-23 10.5-13.5 5-4.5 1-3.5 0 2-4 4.5-6 3-3.5 5.5-4.5 5-3 7.5-4 6-2zM421 166l0-1.5 3 2 4.5 3.5 4.5 4.5 6 8 4.5 9.5 3 10 1.5 10.5-1 12-.5 3-1.5 1-3-4.5-3-6-7.5-17.5-8.5-24-2-7.5zM84.5 314.5l.5-.5 1.5 2 4.5 8 9 21.5 8 23 1.5 6 0 3-.5 1-7.5-5.5-6-6.5-4.5-7-4.5-10-3-9.5-1-9 .5-10.5 1-4.5zM359 439l3.5-.5 1.5 0 1 .5-5.5 8-4.5 5-4 3.5-9.5 6-10.5 4-9 2-6 0-6-1-3-.5-1.5-1-.5-.5 6-4.5 14.5-7.5 20.5-9z"/>
<path fill="#00008f" d="M206.5 79l6-.5 6 .5 1.5 .5 .5 1-1.5 1.5-11 6-20 9-12 4.5-4 1-1.5-.5-.5-.5 .5-.5 4.5-5.5 4.5-4.5 6-4.5 9-4.5 4.5-1.5zM423 170.5l1-.5 1.5 1 4 4 4 4.5 4 6 4 9 2.5 7.5 1 9 0 9-.5 3-1 1-4.5-8-7.5-18-7.5-21.5zM86 319l.5-.5 1.5 2 3 5.5 7.5 18 7.5 21.5 1.5 6 0 2-1.5-.5-3-2.5-5.5-6.5-5-7-3-6.5-3-9-1-7.5-.5-9zM358 440.5l2.5 0-1.5 3-4 4.5-8.5 7.5-8 4.5-7.5 2.5-7.5 1.5-9 .5-4.5-1-.5-.5 1.5-1.5 4.5-3 12-6 18.5-8z"/>
</g></g></g>
<g fill="none" stroke="#000" stroke-width="1">
<path d="M341.6 359.5A113.7 121.2 0 1 1 348.0 352.5"/>
<path d="M371.9 390.5A155.3 166.3 0 1 1 379.2 382.3"/>
<path d="M406.8 207.5L262.8 271.1L406.9 334.8"/>
</g>
<g fill="#000">
<polygon points="281.8,140.2 262.0,140.2 262.0,138.4 251.5,142.6 262.0,146.8 262.0,145.0 281.8,145.0"/>
<polygon points="332.2,171.2 345.8,185.5 344.5,186.7 354.8,191.4 350.6,180.9 349.3,182.1 335.6,167.8"/>
<polygon points="385.0,287.8 385.0,266.5 386.8,266.5 382.6,256.0 378.4,266.5 380.2,266.5 380.2,287.8"/>
<polygon points="360.9,350.2 346.5,364.3 345.3,363.0 340.7,373.4 351.1,369.0 349.9,367.8 364.3,353.6"/>
<polygon points="246.0,407.9 265.9,407.9 265.9,409.7 276.4,405.5 265.9,401.3 265.9,403.1 246.0,403.1"/>
<polygon points="184.8,380.2 171.0,365.4 172.3,364.1 162.1,359.3 166.2,369.9 167.5,368.6 181.2,383.4"/>
<polygon points="132.5,254.0 132.5,275.2 130.7,275.2 134.9,285.7 139.1,275.2 137.3,275.2 137.3,254.0"/>
<polygon points="165.7,194.0 180.0,179.7 181.2,181.0 185.7,170.6 175.3,175.1 176.6,176.3 162.3,190.6"/>
</g>
<g stroke="#000" stroke-width="1.2" fill="none">
<path d="M490 27V512.6M483.5 88.3H490M483.5 148.9H490M483.5 209.5H490M483.5 270.1H490M483.5 330.7H490M483.5 391.3H490M483.5 451.9H490M483.5 512.5H490M489.6 27V33"/>
</g>
<g shape-rendering="crispEdges">
<rect x="508.5" y="506.88" width="32" height="7.92" fill="#00008f"/>
<rect x="508.5" y="499.25" width="32" height="7.92" fill="#00009f"/>
<rect x="508.5" y="491.62" width="32" height="7.92" fill="#0000af"/>
<rect x="508.5" y="484.00" width="32" height="7.92" fill="#0000bf"/>
<rect x="508.5" y="476.38" width="32" height="7.92" fill="#0000cf"/>
<rect x="508.5" y="468.75" width="32" height="7.92" fill="#0000df"/>
<rect x="508.5" y="461.12" width="32" height="7.92" fill="#0000ef"/>
<rect x="508.5" y="453.50" width="32" height="7.92" fill="#0000ff"/>
<rect x="508.5" y="445.88" width="32" height="7.92" fill="#0010ff"/>
<rect x="508.5" y="438.25" width="32" height="7.92" fill="#0020ff"/>
<rect x="508.5" y="430.62" width="32" height="7.92" fill="#0030ff"/>
<rect x="508.5" y="423.00" width="32" height="7.92" fill="#0040ff"/>
<rect x="508.5" y="415.38" width="32" height="7.92" fill="#0050ff"/>
<rect x="508.5" y="407.75" width="32" height="7.92" fill="#0060ff"/>
<rect x="508.5" y="400.12" width="32" height="7.92" fill="#0070ff"/>
<rect x="508.5" y="392.50" width="32" height="7.92" fill="#0080ff"/>
<rect x="508.5" y="384.88" width="32" height="7.92" fill="#008fff"/>
<rect x="508.5" y="377.25" width="32" height="7.92" fill="#009fff"/>
<rect x="508.5" y="369.62" width="32" height="7.92" fill="#00afff"/>
<rect x="508.5" y="362.00" width="32" height="7.92" fill="#00bfff"/>
<rect x="508.5" y="354.38" width="32" height="7.92" fill="#00cfff"/>
<rect x="508.5" y="346.75" width="32" height="7.92" fill="#00dfff"/>
<rect x="508.5" y="339.12" width="32" height="7.92" fill="#00efff"/>
<rect x="508.5" y="331.50" width="32" height="7.92" fill="#00ffff"/>
<rect x="508.5" y="323.88" width="32" height="7.92" fill="#10ffef"/>
<rect x="508.5" y="316.25" width="32" height="7.92" fill="#20ffdf"/>
<rect x="508.5" y="308.62" width="32" height="7.92" fill="#30ffcf"/>
<rect x="508.5" y="301.00" width="32" height="7.92" fill="#40ffbf"/>
<rect x="508.5" y="293.38" width="32" height="7.92" fill="#50ffaf"/>
<rect x="508.5" y="285.75" width="32" height="7.92" fill="#60ff9f"/>
<rect x="508.5" y="278.12" width="32" height="7.92" fill="#70ff8f"/>
<rect x="508.5" y="270.50" width="32" height="7.92" fill="#80ff80"/>
<rect x="508.5" y="262.88" width="32" height="7.92" fill="#8fff70"/>
<rect x="508.5" y="255.25" width="32" height="7.92" fill="#9fff60"/>
<rect x="508.5" y="247.62" width="32" height="7.92" fill="#afff50"/>
<rect x="508.5" y="240.00" width="32" height="7.92" fill="#bfff40"/>
<rect x="508.5" y="232.38" width="32" height="7.92" fill="#cfff30"/>
<rect x="508.5" y="224.75" width="32" height="7.92" fill="#dfff20"/>
<rect x="508.5" y="217.12" width="32" height="7.92" fill="#efff10"/>
<rect x="508.5" y="209.50" width="32" height="7.92" fill="#ffff00"/>
<rect x="508.5" y="201.88" width="32" height="7.92" fill="#ffef00"/>
<rect x="508.5" y="194.25" width="32" height="7.92" fill="#ffdf00"/>
<rect x="508.5" y="186.62" width="32" height="7.92" fill="#ffcf00"/>
<rect x="508.5" y="179.00" width="32" height="7.92" fill="#ffbf00"/>
<rect x="508.5" y="171.38" width="32" height="7.92" fill="#ffaf00"/>
<rect x="508.5" y="163.75" width="32" height="7.92" fill="#ff9f00"/>
<rect x="508.5" y="156.12" width="32" height="7.92" fill="#ff8f00"/>
<rect x="508.5" y="148.50" width="32" height="7.92" fill="#ff8000"/>
<rect x="508.5" y="140.88" width="32" height="7.92" fill="#ff7000"/>
<rect x="508.5" y="133.25" width="32" height="7.92" fill="#ff6000"/>
<rect x="508.5" y="125.62" width="32" height="7.92" fill="#ff5000"/>
<rect x="508.5" y="118.00" width="32" height="7.92" fill="#ff4000"/>
<rect x="508.5" y="110.38" width="32" height="7.92" fill="#ff3000"/>
<rect x="508.5" y="102.75" width="32" height="7.92" fill="#ff2000"/>
<rect x="508.5" y="95.12" width="32" height="7.92" fill="#ff1000"/>
<rect x="508.5" y="87.50" width="32" height="7.92" fill="#ff0000"/>
<rect x="508.5" y="79.88" width="32" height="7.92" fill="#ef0000"/>
<rect x="508.5" y="72.25" width="32" height="7.92" fill="#df0000"/>
<rect x="508.5" y="64.62" width="32" height="7.92" fill="#cf0000"/>
<rect x="508.5" y="57.00" width="32" height="7.92" fill="#bf0000"/>
<rect x="508.5" y="49.38" width="32" height="7.92" fill="#af0000"/>
<rect x="508.5" y="41.75" width="32" height="7.92" fill="#9f0000"/>
<rect x="508.5" y="34.12" width="32" height="7.92" fill="#8f0000"/>
<rect x="508.5" y="26.50" width="32" height="7.92" fill="#800000"/>
</g>
<rect x="508.5" y="26.5" width="32" height="488" fill="none" stroke="#111" stroke-width="1"/>
<path d="M508.5 113.6h6M540.5 113.6h-6M508.5 192.0h6M540.5 192.0h-6M508.5 270.4h6M540.5 270.4h-6M508.5 348.8h6M540.5 348.8h-6M508.5 427.2h6M540.5 427.2h-6M508.5 505.6h6M540.5 505.6h-6" stroke="#000" stroke-width="1" fill="none"/>
<text transform="translate(548.82 119.10) scale(0.985 1)" font-size="19.5">4</text>
<text transform="translate(548.13 197.50) scale(1.093 1)" font-size="19.5">2</text>
<text transform="translate(548.49 275.90) scale(1.036 1)" font-size="19.5">0</text>
<text transform="translate(549.10 354.30) scale(1.019 1)" font-size="19.5">-2</text>
<text transform="translate(549.12 432.70) scale(0.995 1)" font-size="19.5">-4</text>
<text transform="translate(549.11 511.10) scale(1.013 1)" font-size="19.5">-6</text>
<text transform="translate(556.51 31.70) scale(1.032 1)" font-size="20.5">Bz</text>
<text transform="translate(562.64 85.40) scale(1.064 1)" font-size="24" font-weight="bold">T</text>
<text transform="translate(581.50 86.60) scale(1.042 1)" font-size="19">x</text>
<text transform="translate(596.99 86.60) scale(1.005 1)" font-size="20">10</text>
<text transform="translate(621.87 77.80) scale(1.109 1)" font-size="16.4">-4</text>
<text transform="translate(-1.21 19.00) scale(1.079 1)" font-size="26.5" font-weight="bold">a)</text>
<text transform="translate(-1.86 559.00) scale(1.082 1)" font-size="26.5" font-weight="bold">b)</text>
<rect x="35.5" y="564.5" width="481" height="403" fill="none" stroke="#000" stroke-width="1"/>
<path d="M96 564.5v5M96 967.5v-5M156 564.5v5M156 967.5v-5M216 564.5v5M216 967.5v-5M276 564.5v5M276 967.5v-5M336 564.5v5M336 967.5v-5M396 564.5v5M396 967.5v-5M456 564.5v5M456 967.5v-5M35.5 631.2h5M516.5 631.2h-5M35.5 698.4h5M516.5 698.4h-5M35.5 766.3h5M516.5 766.3h-5M35.5 832.5h5M516.5 832.5h-5M35.5 898.5h5M516.5 898.5h-5" stroke="#000" stroke-width="1" fill="none"/>
<polyline points="36.0,829.6 37.5,829.6 39.0,829.4 40.5,829.1 42.0,828.7 43.5,828.1 45.0,827.5 46.5,826.7 48.0,825.8 49.5,824.8 51.0,823.6 52.5,822.4 54.0,821.0 55.5,819.6 57.0,818.0 58.5,816.3 60.0,814.6 61.5,812.7 63.0,810.8 64.5,808.7 66.0,806.6 67.5,804.4 69.0,802.1 70.5,799.7 72.0,797.3 73.5,794.8 75.0,792.3 76.5,789.7 78.0,787.0 79.5,784.4 81.0,781.6 82.5,778.9 84.0,776.1 85.5,773.3 87.0,770.5 88.5,767.6 90.0,764.8 91.5,762.0 93.0,759.1 94.5,756.3 96.0,753.5 97.5,750.7 99.0,747.9 100.5,745.2 102.0,742.5 103.5,739.9 105.0,737.3 106.5,734.7 108.0,732.2 109.5,729.8 111.0,727.5 112.5,725.2 114.0,723.0 115.5,720.8 117.0,718.8 118.5,716.8 120.0,714.9 121.5,713.2 123.0,711.5 124.5,709.9 126.0,708.4 127.5,707.1 129.0,705.8 130.5,704.7 132.0,703.7 133.5,702.8 135.0,702.0 136.5,701.3 138.0,700.8 139.5,700.3 141.0,700.0 142.5,699.9 144.0,699.8 145.5,699.9 147.0,700.1 148.5,700.4 150.0,700.8 151.5,701.4 153.0,702.1 154.5,702.9 156.0,703.8 157.5,704.8 159.0,706.0 160.5,707.3 162.0,708.6 163.5,710.1 165.0,711.7 166.5,713.4 168.0,715.2 169.5,717.1 171.0,719.0 172.5,721.1 174.0,723.2 175.5,725.5 177.0,727.8 178.5,730.1 180.0,732.6 181.5,735.1 183.0,737.6 184.5,740.2 186.0,742.9 187.5,745.6 189.0,748.3 190.5,751.1 192.0,753.9 193.5,756.7 195.0,759.5 196.5,762.3 198.0,765.2 199.5,768.0 201.0,770.8 202.5,773.7 204.0,776.5 205.5,779.2 207.0,782.0 208.5,784.7 210.0,787.4 211.5,790.0 213.0,792.6 214.5,795.2 216.0,797.6 217.5,800.1 219.0,802.4 220.5,804.7 222.0,806.9 223.5,809.0 225.0,811.0 226.5,813.0 228.0,814.8 229.5,816.6 231.0,818.2 232.5,819.8 234.0,821.2 235.5,822.6 237.0,823.8 238.5,824.9 240.0,825.9 241.5,826.8 243.0,827.6 244.5,828.2 246.0,828.7 247.5,829.1 249.0,829.4 250.5,829.6 252.0,829.6 253.5,829.5 255.0,829.3 256.5,828.9 258.0,828.5 259.5,827.9 261.0,827.2 262.5,826.3 264.0,825.4 265.5,824.3 267.0,823.2 268.5,821.9 270.0,820.5 271.5,819.0 273.0,817.4 274.5,815.7 276.0,813.8 277.5,811.9 279.0,810.0 280.5,807.9 282.0,805.7 283.5,803.5 285.0,801.2 286.5,798.8 288.0,796.3 289.5,793.8 291.0,791.3 292.5,788.6 294.0,786.0 295.5,783.3 297.0,780.5 298.5,777.8 300.0,775.0 301.5,772.2 303.0,769.3 304.5,766.5 306.0,763.7 307.5,760.8 309.0,758.0 310.5,755.2 312.0,752.4 313.5,749.6 315.0,746.9 316.5,744.1 318.0,741.5 319.5,738.8 321.0,736.3 322.5,733.7 324.0,731.3 325.5,728.9 327.0,726.5 328.5,724.3 330.0,722.1 331.5,720.0 333.0,718.0 334.5,716.1 336.0,714.2 337.5,712.5 339.0,710.8 340.5,709.3 342.0,707.9 343.5,706.6 345.0,705.4 346.5,704.3 348.0,703.3 349.5,702.4 351.0,701.7 352.5,701.1 354.0,700.6 355.5,700.2 357.0,699.9 358.5,699.8 360.0,699.8 361.5,699.9 363.0,700.2 364.5,700.5 366.0,701.0 367.5,701.6 369.0,702.4 370.5,703.2 372.0,704.2 373.5,705.3 375.0,706.5 376.5,707.8 378.0,709.2 379.5,710.7 381.0,712.4 382.5,714.1 384.0,715.9 385.5,717.8 387.0,719.9 388.5,722.0 390.0,724.1 391.5,726.4 393.0,728.7 394.5,731.1 396.0,733.6 397.5,736.1 399.0,738.7 400.5,741.3 402.0,744.0 403.5,746.7 405.0,749.4 406.5,752.2 408.0,755.0 409.5,757.8 411.0,760.6 412.5,763.5 414.0,766.3 415.5,769.1 417.0,772.0 418.5,774.8 420.0,777.6 421.5,780.4 423.0,783.1 424.5,785.8 426.0,788.5 427.5,791.1 429.0,793.6 430.5,796.2 432.0,798.6 433.5,801.0 435.0,803.3 436.5,805.6 438.0,807.7 439.5,809.8 441.0,811.8 442.5,813.7 444.0,815.5 445.5,817.2 447.0,818.9 448.5,820.4 450.0,821.8 451.5,823.1 453.0,824.3 454.5,825.3 456.0,826.3 457.5,827.1 459.0,827.8 460.5,828.4 462.0,828.9 463.5,829.3 465.0,829.5 466.5,829.6 468.0,829.6" fill="none" stroke="#3c3c3c" stroke-width="1"/>
<polyline points="36.0,841.4 37.5,841.3 39.0,841.0 40.5,840.6 42.0,839.9 43.5,839.0 45.0,838.0 46.5,836.7 48.0,835.3 49.5,833.8 51.0,832.1 52.5,830.2 54.0,828.2 55.5,826.1 57.0,823.9 58.5,821.7 60.0,819.3 61.5,816.8 63.0,814.3 64.5,811.7 66.0,809.1 67.5,806.5 69.0,803.8 70.5,801.1 72.0,798.4 73.5,795.6 75.0,792.9 76.5,790.1 78.0,787.3 79.5,784.5 81.0,781.7 82.5,778.9 84.0,776.1 85.5,773.3 87.0,770.5 88.5,767.6 90.0,764.8 91.5,762.0 93.0,759.1 94.5,756.3 96.0,753.5 97.5,750.7 99.0,747.8 100.5,745.0 102.0,742.3 103.5,739.5 105.0,736.7 106.5,734.0 108.0,731.2 109.5,728.5 111.0,725.8 112.5,723.1 114.0,720.4 115.5,717.8 117.0,715.3 118.5,712.7 120.0,710.3 121.5,707.9 123.0,705.6 124.5,703.4 126.0,701.3 127.5,699.3 129.0,697.4 130.5,695.7 132.0,694.2 133.5,692.7 135.0,691.5 136.5,690.4 138.0,689.6 139.5,688.9 141.0,688.4 142.5,688.1 144.0,688.0 145.5,688.1 147.0,688.4 148.5,689.0 150.0,689.7 151.5,690.6 153.0,691.7 154.5,692.9 156.0,694.4 157.5,695.9 159.0,697.7 160.5,699.6 162.0,701.6 163.5,703.7 165.0,705.9 166.5,708.2 168.0,710.6 169.5,713.1 171.0,715.6 172.5,718.2 174.0,720.8 175.5,723.4 177.0,726.1 178.5,728.8 180.0,731.6 181.5,734.3 183.0,737.1 184.5,739.8 186.0,742.6 187.5,745.4 189.0,748.2 190.5,751.0 192.0,753.8 193.5,756.7 195.0,759.5 196.5,762.3 198.0,765.2 199.5,768.0 201.0,770.8 202.5,773.7 204.0,776.5 205.5,779.3 207.0,782.1 208.5,784.9 210.0,787.7 211.5,790.5 213.0,793.2 214.5,796.0 216.0,798.7 217.5,801.5 219.0,804.2 220.5,806.8 222.0,809.5 223.5,812.1 225.0,814.6 226.5,817.2 228.0,819.6 229.5,822.0 231.0,824.2 232.5,826.4 234.0,828.5 235.5,830.5 237.0,832.3 238.5,834.0 240.0,835.5 241.5,836.9 243.0,838.1 244.5,839.2 246.0,840.0 247.5,840.6 249.0,841.1 250.5,841.3 252.0,841.4 253.5,841.2 255.0,840.9 256.5,840.3 258.0,839.6 259.5,838.6 261.0,837.5 262.5,836.2 264.0,834.7 265.5,833.1 267.0,831.3 268.5,829.4 270.0,827.4 271.5,825.3 273.0,823.0 274.5,820.7 276.0,818.3 277.5,815.8 279.0,813.3 280.5,810.7 282.0,808.1 283.5,805.4 285.0,802.7 286.5,800.0 288.0,797.3 289.5,794.5 291.0,791.8 292.5,789.0 294.0,786.2 295.5,783.4 297.0,780.6 298.5,777.8 300.0,775.0 301.5,772.2 303.0,769.3 304.5,766.5 306.0,763.7 307.5,760.8 309.0,758.0 310.5,755.2 312.0,752.3 313.5,749.5 315.0,746.7 316.5,743.9 318.0,741.1 319.5,738.4 321.0,735.6 322.5,732.9 324.0,730.1 325.5,727.4 327.0,724.7 328.5,722.0 330.0,719.4 331.5,716.8 333.0,714.2 334.5,711.8 336.0,709.3 337.5,707.0 339.0,704.7 340.5,702.5 342.0,700.5 343.5,698.5 345.0,696.7 346.5,695.1 348.0,693.6 349.5,692.2 351.0,691.1 352.5,690.1 354.0,689.3 355.5,688.6 357.0,688.2 358.5,688.0 360.0,688.0 361.5,688.2 363.0,688.6 364.5,689.2 366.0,690.0 367.5,691.0 369.0,692.1 370.5,693.5 372.0,695.0 373.5,696.6 375.0,698.4 376.5,700.4 378.0,702.4 379.5,704.6 381.0,706.8 382.5,709.2 384.0,711.6 385.5,714.1 387.0,716.6 388.5,719.2 390.0,721.9 391.5,724.5 393.0,727.2 394.5,729.9 396.0,732.7 397.5,735.4 399.0,738.2 400.5,741.0 402.0,743.7 403.5,746.5 405.0,749.3 406.5,752.2 408.0,755.0 409.5,757.8 411.0,760.6 412.5,763.5 414.0,766.3 415.5,769.1 417.0,772.0 418.5,774.8 420.0,777.6 421.5,780.4 423.0,783.2 424.5,786.0 426.0,788.8 427.5,791.6 429.0,794.3 430.5,797.1 432.0,799.8 433.5,802.5 435.0,805.2 436.5,807.9 438.0,810.5 439.5,813.1 441.0,815.7 442.5,818.1 444.0,820.6 445.5,822.9 447.0,825.1 448.5,827.3 450.0,829.3 451.5,831.2 453.0,833.0 454.5,834.6 456.0,836.1 457.5,837.4 459.0,838.6 460.5,839.5 462.0,840.3 463.5,840.8 465.0,841.2 466.5,841.4 468.0,841.4" fill="none" stroke="#bebe28" stroke-width="1"/>
<polyline points="36.0,854.2 37.5,854.1 39.0,853.7 40.5,853.0 42.0,852.1 43.5,850.8 45.0,849.4 46.5,847.6 48.0,845.7 49.5,843.6 51.0,841.2 52.5,838.7 54.0,836.0 55.5,833.3 57.0,830.4 58.5,827.4 60.0,824.4 61.5,821.3 63.0,818.2 64.5,815.0 66.0,811.9 67.5,808.8 69.0,805.7 70.5,802.6 72.0,799.5 73.5,796.5 75.0,793.5 76.5,790.6 78.0,787.6 79.5,784.7 81.0,781.9 82.5,779.0 84.0,776.1 85.5,773.3 87.0,770.5 88.5,767.6 90.0,764.8 91.5,762.0 93.0,759.1 94.5,756.3 96.0,753.4 97.5,750.6 99.0,747.7 100.5,744.9 102.0,742.0 103.5,739.0 105.0,736.1 106.5,733.1 108.0,730.1 109.5,727.0 111.0,723.9 112.5,720.8 114.0,717.7 115.5,714.6 117.0,711.4 118.5,708.3 120.0,705.2 121.5,702.2 123.0,699.2 124.5,696.3 126.0,693.5 127.5,690.9 129.0,688.4 130.5,686.0 132.0,683.8 133.5,681.9 135.0,680.1 136.5,678.6 138.0,677.4 139.5,676.4 141.0,675.7 142.5,675.3 144.0,675.2 145.5,675.4 147.0,675.8 148.5,676.5 150.0,677.6 151.5,678.8 153.0,680.4 154.5,682.1 156.0,684.1 157.5,686.3 159.0,688.7 160.5,691.2 162.0,693.9 163.5,696.7 165.0,699.6 166.5,702.6 168.0,705.6 169.5,708.7 171.0,711.9 172.5,715.0 174.0,718.1 175.5,721.3 177.0,724.4 178.5,727.4 180.0,730.5 181.5,733.5 183.0,736.5 184.5,739.4 186.0,742.3 187.5,745.2 189.0,748.1 190.5,751.0 192.0,753.8 193.5,756.7 195.0,759.5 196.5,762.3 198.0,765.2 199.5,768.0 201.0,770.8 202.5,773.7 204.0,776.5 205.5,779.4 207.0,782.2 208.5,785.1 210.0,788.0 211.5,791.0 213.0,793.9 214.5,796.9 216.0,799.9 217.5,803.0 219.0,806.1 220.5,809.2 222.0,812.3 223.5,815.5 225.0,818.6 226.5,821.7 228.0,824.8 229.5,827.8 231.0,830.8 232.5,833.6 234.0,836.4 235.5,839.0 237.0,841.5 238.5,843.8 240.0,846.0 241.5,847.9 243.0,849.6 244.5,851.0 246.0,852.2 247.5,853.1 249.0,853.8 250.5,854.1 252.0,854.2 253.5,854.0 255.0,853.5 256.5,852.7 258.0,851.6 259.5,850.3 261.0,848.7 262.5,846.9 264.0,844.9 265.5,842.6 267.0,840.2 268.5,837.7 270.0,834.9 271.5,832.1 273.0,829.2 274.5,826.2 276.0,823.1 277.5,820.0 279.0,816.9 280.5,813.8 282.0,810.6 283.5,807.5 285.0,804.4 286.5,801.4 288.0,798.3 289.5,795.3 291.0,792.3 292.5,789.4 294.0,786.5 295.5,783.6 297.0,780.7 298.5,777.9 300.0,775.0 301.5,772.2 303.0,769.3 304.5,766.5 306.0,763.7 307.5,760.8 309.0,758.0 310.5,755.1 312.0,752.3 313.5,749.5 315.0,746.6 316.5,743.7 318.0,740.8 319.5,737.9 321.0,734.9 322.5,731.9 324.0,728.9 325.5,725.8 327.0,722.7 328.5,719.6 330.0,716.5 331.5,713.3 333.0,710.2 334.5,707.1 336.0,704.0 337.5,701.0 339.0,698.0 340.5,695.2 342.0,692.5 343.5,689.8 345.0,687.4 346.5,685.1 348.0,683.0 349.5,681.2 351.0,679.5 352.5,678.1 354.0,677.0 355.5,676.1 357.0,675.5 358.5,675.2 360.0,675.2 361.5,675.5 363.0,676.1 364.5,676.9 366.0,678.0 367.5,679.4 369.0,681.0 370.5,682.9 372.0,685.0 373.5,687.2 375.0,689.7 376.5,692.3 378.0,695.0 379.5,697.9 381.0,700.8 382.5,703.8 384.0,706.9 385.5,710.0 387.0,713.1 388.5,716.2 390.0,719.4 391.5,722.5 393.0,725.6 394.5,728.7 396.0,731.7 397.5,734.7 399.0,737.7 400.5,740.6 402.0,743.5 403.5,746.4 405.0,749.3 406.5,752.1 408.0,755.0 409.5,757.8 411.0,760.6 412.5,763.5 414.0,766.3 415.5,769.1 417.0,772.0 418.5,774.8 420.0,777.7 421.5,780.5 423.0,783.4 424.5,786.3 426.0,789.2 427.5,792.1 429.0,795.1 430.5,798.1 432.0,801.2 433.5,804.2 435.0,807.3 436.5,810.4 438.0,813.6 439.5,816.7 441.0,819.8 442.5,822.9 444.0,826.0 445.5,829.0 447.0,831.9 448.5,834.8 450.0,837.5 451.5,840.1 453.0,842.5 454.5,844.7 456.0,846.8 457.5,848.6 459.0,850.2 460.5,851.5 462.0,852.6 463.5,853.4 465.0,853.9 466.5,854.2 468.0,854.1" fill="none" stroke="#b820b8" stroke-width="1"/>
<polyline points="36.0,870.7 37.5,870.6 39.0,870.0 40.5,869.1 42.0,867.8 43.5,866.1 45.0,864.1 46.5,861.7 48.0,859.1 49.5,856.1 51.0,853.0 52.5,849.6 54.0,846.1 55.5,842.4 57.0,838.7 58.5,834.8 60.0,830.9 61.5,827.0 63.0,823.1 64.5,819.3 66.0,815.5 67.5,811.7 69.0,808.1 70.5,804.5 72.0,801.0 73.5,797.6 75.0,794.3 76.5,791.1 78.0,788.0 79.5,785.0 81.0,782.0 82.5,779.1 84.0,776.2 85.5,773.3 87.0,770.5 88.5,767.6 90.0,764.8 91.5,762.0 93.0,759.1 94.5,756.3 96.0,753.4 97.5,750.5 99.0,747.6 100.5,744.6 102.0,741.6 103.5,738.5 105.0,735.3 106.5,732.0 108.0,728.6 109.5,725.1 111.0,721.6 112.5,717.9 114.0,714.2 115.5,710.4 117.0,706.5 118.5,702.6 120.0,698.7 121.5,694.8 123.0,691.0 124.5,687.2 126.0,683.5 127.5,680.0 129.0,676.6 130.5,673.5 132.0,670.5 133.5,667.9 135.0,665.5 136.5,663.4 138.0,661.7 139.5,660.4 141.0,659.4 142.5,658.9 144.0,658.7 145.5,658.9 147.0,659.5 148.5,660.6 150.0,662.0 151.5,663.7 153.0,665.8 154.5,668.2 156.0,670.9 157.5,673.9 159.0,677.1 160.5,680.5 162.0,684.0 163.5,687.7 165.0,691.5 166.5,695.4 168.0,699.2 169.5,703.2 171.0,707.0 172.5,710.9 174.0,714.7 175.5,718.4 177.0,722.1 178.5,725.6 180.0,729.1 181.5,732.4 183.0,735.7 184.5,738.9 186.0,742.0 187.5,745.0 189.0,748.0 190.5,750.9 192.0,753.8 193.5,756.6 195.0,759.5 196.5,762.3 198.0,765.2 199.5,768.0 201.0,770.9 202.5,773.7 204.0,776.6 205.5,779.5 207.0,782.4 208.5,785.4 210.0,788.4 211.5,791.6 213.0,794.8 214.5,798.1 216.0,801.5 217.5,805.0 219.0,808.5 220.5,812.2 222.0,816.0 223.5,819.8 225.0,823.7 226.5,827.5 228.0,831.5 229.5,835.3 231.0,839.2 232.5,842.9 234.0,846.6 235.5,850.1 237.0,853.4 238.5,856.5 240.0,859.4 241.5,862.0 243.0,864.3 244.5,866.3 246.0,868.0 247.5,869.2 249.0,870.1 250.5,870.6 252.0,870.7 253.5,870.4 255.0,869.7 256.5,868.6 258.0,867.1 259.5,865.3 261.0,863.1 262.5,860.7 264.0,857.9 265.5,854.9 267.0,851.7 268.5,848.2 270.0,844.7 271.5,840.9 273.0,837.1 274.5,833.3 276.0,829.4 277.5,825.5 279.0,821.6 280.5,817.7 282.0,814.0 283.5,810.2 285.0,806.6 286.5,803.1 288.0,799.6 289.5,796.3 291.0,793.1 292.5,789.9 294.0,786.8 295.5,783.8 297.0,780.8 298.5,777.9 300.0,775.0 301.5,772.2 303.0,769.3 304.5,766.5 306.0,763.7 307.5,760.8 309.0,758.0 310.5,755.1 312.0,752.3 313.5,749.4 315.0,746.4 316.5,743.4 318.0,740.3 319.5,737.2 321.0,734.0 322.5,730.7 324.0,727.2 325.5,723.7 327.0,720.1 328.5,716.4 330.0,712.7 331.5,708.8 333.0,705.0 334.5,701.1 336.0,697.2 337.5,693.3 339.0,689.5 340.5,685.7 342.0,682.1 343.5,678.6 345.0,675.3 346.5,672.3 348.0,669.4 349.5,666.9 351.0,664.6 352.5,662.7 354.0,661.2 355.5,660.0 357.0,659.2 358.5,658.8 360.0,658.7 361.5,659.1 363.0,659.9 364.5,661.1 366.0,662.6 367.5,664.5 369.0,666.7 370.5,669.3 372.0,672.1 373.5,675.1 375.0,678.4 376.5,681.9 378.0,685.5 379.5,689.2 381.0,693.0 382.5,696.9 384.0,700.8 385.5,704.7 387.0,708.6 388.5,712.4 390.0,716.2 391.5,719.9 393.0,723.5 394.5,727.0 396.0,730.4 397.5,733.8 399.0,737.0 400.5,740.1 402.0,743.2 403.5,746.2 405.0,749.2 406.5,752.1 408.0,754.9 409.5,757.8 411.0,760.6 412.5,763.5 414.0,766.3 415.5,769.1 417.0,772.0 418.5,774.8 420.0,777.7 421.5,780.6 423.0,783.6 424.5,786.6 426.0,789.7 427.5,792.8 429.0,796.1 430.5,799.4 432.0,802.9 433.5,806.4 435.0,810.0 436.5,813.7 438.0,817.5 439.5,821.3 441.0,825.2 442.5,829.1 444.0,833.0 445.5,836.9 447.0,840.7 448.5,844.4 450.0,848.0 451.5,851.4 453.0,854.7 454.5,857.7 456.0,860.5 457.5,863.0 459.0,865.2 460.5,867.0 462.0,868.5 463.5,869.6 465.0,870.3 466.5,870.7 468.0,870.6" fill="none" stroke="#20bebe" stroke-width="1"/>
<polyline points="36.0,889.7 37.5,889.5 39.0,888.8 40.5,887.6 42.0,885.8 43.5,883.6 45.0,881.0 46.5,877.9 48.0,874.4 49.5,870.6 51.0,866.6 52.5,862.2 54.0,857.7 55.5,853.0 57.0,848.2 58.5,843.4 60.0,838.5 61.5,833.6 63.0,828.9 64.5,824.2 66.0,819.6 67.5,815.1 69.0,810.8 70.5,806.7 72.0,802.7 73.5,798.9 75.0,795.3 76.5,791.8 78.0,788.5 79.5,785.3 81.0,782.2 82.5,779.2 84.0,776.2 85.5,773.3 87.0,770.5 88.5,767.6 90.0,764.8 91.5,762.0 93.0,759.1 94.5,756.3 96.0,753.4 97.5,750.4 99.0,747.4 100.5,744.3 102.0,741.1 103.5,737.8 105.0,734.3 106.5,730.7 108.0,726.9 109.5,723.0 111.0,718.9 112.5,714.6 114.0,710.1 115.5,705.6 117.0,700.9 118.5,696.1 120.0,691.2 121.5,686.4 123.0,681.5 124.5,676.7 126.0,672.0 127.5,667.5 129.0,663.1 130.5,659.0 132.0,655.2 133.5,651.7 135.0,648.6 136.5,645.9 138.0,643.7 139.5,641.9 141.0,640.7 142.5,639.9 144.0,639.7 145.5,640.0 147.0,640.8 148.5,642.2 150.0,644.0 151.5,646.3 153.0,649.0 154.5,652.2 156.0,655.7 157.5,659.6 159.0,663.7 160.5,668.1 162.0,672.6 163.5,677.3 165.0,682.1 166.5,687.0 168.0,691.9 169.5,696.7 171.0,701.5 172.5,706.2 174.0,710.7 175.5,715.2 177.0,719.4 178.5,723.5 180.0,727.5 181.5,731.2 183.0,734.8 184.5,738.3 186.0,741.6 187.5,744.7 189.0,747.8 190.5,750.8 192.0,753.8 193.5,756.6 195.0,759.5 196.5,762.3 198.0,765.2 199.5,768.0 201.0,770.9 202.5,773.7 204.0,776.6 205.5,779.6 207.0,782.6 208.5,785.7 210.0,788.9 211.5,792.3 213.0,795.8 214.5,799.4 216.0,803.2 217.5,807.2 219.0,811.4 220.5,815.7 222.0,820.2 223.5,824.8 225.0,829.5 226.5,834.3 228.0,839.1 229.5,844.0 231.0,848.9 232.5,853.6 234.0,858.3 235.5,862.8 237.0,867.1 238.5,871.2 240.0,874.9 241.5,878.3 243.0,881.3 244.5,883.9 246.0,886.1 247.5,887.7 249.0,888.9 250.5,889.6 252.0,889.7 253.5,889.3 255.0,888.4 256.5,886.9 258.0,885.0 259.5,882.6 261.0,879.8 262.5,876.5 264.0,873.0 265.5,869.0 267.0,864.9 268.5,860.4 270.0,855.8 271.5,851.1 273.0,846.3 274.5,841.4 276.0,836.6 277.5,831.7 279.0,827.0 280.5,822.3 282.0,817.8 283.5,813.4 285.0,809.1 286.5,805.1 288.0,801.2 289.5,797.5 291.0,793.9 292.5,790.5 294.0,787.2 295.5,784.0 297.0,781.0 298.5,778.0 300.0,775.1 301.5,772.2 303.0,769.3 304.5,766.5 306.0,763.7 307.5,760.8 309.0,758.0 310.5,755.1 312.0,752.2 313.5,749.2 315.0,746.2 316.5,743.1 318.0,739.8 319.5,736.4 321.0,732.9 322.5,729.2 324.0,725.4 325.5,721.4 327.0,717.2 328.5,712.8 330.0,708.3 331.5,703.7 333.0,699.0 334.5,694.1 336.0,689.3 337.5,684.4 339.0,679.6 340.5,674.8 342.0,670.2 343.5,665.7 345.0,661.4 346.5,657.5 348.0,653.8 349.5,650.4 351.0,647.5 352.5,645.0 354.0,642.9 355.5,641.4 357.0,640.3 358.5,639.8 360.0,639.8 361.5,640.3 363.0,641.3 364.5,642.8 366.0,644.8 367.5,647.3 369.0,650.2 370.5,653.5 372.0,657.2 373.5,661.2 375.0,665.4 376.5,669.9 378.0,674.5 379.5,679.3 381.0,684.1 382.5,689.0 384.0,693.8 385.5,698.6 387.0,703.4 388.5,708.0 390.0,712.5 391.5,716.9 393.0,721.1 394.5,725.1 396.0,729.0 397.5,732.7 399.0,736.2 400.5,739.6 402.0,742.9 403.5,746.0 405.0,749.0 406.5,752.0 408.0,754.9 409.5,757.8 411.0,760.6 412.5,763.5 414.0,766.3 415.5,769.2 417.0,772.0 418.5,774.9 420.0,777.8 421.5,780.8 423.0,783.8 424.5,787.0 426.0,790.2 427.5,793.7 429.0,797.2 430.5,800.9 432.0,804.8 433.5,808.9 435.0,813.1 436.5,817.5 438.0,822.0 439.5,826.6 441.0,831.4 442.5,836.2 444.0,841.1 445.5,846.0 447.0,850.8 448.5,855.5 450.0,860.1 451.5,864.6 453.0,868.8 454.5,872.7 456.0,876.3 457.5,879.6 459.0,882.4 460.5,884.9 462.0,886.8 463.5,888.3 465.0,889.2 466.5,889.7 468.0,889.6" fill="none" stroke="#d82424" stroke-width="1"/>
<polyline points="36.0,911.5 37.5,911.2 39.0,910.3 40.5,908.8 42.0,906.6 43.5,903.7 45.0,900.4 46.5,896.5 48.0,892.1 49.5,887.3 51.0,882.1 52.5,876.7 54.0,871.0 55.5,865.1 57.0,859.2 58.5,853.2 60.0,847.2 61.5,841.2 63.0,835.4 64.5,829.8 66.0,824.3 67.5,819.0 69.0,814.0 70.5,809.2 72.0,804.7 73.5,800.4 75.0,796.4 76.5,792.6 78.0,789.0 79.5,785.6 81.0,782.4 82.5,779.3 84.0,776.3 85.5,773.4 87.0,770.5 88.5,767.6 90.0,764.8 91.5,762.0 93.0,759.1 94.5,756.2 96.0,753.3 97.5,750.3 99.0,747.2 100.5,744.0 102.0,740.6 103.5,737.1 105.0,733.3 106.5,729.3 108.0,725.0 109.5,720.5 111.0,715.7 112.5,710.7 114.0,705.5 115.5,700.0 117.0,694.4 118.5,688.6 120.0,682.6 121.5,676.6 123.0,670.6 124.5,664.7 126.0,658.8 127.5,653.1 129.0,647.6 130.5,642.5 132.0,637.6 133.5,633.2 135.0,629.3 136.5,625.9 138.0,623.0 139.5,620.8 141.0,619.2 142.5,618.2 144.0,617.9 145.5,618.3 147.0,619.3 148.5,621.0 150.0,623.4 151.5,626.3 153.0,629.8 154.5,633.8 156.0,638.3 157.5,643.1 159.0,648.3 160.5,653.8 162.0,659.6 163.5,665.5 165.0,671.4 166.5,677.4 168.0,683.4 169.5,689.3 171.0,695.1 172.5,700.8 174.0,706.2 175.5,711.4 177.0,716.4 178.5,721.1 180.0,725.6 181.5,729.8 183.0,733.8 184.5,737.5 186.0,741.1 187.5,744.4 189.0,747.7 190.5,750.7 192.0,753.7 193.5,756.6 195.0,759.5 196.5,762.3 198.0,765.2 199.5,768.0 201.0,770.9 202.5,773.7 204.0,776.7 205.5,779.7 207.0,782.8 208.5,786.1 210.0,789.5 211.5,793.1 213.0,796.9 214.5,801.0 216.0,805.3 217.5,809.8 219.0,814.6 220.5,819.7 222.0,825.0 223.5,830.5 225.0,836.2 226.5,842.0 228.0,848.0 229.5,854.0 231.0,860.0 232.5,865.9 234.0,871.8 235.5,877.4 237.0,882.8 238.5,887.9 240.0,892.7 241.5,897.0 243.0,900.8 244.5,904.1 246.0,906.9 247.5,909.0 249.0,910.5 250.5,911.3 252.0,911.5 253.5,911.0 255.0,909.8 256.5,908.0 258.0,905.5 259.5,902.5 261.0,898.9 262.5,894.8 264.0,890.2 265.5,885.3 267.0,880.0 268.5,874.4 270.0,868.7 271.5,862.8 273.0,856.8 274.5,850.8 276.0,844.8 277.5,838.9 279.0,833.1 280.5,827.5 282.0,822.1 283.5,817.0 285.0,812.0 286.5,807.4 288.0,802.9 289.5,798.8 291.0,794.8 292.5,791.1 294.0,787.6 295.5,784.3 297.0,781.1 298.5,778.1 300.0,775.1 301.5,772.2 303.0,769.3 304.5,766.5 306.0,763.7 307.5,760.8 309.0,758.0 310.5,755.1 312.0,752.1 313.5,749.1 315.0,746.0 316.5,742.7 318.0,739.2 319.5,735.6 321.0,731.7 322.5,727.6 324.0,723.2 325.5,718.6 327.0,713.8 328.5,708.7 330.0,703.3 331.5,697.8 333.0,692.1 334.5,686.2 336.0,680.2 337.5,674.2 339.0,668.2 340.5,662.3 342.0,656.5 343.5,650.9 345.0,645.5 346.5,640.5 348.0,635.8 349.5,631.6 351.0,627.9 352.5,624.7 354.0,622.0 355.5,620.0 357.0,618.7 358.5,618.0 360.0,618.0 361.5,618.6 363.0,619.9 364.5,621.9 366.0,624.5 367.5,627.6 369.0,631.3 370.5,635.5 372.0,640.2 373.5,645.2 375.0,650.5 376.5,656.1 378.0,661.9 379.5,667.8 381.0,673.8 382.5,679.8 384.0,685.8 385.5,691.7 387.0,697.4 388.5,703.0 390.0,708.3 391.5,713.4 393.0,718.3 394.5,722.9 396.0,727.3 397.5,731.4 399.0,735.3 400.5,739.0 402.0,742.5 403.5,745.7 405.0,748.9 406.5,751.9 408.0,754.9 409.5,757.8 411.0,760.6 412.5,763.5 414.0,766.3 415.5,769.2 417.0,772.0 418.5,774.9 420.0,777.9 421.5,780.9 423.0,784.1 424.5,787.4 426.0,790.9 427.5,794.6 429.0,798.5 430.5,802.7 432.0,807.1 433.5,811.7 435.0,816.6 436.5,821.8 438.0,827.2 439.5,832.8 441.0,838.5 442.5,844.4 444.0,850.4 445.5,856.4 447.0,862.4 448.5,868.3 450.0,874.0 451.5,879.6 453.0,884.9 454.5,889.9 456.0,894.5 457.5,898.6 459.0,902.2 460.5,905.3 462.0,907.8 463.5,909.7 465.0,910.9 466.5,911.5 468.0,911.4" fill="none" stroke="#1a7a1a" stroke-width="1"/>
<polyline points="36.0,935.4 37.5,935.1 39.0,934.0 40.5,932.0 42.0,929.3 43.5,925.8 45.0,921.6 46.5,916.8 48.0,911.4 49.5,905.5 51.0,899.2 52.5,892.5 54.0,885.6 55.5,878.4 57.0,871.2 58.5,863.9 60.0,856.7 61.5,849.6 63.0,842.6 64.5,835.9 66.0,829.4 67.5,823.3 69.0,817.5 70.5,812.0 72.0,806.8 73.5,802.0 75.0,797.6 76.5,793.4 78.0,789.6 79.5,786.0 81.0,782.6 82.5,779.4 84.0,776.3 85.5,773.4 87.0,770.5 88.5,767.6 90.0,764.8 91.5,762.0 93.0,759.1 94.5,756.2 96.0,753.3 97.5,750.2 99.0,747.0 100.5,743.7 102.0,740.1 103.5,736.2 105.0,732.1 106.5,727.7 108.0,722.9 109.5,717.8 111.0,712.3 112.5,706.5 114.0,700.4 115.5,693.9 117.0,687.2 118.5,680.3 120.0,673.2 121.5,666.0 123.0,658.7 124.5,651.5 126.0,644.3 127.5,637.3 129.0,630.6 130.5,624.3 132.0,618.4 133.5,612.9 135.0,608.1 136.5,603.9 138.0,600.3 139.5,597.5 141.0,595.6 142.5,594.4 144.0,594.0 145.5,594.5 147.0,595.8 148.5,597.9 150.0,600.8 151.5,604.4 153.0,608.7 154.5,613.6 156.0,619.1 157.5,625.1 159.0,631.5 160.5,638.3 162.0,645.3 163.5,652.4 165.0,659.7 166.5,666.9 168.0,674.2 169.5,681.2 171.0,688.1 172.5,694.8 174.0,701.2 175.5,707.3 177.0,713.1 178.5,718.5 180.0,723.6 181.5,728.3 183.0,732.7 184.5,736.8 186.0,740.6 187.5,744.1 189.0,747.5 190.5,750.6 192.0,753.7 193.5,756.6 195.0,759.5 196.5,762.3 198.0,765.2 199.5,768.0 201.0,770.9 202.5,773.8 204.0,776.7 205.5,779.8 207.0,783.0 208.5,786.4 210.0,790.1 211.5,794.0 213.0,798.2 214.5,802.7 216.0,807.5 217.5,812.7 219.0,818.2 220.5,824.1 222.0,830.3 223.5,836.8 225.0,843.5 226.5,850.5 228.0,857.6 229.5,864.9 231.0,872.2 232.5,879.4 234.0,886.5 235.5,893.4 237.0,900.1 238.5,906.3 240.0,912.2 241.5,917.5 243.0,922.2 244.5,926.3 246.0,929.7 247.5,932.3 249.0,934.2 250.5,935.2 252.0,935.4 253.5,934.7 255.0,933.3 256.5,931.0 258.0,928.0 259.5,924.2 261.0,919.8 262.5,914.7 264.0,909.1 265.5,903.0 267.0,896.6 268.5,889.8 270.0,882.7 271.5,875.5 273.0,868.3 274.5,861.0 276.0,853.8 277.5,846.8 279.0,839.9 280.5,833.3 282.0,826.9 283.5,820.9 285.0,815.2 286.5,809.9 288.0,804.9 289.5,800.2 291.0,795.9 292.5,791.9 294.0,788.1 295.5,784.6 297.0,781.3 298.5,778.2 300.0,775.1 301.5,772.2 303.0,769.3 304.5,766.5 306.0,763.7 307.5,760.8 309.0,758.0 310.5,755.0 312.0,752.1 313.5,749.0 315.0,745.7 316.5,742.2 318.0,738.6 319.5,734.6 321.0,730.4 322.5,725.8 324.0,720.9 325.5,715.6 327.0,710.0 328.5,704.1 330.0,697.8 331.5,691.3 333.0,684.5 334.5,677.5 336.0,670.3 337.5,663.1 339.0,655.8 340.5,648.6 342.0,641.5 343.5,634.6 345.0,628.1 346.5,621.9 348.0,616.1 349.5,610.9 351.0,606.3 352.5,602.4 354.0,599.1 355.5,596.7 357.0,595.0 358.5,594.1 360.0,594.1 361.5,594.9 363.0,596.5 364.5,598.9 366.0,602.1 367.5,606.0 369.0,610.6 370.5,615.8 372.0,621.5 373.5,627.6 375.0,634.2 376.5,641.0 378.0,648.1 379.5,655.3 381.0,662.6 382.5,669.8 384.0,677.0 385.5,684.0 387.0,690.8 388.5,697.4 390.0,703.7 391.5,709.7 393.0,715.3 394.5,720.6 396.0,725.5 397.5,730.1 399.0,734.3 400.5,738.3 402.0,742.0 403.5,745.5 405.0,748.7 406.5,751.9 408.0,754.8 409.5,757.8 411.0,760.6 412.5,763.5 414.0,766.3 415.5,769.2 417.0,772.0 418.5,774.9 420.0,778.0 421.5,781.1 423.0,784.4 424.5,787.9 426.0,791.6 427.5,795.6 429.0,799.9 430.5,804.6 432.0,809.5 433.5,814.9 435.0,820.5 436.5,826.5 438.0,832.8 439.5,839.4 441.0,846.3 442.5,853.3 444.0,860.5 445.5,867.8 447.0,875.1 448.5,882.3 450.0,889.3 451.5,896.1 453.0,902.6 454.5,908.7 456.0,914.4 457.5,919.5 459.0,923.9 460.5,927.7 462.0,930.8 463.5,933.1 465.0,934.7 466.5,935.4 468.0,935.2" fill="none" stroke="#1010b8" stroke-width="1"/>
<text transform="translate(2.02 596.00) scale(1.091 1)" font-size="17.8">30</text>
<text transform="translate(1.71 659.60) scale(1.107 1)" font-size="17.8">20</text>
<text transform="translate(2.15 720.00) scale(1.084 1)" font-size="17.8">10</text>
<text transform="translate(6.55 783.50) scale(1.205 1)" font-size="17.8">0</text>
<text transform="translate(-0.22 847.00) scale(1.005 1)" font-size="17.8">-10</text>
<text transform="translate(-0.22 907.60) scale(1.005 1)" font-size="17.8">-20</text>
<text transform="translate(-0.22 970.60) scale(1.017 1)" font-size="17.8">-30</text>
<text transform="translate(32.90 989.20) scale(0.940 1)" font-size="18.2">0</text>
<text transform="translate(74.87 989.20) scale(1.136 1)" font-size="18.2">20</text>
<text transform="translate(124.91 989.20) scale(1.083 1)" font-size="18.2">40</text>
<text transform="translate(168.35 989.20) scale(1.158 1)" font-size="18.2">60</text>
<text transform="translate(211.36 989.20) scale(1.152 1)" font-size="18.2">80</text>
<text transform="translate(250.87 989.20) scale(1.120 1)" font-size="18.2">100</text>
<text transform="translate(300.71 989.20) scale(1.092 1)" font-size="18.2">120</text>
<text transform="translate(349.71 989.20) scale(1.088 1)" font-size="18.2">140</text>
<text transform="translate(398.68 989.20) scale(1.117 1)" font-size="18.2">160</text>
<text transform="translate(446.77 989.20) scale(1.120 1)" font-size="18.2">180</text>
<text transform="translate(44.85 595.00) scale(1.178 1)" font-size="21.6">mT/m</text>
<text x="492" y="946" font-size="22">ϕ</text>
</svg></body></html>
